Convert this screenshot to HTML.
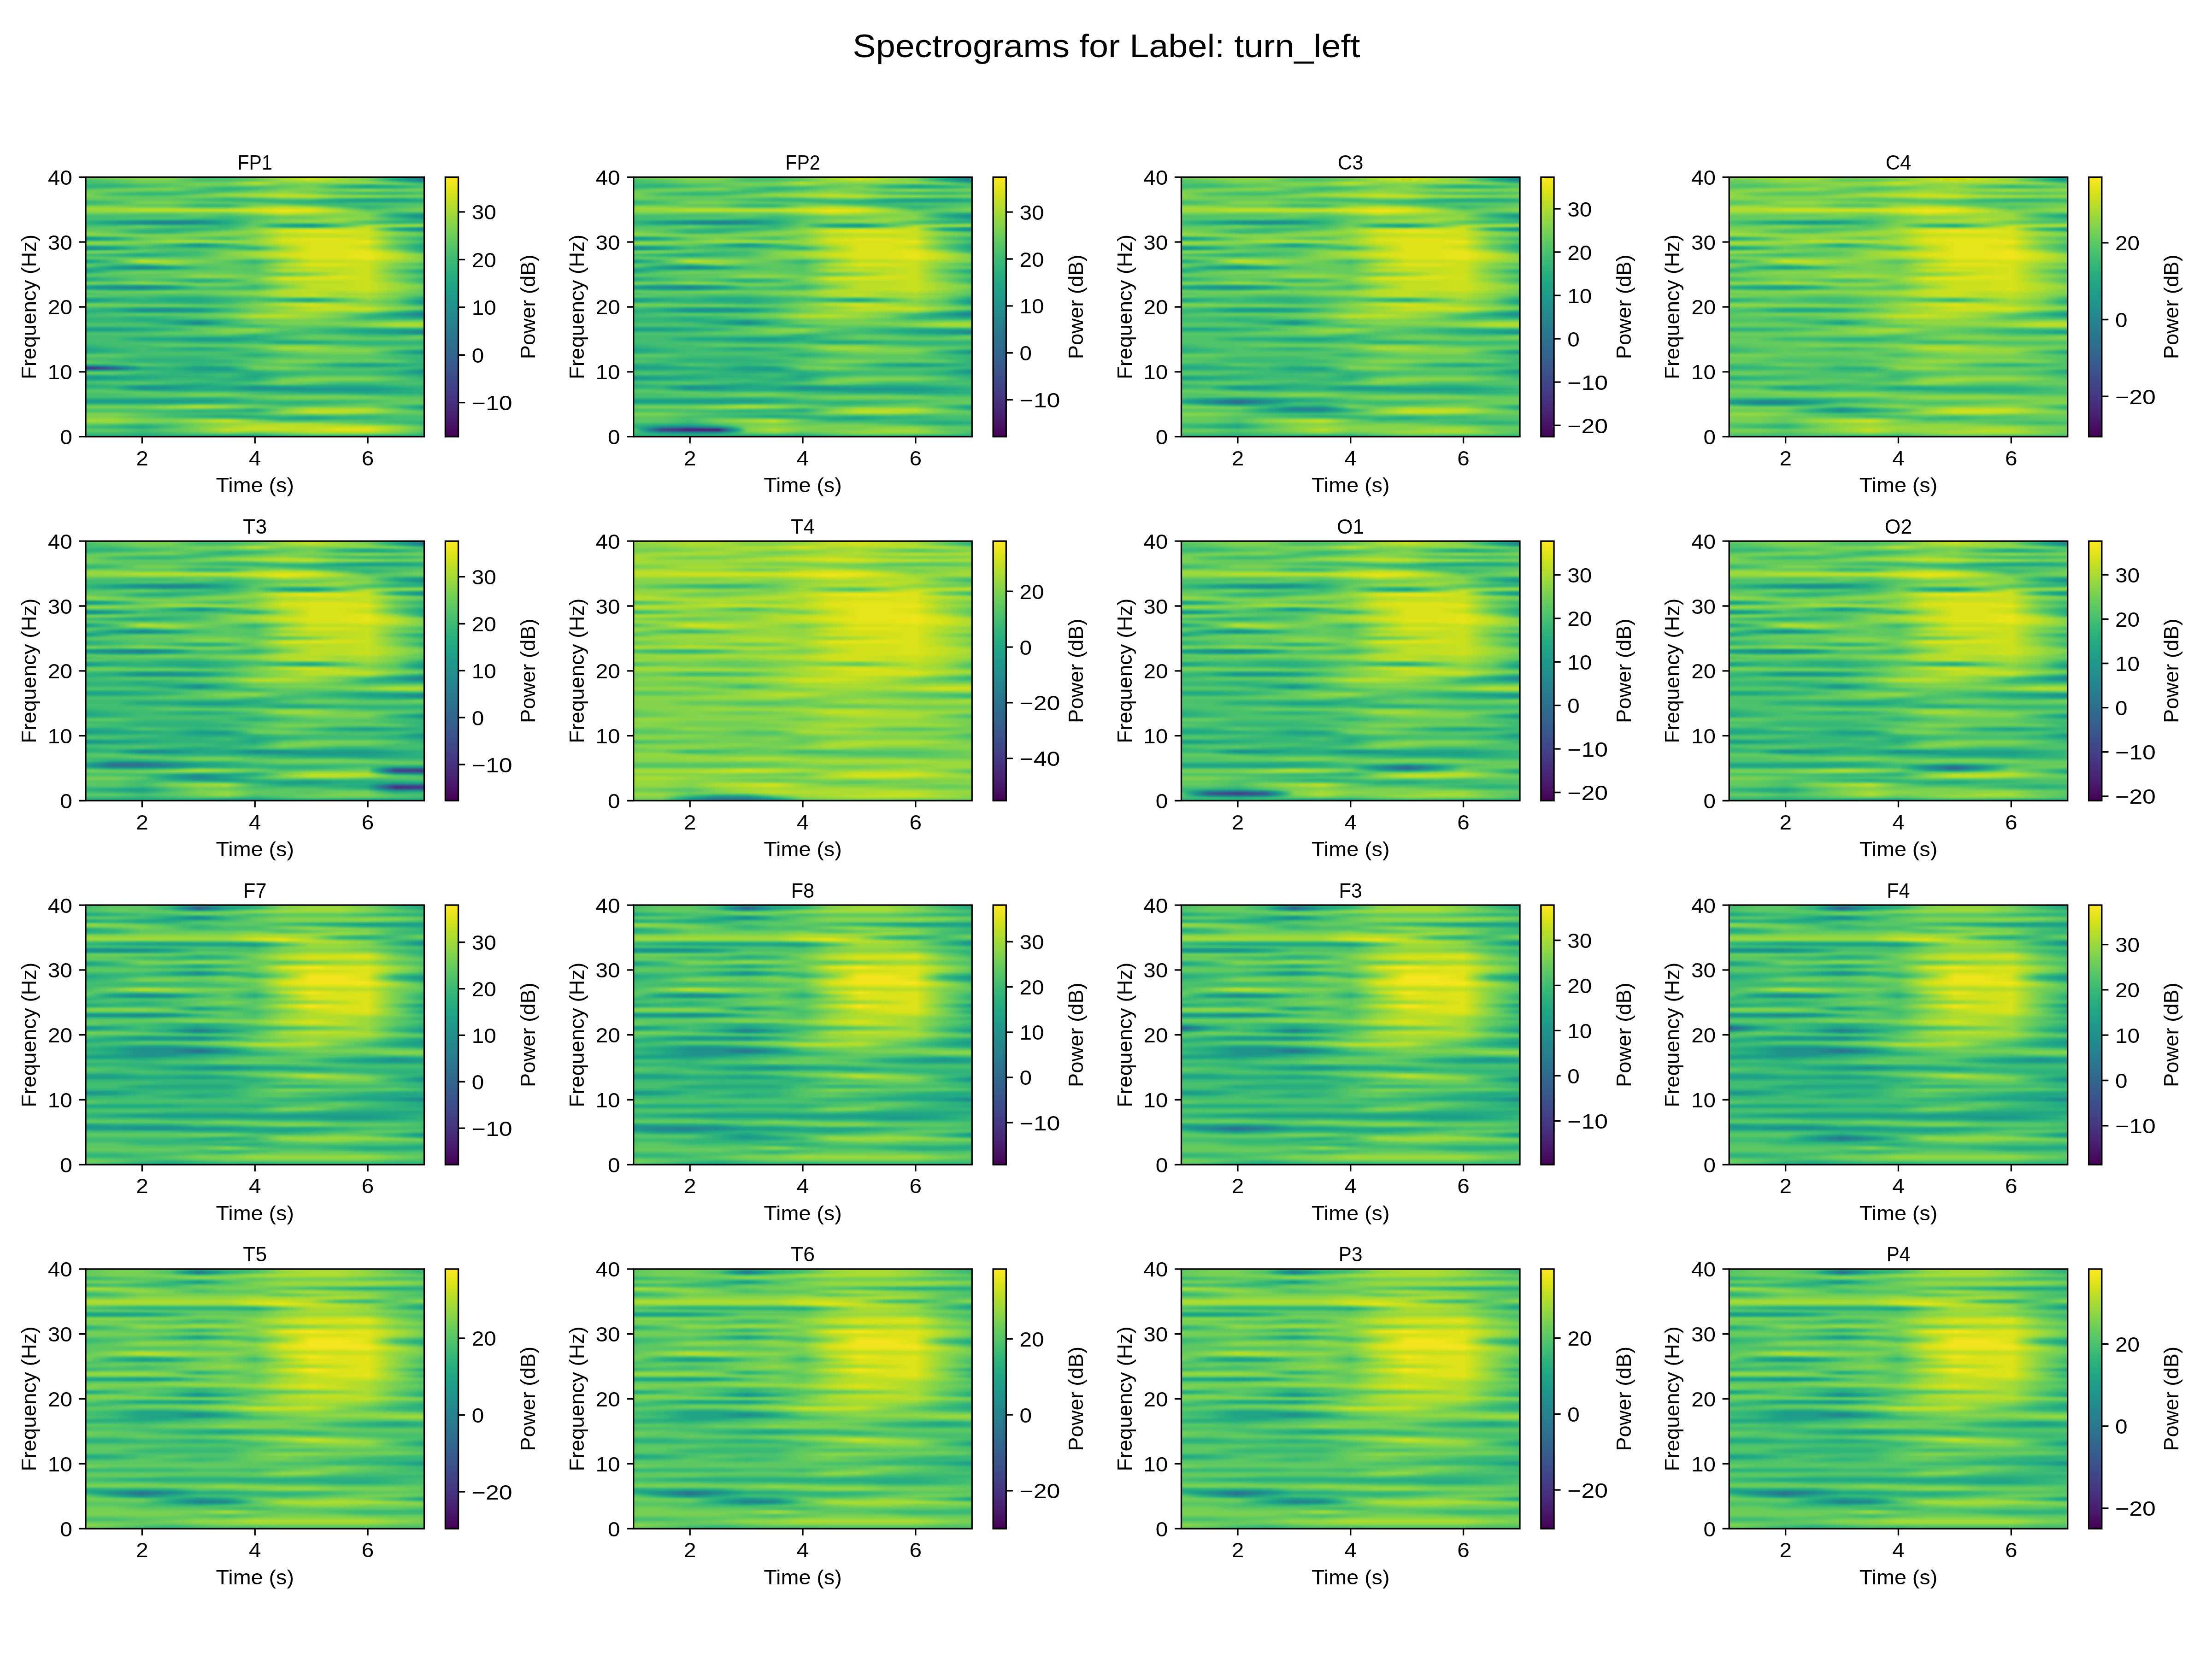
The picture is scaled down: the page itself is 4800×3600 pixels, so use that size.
<!DOCTYPE html><html><head><meta charset="utf-8"><style>
html,body{margin:0;padding:0;background:#fff;width:4800px;height:3600px;overflow:hidden;position:relative}
.p{position:absolute;overflow:hidden}
.q{position:absolute;left:-20px;right:-20px;top:-12.321px}
.q i{display:block;height:3.5204px}
svg{position:absolute;left:0;top:0;will-change:transform}
text{font-family:"Liberation Sans",sans-serif;fill:#000}
.r0{background:linear-gradient(90deg,#cccccc 20px,#cccccc,#cccccc,#cccccc,#bfbfbf,#bfbfbf,#cccccc,#d9d9d9,#e6e6e6,#d9d9d9,#cccccc,#b2b2b2,#808080 calc(100% - 20px))}
.r1{background:linear-gradient(90deg,#bcbcbc 20px,#c5c5c5,#cdcdcd,#cdcdcd,#b4b4b4,#b4b4b4,#bebebe,#dadada,#e9e9e9,#d9d9d9,#c9c9c9,#9a9a9a,#666666 calc(100% - 20px))}
.r2{background:linear-gradient(90deg,#b2b2b2 20px,#bfbfbf,#cccccc,#cccccc,#b2b2b2,#b2b2b2,#bfbfbf,#d9d9d9,#e6e6e6,#d9d9d9,#cccccc,#999999,#666666 calc(100% - 20px))}
.r3{background:linear-gradient(90deg,#b3b3b3 20px,#bababa,#c8c8c8,#c6c6c6,#c0c0c0,#c1c1c1,#d7d7d7,#d4d4d4,#d9d9d9,#d8d8d8,#d5d5d5,#b8b8b8,#8c8c8c calc(100% - 20px))}
.r4{background:linear-gradient(90deg,#b2b2b2 20px,#b2b2b2,#bfbfbf,#bfbfbf,#cccccc,#cccccc,#e6e6e6,#cccccc,#cccccc,#cccccc,#cccccc,#cccccc,#b2b2b2 calc(100% - 20px))}
.r5{background:linear-gradient(90deg,#aaaaaa 20px,#a6a6a6,#b4b4b4,#bbbbbb,#c9c9c9,#c4c4c4,#d0d0d0,#c3c3c3,#c9c9c9,#b3b3b3,#a2a2a2,#b1b1b1,#b7b7b7 calc(100% - 20px))}
.r6{background:linear-gradient(90deg,#a6a6a6 20px,#a6a6a6,#b2b2b2,#bfbfbf,#bfbfbf,#b2b2b2,#b2b2b2,#bfbfbf,#cccccc,#a6a6a6,#8c8c8c,#999999,#b2b2b2 calc(100% - 20px))}
.r7{background:linear-gradient(90deg,#b0b0b0 20px,#bbbbbb,#c3c3c3,#cbcbcb,#b8b8b8,#a5a5a5,#aeaeae,#c4c4c4,#cecece,#b9b9b9,#b3b3b3,#b1b1b1,#c1c1c1 calc(100% - 20px))}
.r8{background:linear-gradient(90deg,#bfbfbf 20px,#cccccc,#cccccc,#cccccc,#b2b2b2,#a6a6a6,#b9b9b9,#cccccc,#cccccc,#cccccc,#d9d9d9,#cccccc,#cccccc calc(100% - 20px))}
.r9{background:linear-gradient(90deg,#c8c8c8 20px,#c2c2c2,#b9b9b9,#b7b7b7,#aeaeae,#b7b7b7,#c6c6c6,#d1d1d1,#c8c8c8,#bebebe,#c1c1c1,#bababa,#bebebe calc(100% - 20px))}
.r10{background:linear-gradient(90deg,#cccccc 20px,#b2b2b2,#a6a6a6,#a6a6a6,#b2b2b2,#cccccc,#d2d2d2,#d9d9d9,#cccccc,#b2b2b2,#a6a6a6,#a6a6a6,#b2b2b2 calc(100% - 20px))}
.r11{background:linear-gradient(90deg,#cdcdcd 20px,#b5b5b5,#aeaeae,#afafaf,#c3c3c3,#d5d5d5,#dddddd,#e5e5e5,#dddddd,#c9c9c9,#c0c0c0,#bbbbbb,#c2c2c2 calc(100% - 20px))}
.r12{background:linear-gradient(90deg,#cccccc 20px,#bfbfbf,#bfbfbf,#bfbfbf,#cccccc,#cccccc,#d9d9d9,#e6e6e6,#e6e6e6,#d9d9d9,#d9d9d9,#cccccc,#cccccc calc(100% - 20px))}
.r13{background:linear-gradient(90deg,#c9c9c9 20px,#c3c3c3,#c1c1c1,#c1c1c1,#bfbfbf,#b4b4b4,#bdbdbd,#cecece,#d1d1d1,#bdbdbd,#b5b5b5,#aeaeae,#b4b4b4 calc(100% - 20px))}
.r14{background:linear-gradient(90deg,#bfbfbf 20px,#bfbfbf,#bfbfbf,#bfbfbf,#b2b2b2,#a6a6a6,#a6a6a6,#b2b2b2,#b2b2b2,#999999,#8c8c8c,#8c8c8c,#999999 calc(100% - 20px))}
.r15{background:linear-gradient(90deg,#aeaeae 20px,#b6b6b6,#c7c7c7,#c7c7c7,#bababa,#b3b3b3,#adadad,#aaaaaa,#a4a4a4,#979797,#979797,#989898,#9f9f9f calc(100% - 20px))}
.r16{background:linear-gradient(90deg,#a6a6a6 20px,#b2b2b2,#cccccc,#cccccc,#bfbfbf,#bfbfbf,#bfbfbf,#b2b2b2,#a6a6a6,#a6a6a6,#b2b2b2,#b2b2b2,#b2b2b2 calc(100% - 20px))}
.r17{background:linear-gradient(90deg,#b5b5b5 20px,#bdbdbd,#c3c3c3,#c3c3c3,#aeaeae,#afafaf,#c6c6c6,#c5c5c5,#b5b5b5,#acacac,#b2b2b2,#b7b7b7,#bcbcbc calc(100% - 20px))}
.r18{background:linear-gradient(90deg,#cccccc 20px,#cccccc,#bfbfbf,#bfbfbf,#a6a6a6,#a6a6a6,#cccccc,#d9d9d9,#cccccc,#b2b2b2,#a6a6a6,#b2b2b2,#bfbfbf calc(100% - 20px))}
.r19{background:linear-gradient(90deg,#d7d7d7 20px,#d6d6d6,#d2d2d2,#d2d2d2,#c5c5c5,#c4c4c4,#dddddd,#e8e8e8,#e4e4e4,#c6c6c6,#a7a7a7,#b8b8b8,#c6c6c6 calc(100% - 20px))}
.r20{background:linear-gradient(90deg,#d9d9d9 20px,#d9d9d9,#e6e6e6,#e6e6e6,#e6e6e6,#e6e6e6,#ececec,#f2f2f2,#f2f2f2,#d9d9d9,#b2b2b2,#bfbfbf,#cccccc calc(100% - 20px))}
.r21{background:linear-gradient(90deg,#d5d5d5 20px,#d6d6d6,#e0e0e0,#e0e0e0,#e1e1e1,#e2e2e2,#ececec,#f8f8f8,#f1f1f1,#dedede,#c1c1c1,#bebebe,#c8c8c8 calc(100% - 20px))}
.r22{background:linear-gradient(90deg,#cccccc 20px,#cccccc,#cccccc,#cccccc,#cccccc,#cccccc,#dfdfdf,#f2f2f2,#e6e6e6,#d9d9d9,#cccccc,#b2b2b2,#b2b2b2 calc(100% - 20px))}
.r23{background:linear-gradient(90deg,#bebebe 20px,#bdbdbd,#b9b9b9,#b9b9b9,#c2c2c2,#bcbcbc,#cccccc,#dfdfdf,#d7d7d7,#d0d0d0,#cecece,#a1a1a1,#8c8c8c calc(100% - 20px))}
.r24{background:linear-gradient(90deg,#b2b2b2 20px,#b2b2b2,#b2b2b2,#b2b2b2,#bfbfbf,#b2b2b2,#bdbdbd,#cbcbcb,#cccccc,#cccccc,#cdcdcd,#999999,#737373 calc(100% - 20px))}
.r25{background:linear-gradient(90deg,#b2b2b2 20px,#b5b5b5,#b9b9b9,#bbbbbb,#b9b9b9,#acacac,#b8b8b8,#c4c4c4,#c7c7c7,#d2d2d2,#d1d1d1,#a7a7a7,#818181 calc(100% - 20px))}
.r26{background:linear-gradient(90deg,#b2b2b2 20px,#b2b2b2,#b2b2b2,#b2b2b2,#a6a6a6,#a6a6a6,#bababa,#c9c9c9,#cccccc,#d9d9d9,#cfcfcf,#b2b2b2,#999999 calc(100% - 20px))}
.r27{background:linear-gradient(90deg,#acacac 20px,#9d9d9d,#8b8b8b,#858585,#838383,#9d9d9d,#bcbcbc,#d1d1d1,#d7d7d7,#d8d8d8,#bfbfbf,#a8a8a8,#9c9c9c calc(100% - 20px))}
.r28{background:linear-gradient(90deg,#a6a6a6 20px,#8c8c8c,#737373,#666666,#737373,#999999,#bebebe,#c8c8c8,#cccccc,#cccccc,#b6b6b6,#a6a6a6,#a6a6a6 calc(100% - 20px))}
.r29{background:linear-gradient(90deg,#aaaaaa 20px,#9a9a9a,#939393,#858585,#909090,#9e9e9e,#bfbfbf,#a6a6a6,#9c9c9c,#b9b9b9,#c6c6c6,#c5c5c5,#cbcbcb calc(100% - 20px))}
.r30{background:linear-gradient(90deg,#b2b2b2 20px,#b2b2b2,#bfbfbf,#b2b2b2,#b2b2b2,#a6a6a6,#c2c2c2,#949494,#808080,#b2b2b2,#dedede,#d9d9d9,#d9d9d9 calc(100% - 20px))}
.r31{background:linear-gradient(90deg,#bababa 20px,#bfbfbf,#c5c5c5,#b7b7b7,#b2b2b2,#ababab,#c7c7c7,#b3b3b3,#a9a9a9,#c8c8c8,#e9e9e9,#bababa,#a5a5a5 calc(100% - 20px))}
.r32{background:linear-gradient(90deg,#bfbfbf 20px,#bfbfbf,#b2b2b2,#a6a6a6,#a6a6a6,#b2b2b2,#cfcfcf,#e0e0e0,#e6e6e6,#e6e6e6,#ebebeb,#999999,#737373 calc(100% - 20px))}
.r33{background:linear-gradient(90deg,#c4c4c4 20px,#bcbcbc,#a4a4a4,#9e9e9e,#adadad,#bfbfbf,#d4d4d4,#f1f1f1,#fafafa,#f3f3f3,#ebebeb,#aaaaaa,#858585 calc(100% - 20px))}
.r34{background:linear-gradient(90deg,#cccccc 20px,#bfbfbf,#a6a6a6,#a6a6a6,#bfbfbf,#cccccc,#d5d5d5,#ededed,#f2f2f2,#f2f2f2,#ebebeb,#cccccc,#b2b2b2 calc(100% - 20px))}
.r35{background:linear-gradient(90deg,#d7d7d7 20px,#cccccc,#bababa,#bbbbbb,#cccccc,#d2d2d2,#cecece,#e4e4e4,#e9e9e9,#eaeaea,#ebebeb,#d5d5d5,#c5c5c5 calc(100% - 20px))}
.r36{background:linear-gradient(90deg,#cccccc 20px,#cccccc,#cccccc,#cccccc,#cccccc,#cccccc,#c8c8c8,#e0e0e0,#e6e6e6,#e6e6e6,#ebebeb,#cccccc,#bfbfbf calc(100% - 20px))}
.r37{background:linear-gradient(90deg,#9e9e9e 20px,#afafaf,#c8c8c8,#cdcdcd,#c1c1c1,#b9b9b9,#c9c9c9,#e6e6e6,#ebebeb,#ebebeb,#e9e9e9,#c2c2c2,#afafaf calc(100% - 20px))}
.r38{background:linear-gradient(90deg,#808080 20px,#999999,#bfbfbf,#cccccc,#bfbfbf,#b2b2b2,#cfcfcf,#ededed,#f2f2f2,#f2f2f2,#ebebeb,#bfbfbf,#a6a6a6 calc(100% - 20px))}
.r39{background:linear-gradient(90deg,#9d9d9d 20px,#acacac,#c4c4c4,#d7d7d7,#d5d5d5,#c9c9c9,#d3d3d3,#f0f0f0,#f4f4f4,#f4f4f4,#f2f2f2,#c6c6c6,#acacac calc(100% - 20px))}
.r40{background:linear-gradient(90deg,#cccccc 20px,#cccccc,#cccccc,#d9d9d9,#d9d9d9,#d9d9d9,#d5d5d5,#ededed,#f2f2f2,#f2f2f2,#f7f7f7,#cccccc,#b2b2b2 calc(100% - 20px))}
.r41{background:linear-gradient(90deg,#dadada 20px,#d3d3d3,#c9c9c9,#c0c0c0,#aaaaaa,#c3c3c3,#d4d4d4,#e8e8e8,#f2f2f2,#f2f2f2,#f3f3f3,#c8c8c8,#a8a8a8 calc(100% - 20px))}
.r42{background:linear-gradient(90deg,#bfbfbf 20px,#bfbfbf,#bfbfbf,#a6a6a6,#808080,#a6a6a6,#c8c8c8,#e0e0e0,#f2f2f2,#f2f2f2,#ebebeb,#bfbfbf,#999999 calc(100% - 20px))}
.r43{background:linear-gradient(90deg,#8b8b8b 20px,#9b9b9b,#b5b5b5,#a6a6a6,#8f8f8f,#a3a3a3,#afafaf,#d8d8d8,#f2f2f2,#f2f2f2,#e8e8e8,#bbbbbb,#969696 calc(100% - 20px))}
.r44{background:linear-gradient(90deg,#737373 20px,#8c8c8c,#b2b2b2,#b2b2b2,#b2b2b2,#b2b2b2,#a2a2a2,#d4d4d4,#f2f2f2,#f2f2f2,#ebebeb,#bfbfbf,#999999 calc(100% - 20px))}
.r45{background:linear-gradient(90deg,#9c9c9c 20px,#acacac,#bdbdbd,#b7b7b7,#bababa,#c2c2c2,#b7b7b7,#d8d8d8,#f2f2f2,#f2f2f2,#f2f2f2,#cbcbcb,#9c9c9c calc(100% - 20px))}
.r46{background:linear-gradient(90deg,#cccccc 20px,#cccccc,#bfbfbf,#b2b2b2,#b2b2b2,#cccccc,#d5d5d5,#e0e0e0,#f2f2f2,#f2f2f2,#f7f7f7,#d9d9d9,#a6a6a6 calc(100% - 20px))}
.r47{background:linear-gradient(90deg,#c7c7c7 20px,#bdbdbd,#ababab,#a9a9a9,#b0b0b0,#cdcdcd,#dedede,#e9e9e9,#f2f2f2,#f2f2f2,#f8f8f8,#e1e1e1,#bababa calc(100% - 20px))}
.r48{background:linear-gradient(90deg,#b2b2b2 20px,#a6a6a6,#999999,#a6a6a6,#b2b2b2,#cccccc,#dbdbdb,#ededed,#f2f2f2,#f2f2f2,#f7f7f7,#e6e6e6,#cccccc calc(100% - 20px))}
.r49{background:linear-gradient(90deg,#bababa 20px,#aeaeae,#a3a3a3,#afafaf,#b8b8b8,#cdcdcd,#d8d8d8,#ebebeb,#f4f4f4,#f4f4f4,#f8f8f8,#e7e7e7,#cfcfcf calc(100% - 20px))}
.r50{background:linear-gradient(90deg,#bfbfbf 20px,#bfbfbf,#bfbfbf,#bfbfbf,#bfbfbf,#cccccc,#cfcfcf,#e0e0e0,#f2f2f2,#f2f2f2,#f7f7f7,#e6e6e6,#cccccc calc(100% - 20px))}
.r51{background:linear-gradient(90deg,#a3a3a3 20px,#bcbcbc,#dadada,#cecece,#c8c8c8,#c6c6c6,#b9b9b9,#cfcfcf,#eaeaea,#eaeaea,#f1f1f1,#e0e0e0,#cecece calc(100% - 20px))}
.r52{background:linear-gradient(90deg,#8c8c8c 20px,#b2b2b2,#e6e6e6,#d9d9d9,#cccccc,#bfbfbf,#a8a8a8,#c7c7c7,#e6e6e6,#e6e6e6,#ebebeb,#d9d9d9,#cccccc calc(100% - 20px))}
.r53{background:linear-gradient(90deg,#a0a0a0 20px,#b5b5b5,#d7d7d7,#dcdcdc,#c8c8c8,#bebebe,#aaaaaa,#d3d3d3,#ececec,#ececec,#e9e9e9,#d1d1d1,#bdbdbd calc(100% - 20px))}
.r54{background:linear-gradient(90deg,#bfbfbf 20px,#b2b2b2,#b2b2b2,#cccccc,#bfbfbf,#bfbfbf,#b5b5b5,#e0e0e0,#f2f2f2,#f2f2f2,#ebebeb,#cccccc,#b2b2b2 calc(100% - 20px))}
.r55{background:linear-gradient(90deg,#c5c5c5 20px,#9d9d9d,#858585,#a5a5a5,#b6b6b6,#c0c0c0,#bbbbbb,#dadada,#ededed,#ededed,#ebebeb,#cdcdcd,#bbbbbb calc(100% - 20px))}
.r56{background:linear-gradient(90deg,#b2b2b2 20px,#8c8c8c,#737373,#8c8c8c,#b2b2b2,#bfbfbf,#bbbbbb,#d4d4d4,#e6e6e6,#e6e6e6,#ebebeb,#cccccc,#bfbfbf calc(100% - 20px))}
.r57{background:linear-gradient(90deg,#979797 20px,#9a9a9a,#949494,#a0a0a0,#b7b7b7,#bebebe,#bbbbbb,#dddddd,#e7e7e7,#e4e4e4,#ebebeb,#c5c5c5,#acacac calc(100% - 20px))}
.r58{background:linear-gradient(90deg,#8c8c8c 20px,#b2b2b2,#bfbfbf,#bfbfbf,#bfbfbf,#bfbfbf,#bbbbbb,#e0e0e0,#e6e6e6,#e6e6e6,#ebebeb,#bfbfbf,#999999 calc(100% - 20px))}
.r59{background:linear-gradient(90deg,#a5a5a5 20px,#bfbfbf,#c8c8c8,#c5c5c5,#c5c5c5,#c4c4c4,#bebebe,#cacaca,#d5d5d5,#e4e4e4,#ebebeb,#c4c4c4,#a1a1a1 calc(100% - 20px))}
.r60{background:linear-gradient(90deg,#bfbfbf 20px,#bfbfbf,#bfbfbf,#bfbfbf,#cccccc,#cccccc,#c2c2c2,#bababa,#cccccc,#e6e6e6,#ebebeb,#cccccc,#b2b2b2 calc(100% - 20px))}
.r61{background:linear-gradient(90deg,#bababa 20px,#bababa,#bebebe,#c0c0c0,#d4d4d4,#d2d2d2,#c5c5c5,#d0d0d0,#dedede,#ededed,#ebebeb,#cecece,#b8b8b8 calc(100% - 20px))}
.r62{background:linear-gradient(90deg,#a6a6a6 20px,#b2b2b2,#bfbfbf,#bfbfbf,#cccccc,#cccccc,#c8c8c8,#ededed,#f2f2f2,#f2f2f2,#ebebeb,#cccccc,#b2b2b2 calc(100% - 20px))}
.r63{background:linear-gradient(90deg,#9b9b9b 20px,#adadad,#bbbbbb,#b4b4b4,#acacac,#b4b4b4,#c9c9c9,#eeeeee,#f0f0f0,#ededed,#ebebeb,#cacaca,#a9a9a9 calc(100% - 20px))}
.r64{background:linear-gradient(90deg,#a6a6a6 20px,#b2b2b2,#bfbfbf,#b2b2b2,#999999,#a6a6a6,#c8c8c8,#e0e0e0,#e6e6e6,#e6e6e6,#ebebeb,#cccccc,#a6a6a6 calc(100% - 20px))}
.r65{background:linear-gradient(90deg,#c4c4c4 20px,#c3c3c3,#d2d2d2,#c7c7c7,#b0b0b0,#b8b8b8,#c4c4c4,#d9d9d9,#e3e3e3,#e4e4e4,#ebebeb,#d3d3d3,#b0b0b0 calc(100% - 20px))}
.r66{background:linear-gradient(90deg,#cccccc 20px,#bfbfbf,#cccccc,#cccccc,#cccccc,#cccccc,#bbbbbb,#d4d4d4,#e6e6e6,#e6e6e6,#ebebeb,#d9d9d9,#bfbfbf calc(100% - 20px))}
.r67{background:linear-gradient(90deg,#a2a2a2 20px,#949494,#939393,#a2a2a2,#c5c5c5,#c3c3c3,#afafaf,#cacaca,#e6e6e6,#e6e6e6,#eaeaea,#dadada,#cacaca calc(100% - 20px))}
.r68{background:linear-gradient(90deg,#808080 20px,#737373,#666666,#808080,#b2b2b2,#b2b2b2,#a8a8a8,#c7c7c7,#e6e6e6,#e6e6e6,#ebebeb,#d9d9d9,#cccccc calc(100% - 20px))}
.r69{background:linear-gradient(90deg,#999999 20px,#898989,#808080,#969696,#b4b4b4,#b3b3b3,#b1b1b1,#d3d3d3,#e6e6e6,#e7e7e7,#ececec,#dadada,#c6c6c6 calc(100% - 20px))}
.r70{background:linear-gradient(90deg,#bfbfbf 20px,#b2b2b2,#b2b2b2,#bfbfbf,#bfbfbf,#bfbfbf,#c2c2c2,#e0e0e0,#e6e6e6,#e6e6e6,#ebebeb,#d9d9d9,#bfbfbf calc(100% - 20px))}
.r71{background:linear-gradient(90deg,#bebebe 20px,#c2c2c2,#c4c4c4,#cacaca,#c4c4c4,#cacaca,#d1d1d1,#e3e3e3,#e4e4e4,#dedede,#e4e4e4,#d2d2d2,#c0c0c0 calc(100% - 20px))}
.r72{background:linear-gradient(90deg,#b2b2b2 20px,#bfbfbf,#bfbfbf,#bfbfbf,#bfbfbf,#cccccc,#d5d5d5,#e0e0e0,#e6e6e6,#d9d9d9,#dedede,#cccccc,#bfbfbf calc(100% - 20px))}
.r73{background:linear-gradient(90deg,#bdbdbd 20px,#bbbbbb,#b9b9b9,#b2b2b2,#b3b3b3,#c1c1c1,#cacaca,#e0e0e0,#e9e9e9,#dcdcdc,#dedede,#cccccc,#b5b5b5 calc(100% - 20px))}
.r74{background:linear-gradient(90deg,#bfbfbf 20px,#b2b2b2,#b2b2b2,#a6a6a6,#a6a6a6,#b2b2b2,#bbbbbb,#d4d4d4,#d9d9d9,#d9d9d9,#dedede,#cccccc,#a6a6a6 calc(100% - 20px))}
.r75{background:linear-gradient(90deg,#9b9b9b 20px,#a1a1a1,#ababab,#9c9c9c,#9d9d9d,#a9a9a9,#b4b4b4,#b2b2b2,#a8a8a8,#c2c2c2,#d8d8d8,#c6c6c6,#989898 calc(100% - 20px))}
.r76{background:linear-gradient(90deg,#808080 20px,#999999,#a6a6a6,#999999,#999999,#a6a6a6,#b5b5b5,#a1a1a1,#8c8c8c,#b2b2b2,#d1d1d1,#bfbfbf,#8c8c8c calc(100% - 20px))}
.r77{background:linear-gradient(90deg,#989898 20px,#a9a9a9,#a7a7a7,#a1a1a1,#9a9a9a,#a9a9a9,#bebebe,#bdbdbd,#b2b2b2,#c1c1c1,#cfcfcf,#bdbdbd,#858585 calc(100% - 20px))}
.r78{background:linear-gradient(90deg,#bfbfbf 20px,#bfbfbf,#b2b2b2,#b2b2b2,#a6a6a6,#b2b2b2,#c8c8c8,#e0e0e0,#e6e6e6,#d9d9d9,#d1d1d1,#bfbfbf,#8c8c8c calc(100% - 20px))}
.r79{background:linear-gradient(90deg,#cacaca 20px,#c8c8c8,#c4c4c4,#c5c5c5,#bcbcbc,#bdbdbd,#cccccc,#e2e2e2,#f0f0f0,#e3e3e3,#d5d5d5,#c5c5c5,#a6a6a6 calc(100% - 20px))}
.r80{background:linear-gradient(90deg,#bfbfbf 20px,#bfbfbf,#bfbfbf,#bfbfbf,#bfbfbf,#bfbfbf,#cbcbcb,#d5d5d5,#e6e6e6,#e6e6e6,#dddddd,#cccccc,#bfbfbf calc(100% - 20px))}
.r81{background:linear-gradient(90deg,#b1b1b1 20px,#a8a8a8,#949494,#939393,#9d9d9d,#b1b1b1,#c9c9c9,#d3d3d3,#e4e4e4,#e8e8e8,#e7e7e7,#d2d2d2,#c4c4c4 calc(100% - 20px))}
.r82{background:linear-gradient(90deg,#a6a6a6 20px,#999999,#737373,#737373,#808080,#a6a6a6,#c7c7c7,#d6d6d6,#e6e6e6,#e6e6e6,#e8e8e8,#cccccc,#b2b2b2 calc(100% - 20px))}
.r83{background:linear-gradient(90deg,#a2a2a2 20px,#a2a2a2,#8a8a8a,#8b8b8b,#919191,#aeaeae,#c4c4c4,#d6d6d6,#e0e0e0,#d8d8d8,#d8d8d8,#b3b3b3,#909090 calc(100% - 20px))}
.r84{background:linear-gradient(90deg,#a6a6a6 20px,#b2b2b2,#b2b2b2,#b2b2b2,#b2b2b2,#bfbfbf,#c9c9c9,#d7d7d7,#d9d9d9,#cccccc,#c1c1c1,#999999,#737373 calc(100% - 20px))}
.r85{background:linear-gradient(90deg,#aeaeae 20px,#b8b8b8,#bebebe,#bcbcbc,#c1c1c1,#cbcbcb,#dbdbdb,#e1e1e1,#d9d9d9,#cbcbcb,#aeaeae,#929292,#6f6f6f calc(100% - 20px))}
.r86{background:linear-gradient(90deg,#b2b2b2 20px,#b2b2b2,#b2b2b2,#b2b2b2,#bfbfbf,#cccccc,#e6e6e6,#e6e6e6,#d9d9d9,#cccccc,#a6a6a6,#999999,#808080 calc(100% - 20px))}
.r87{background:linear-gradient(90deg,#acacac 20px,#aaaaaa,#a1a1a1,#acacac,#b9b9b9,#c1c1c1,#d7d7d7,#dadada,#d3d3d3,#c5c5c5,#a8a8a8,#a4a4a4,#989898 calc(100% - 20px))}
.r88{background:linear-gradient(90deg,#a6a6a6 20px,#a6a6a6,#999999,#a6a6a6,#a6a6a6,#b2b2b2,#c6c6c6,#cccccc,#cccccc,#bfbfbf,#b2b2b2,#b2b2b2,#b2b2b2 calc(100% - 20px))}
.r89{background:linear-gradient(90deg,#a9a9a9 20px,#aaaaaa,#a3a3a3,#9c9c9c,#848484,#a9a9a9,#c5c5c5,#cacaca,#cccccc,#c5c5c5,#c0c0c0,#c6c6c6,#c9c9c9 calc(100% - 20px))}
.r90{background:linear-gradient(90deg,#b2b2b2 20px,#b2b2b2,#b2b2b2,#999999,#737373,#a6a6a6,#c6c6c6,#cccccc,#cccccc,#cccccc,#cccccc,#d9d9d9,#d9d9d9 calc(100% - 20px))}
.r91{background:linear-gradient(90deg,#b9b9b9 20px,#b9b9b9,#b9b9b9,#a7a7a7,#8d8d8d,#a9a9a9,#b6b6b6,#c6c6c6,#c7c7c7,#cacaca,#d3d3d3,#e2e2e2,#e0e0e0 calc(100% - 20px))}
.r92{background:linear-gradient(90deg,#b2b2b2 20px,#b2b2b2,#b2b2b2,#b2b2b2,#b2b2b2,#b2b2b2,#acacac,#bfbfbf,#bfbfbf,#bfbfbf,#cccccc,#d9d9d9,#d9d9d9 calc(100% - 20px))}
.r93{background:linear-gradient(90deg,#9b9b9b 20px,#9b9b9b,#a3a3a3,#acacac,#c0c0c0,#c0c0c0,#bdbdbd,#bfbfbf,#b8b8b8,#b1b1b1,#b2b2b2,#bababa,#bebebe calc(100% - 20px))}
.r94{background:linear-gradient(90deg,#8c8c8c 20px,#8c8c8c,#999999,#a6a6a6,#bfbfbf,#cccccc,#d2d2d2,#bfbfbf,#b2b2b2,#a6a6a6,#999999,#999999,#999999 calc(100% - 20px))}
.r95{background:linear-gradient(90deg,#9c9c9c 20px,#9c9c9c,#a3a3a3,#b1b1b1,#bfbfbf,#d0d0d0,#d4d4d4,#bababa,#b1b1b1,#a1a1a1,#929292,#898989,#787878 calc(100% - 20px))}
.r96{background:linear-gradient(90deg,#b2b2b2 20px,#b2b2b2,#b2b2b2,#bfbfbf,#bfbfbf,#cccccc,#c6c6c6,#b2b2b2,#b2b2b2,#a6a6a6,#999999,#8c8c8c,#737373 calc(100% - 20px))}
.r97{background:linear-gradient(90deg,#b7b7b7 20px,#b7b7b7,#b9b9b9,#bfbfbf,#bdbdbd,#c3c3c3,#b0b0b0,#b0b0b0,#b8b8b8,#b2b2b2,#a5a5a5,#9e9e9e,#969696 calc(100% - 20px))}
.r98{background:linear-gradient(90deg,#b2b2b2 20px,#b2b2b2,#b2b2b2,#b2b2b2,#b2b2b2,#b2b2b2,#9f9f9f,#b2b2b2,#bfbfbf,#bfbfbf,#b2b2b2,#b2b2b2,#bfbfbf calc(100% - 20px))}
.r99{background:linear-gradient(90deg,#b1b1b1 20px,#b1b1b1,#a2a2a2,#a2a2a2,#9c9c9c,#9b9b9b,#9c9c9c,#b7b7b7,#c6c6c6,#c5c5c5,#bebebe,#bfbfbf,#cacaca calc(100% - 20px))}
.r100{background:linear-gradient(90deg,#b2b2b2 20px,#b2b2b2,#999999,#999999,#8c8c8c,#8c8c8c,#9f9f9f,#b2b2b2,#bfbfbf,#bfbfbf,#bfbfbf,#bfbfbf,#bfbfbf calc(100% - 20px))}
.r101{background:linear-gradient(90deg,#b4b4b4 20px,#b3b3b3,#a3a3a3,#a2a2a2,#929292,#929292,#a4a4a4,#a1a1a1,#a7a7a7,#b0b0b0,#b3b3b3,#b2b2b2,#afafaf calc(100% - 20px))}
.r102{background:linear-gradient(90deg,#b2b2b2 20px,#b2b2b2,#b2b2b2,#b2b2b2,#a6a6a6,#a6a6a6,#acacac,#999999,#999999,#a6a6a6,#a6a6a6,#a6a6a6,#a6a6a6 calc(100% - 20px))}
.r103{background:linear-gradient(90deg,#adadad 20px,#b3b3b3,#b6b6b6,#bfbfbf,#bbbbbb,#b9b9b9,#bbbbbb,#aeaeae,#adadad,#afafaf,#a7a7a7,#a7a7a7,#a9a9a9 calc(100% - 20px))}
.r104{background:linear-gradient(90deg,#a6a6a6 20px,#b2b2b2,#b2b2b2,#bfbfbf,#bfbfbf,#bfbfbf,#c6c6c6,#cccccc,#cccccc,#bfbfbf,#b2b2b2,#b2b2b2,#b2b2b2 calc(100% - 20px))}
.r105{background:linear-gradient(90deg,#9f9f9f 20px,#adadad,#b2b2b2,#b2b2b2,#ababab,#b3b3b3,#c1c1c1,#dadada,#d9d9d9,#c9c9c9,#c1c1c1,#bebebe,#bababa calc(100% - 20px))}
.r106{background:linear-gradient(90deg,#999999 20px,#a6a6a6,#b2b2b2,#a6a6a6,#999999,#a6a6a6,#b9b9b9,#d9d9d9,#d9d9d9,#cccccc,#cccccc,#bfbfbf,#b2b2b2 calc(100% - 20px))}
.r107{background:linear-gradient(90deg,#949494 20px,#a2a2a2,#b2b2b2,#a9a9a9,#a1a1a1,#a9a9a9,#b6b6b6,#cdcdcd,#d3d3d3,#cecece,#cfcfcf,#b2b2b2,#959595 calc(100% - 20px))}
.r108{background:linear-gradient(90deg,#999999 20px,#a6a6a6,#b2b2b2,#b2b2b2,#b2b2b2,#b2b2b2,#b2b2b2,#bfbfbf,#cccccc,#cccccc,#cccccc,#a6a6a6,#808080 calc(100% - 20px))}
.r109{background:linear-gradient(90deg,#aeaeae 20px,#b4b4b4,#b3b3b3,#b6b6b6,#b7b7b7,#b4b4b4,#a6a6a6,#b6b6b6,#c5c5c5,#c6c6c6,#c6c6c6,#aaaaaa,#8e8e8e calc(100% - 20px))}
.r110{background:linear-gradient(90deg,#bfbfbf 20px,#bfbfbf,#b2b2b2,#b2b2b2,#b2b2b2,#b2b2b2,#9f9f9f,#b2b2b2,#bfbfbf,#bfbfbf,#bfbfbf,#b2b2b2,#a6a6a6 calc(100% - 20px))}
.r111{background:linear-gradient(90deg,#bcbcbc 20px,#bcbcbc,#adadad,#acacac,#ababab,#b4b4b4,#aaaaaa,#b7b7b7,#bcbcbc,#bdbdbd,#bcbcbc,#b2b2b2,#ababab calc(100% - 20px))}
.r112{background:linear-gradient(90deg,#b2b2b2 20px,#b2b2b2,#a6a6a6,#a6a6a6,#a6a6a6,#b2b2b2,#b9b9b9,#bfbfbf,#bfbfbf,#bfbfbf,#bfbfbf,#b2b2b2,#a6a6a6 calc(100% - 20px))}
.r113{background:linear-gradient(90deg,#b6b6b6 20px,#afafaf,#a1a1a1,#a3a3a3,#a4a4a4,#aaaaaa,#bcbcbc,#c9c9c9,#c9c9c9,#c4c4c4,#c6c6c6,#bdbdbd,#a5a5a5 calc(100% - 20px))}
.r114{background:linear-gradient(90deg,#bfbfbf 20px,#b2b2b2,#a6a6a6,#a6a6a6,#a6a6a6,#a6a6a6,#b9b9b9,#cccccc,#cccccc,#bfbfbf,#bfbfbf,#bfbfbf,#a6a6a6 calc(100% - 20px))}
.r115{background:linear-gradient(90deg,#bfbfbf 20px,#b8b8b8,#b7b7b7,#aeaeae,#a9a9a9,#afafaf,#bababa,#c5c5c5,#bfbfbf,#aaaaaa,#a2a2a2,#ababab,#a5a5a5 calc(100% - 20px))}
.r116{background:linear-gradient(90deg,#999999 20px,#a6a6a6,#bfbfbf,#b2b2b2,#a6a6a6,#b2b2b2,#bfbfbf,#bfbfbf,#b2b2b2,#999999,#8c8c8c,#999999,#a6a6a6 calc(100% - 20px))}
.r117{background:linear-gradient(90deg,#464646 20px,#6e6e6e,#acacac,#adadad,#989898,#a1a1a1,#c6c6c6,#c6c6c6,#b7b7b7,#a2a2a2,#9a9a9a,#a3a3a3,#aaaaaa calc(100% - 20px))}
.r118{background:linear-gradient(90deg,#191919 20px,#4c4c4c,#999999,#a6a6a6,#8c8c8c,#8c8c8c,#c6c6c6,#cccccc,#bfbfbf,#b2b2b2,#b2b2b2,#b2b2b2,#a6a6a6 calc(100% - 20px))}
.r119{background:linear-gradient(90deg,#595959 20px,#767676,#a2a2a2,#a4a4a4,#8f8f8f,#8b8b8b,#b7b7b7,#c3c3c3,#bcbcbc,#b7b7b7,#b8b8b8,#b1b1b1,#909090 calc(100% - 20px))}
.r120{background:linear-gradient(90deg,#b2b2b2 20px,#b2b2b2,#b2b2b2,#a6a6a6,#999999,#999999,#a6a6a6,#b2b2b2,#b2b2b2,#b2b2b2,#b2b2b2,#a6a6a6,#808080 calc(100% - 20px))}
.r121{background:linear-gradient(90deg,#cccccc 20px,#c4c4c4,#b2b2b2,#a7a7a7,#a2a2a2,#a9a9a9,#9c9c9c,#a7a7a7,#aeaeae,#afafaf,#aeaeae,#a1a1a1,#878787 calc(100% - 20px))}
.r122{background:linear-gradient(90deg,#b2b2b2 20px,#b2b2b2,#a6a6a6,#a6a6a6,#a6a6a6,#b2b2b2,#999999,#a6a6a6,#b2b2b2,#b2b2b2,#b2b2b2,#a6a6a6,#999999 calc(100% - 20px))}
.r123{background:linear-gradient(90deg,#8f8f8f 20px,#989898,#9b9b9b,#a4a4a4,#a5a5a5,#aeaeae,#979797,#b1b1b1,#bfbfbf,#c0c0c0,#c0c0c0,#b5b5b5,#a2a2a2 calc(100% - 20px))}
.r124{background:linear-gradient(90deg,#808080 20px,#8c8c8c,#999999,#a6a6a6,#a6a6a6,#a6a6a6,#999999,#bfbfbf,#cccccc,#cccccc,#cccccc,#bfbfbf,#a6a6a6 calc(100% - 20px))}
.r125{background:linear-gradient(90deg,#969696 20px,#9c9c9c,#a3a3a3,#acacac,#aeaeae,#a4a4a4,#a0a0a0,#c8c8c8,#d0d0d0,#cacaca,#cacaca,#bbbbbb,#acacac calc(100% - 20px))}
.r126{background:linear-gradient(90deg,#b2b2b2 20px,#b2b2b2,#b2b2b2,#b2b2b2,#b2b2b2,#a6a6a6,#acacac,#cccccc,#cccccc,#bfbfbf,#bfbfbf,#b2b2b2,#b2b2b2 calc(100% - 20px))}
.r127{background:linear-gradient(90deg,#b3b3b3 20px,#b9b9b9,#bdbdbd,#b2b2b2,#a7a7a7,#a8a8a8,#b8b8b8,#cdcdcd,#c2c2c2,#b3b3b3,#b3b3b3,#b3b3b3,#b5b5b5 calc(100% - 20px))}
.r128{background:linear-gradient(90deg,#a6a6a6 20px,#b2b2b2,#b2b2b2,#a6a6a6,#999999,#a6a6a6,#b2b2b2,#bfbfbf,#b2b2b2,#a6a6a6,#a6a6a6,#b2b2b2,#b2b2b2 calc(100% - 20px))}
.r129{background:linear-gradient(90deg,#a0a0a0 20px,#a8a8a8,#8c8c8c,#8e8e8e,#969696,#9f9f9f,#939393,#9c9c9c,#9e9e9e,#989898,#979797,#a6a6a6,#acacac calc(100% - 20px))}
.r130{background:linear-gradient(90deg,#a6a6a6 20px,#a6a6a6,#737373,#808080,#999999,#999999,#797979,#808080,#8c8c8c,#8c8c8c,#8c8c8c,#999999,#a6a6a6 calc(100% - 20px))}
.r131{background:linear-gradient(90deg,#b5b5b5 20px,#b3b3b3,#8b8b8b,#8d8d8d,#9c9c9c,#9a9a9a,#848484,#848484,#868686,#878787,#898989,#969696,#a5a5a5 calc(100% - 20px))}
.r132{background:linear-gradient(90deg,#bfbfbf 20px,#bfbfbf,#b2b2b2,#a6a6a6,#a6a6a6,#a6a6a6,#9f9f9f,#999999,#8c8c8c,#8c8c8c,#8c8c8c,#999999,#a6a6a6 calc(100% - 20px))}
.r133{background:linear-gradient(90deg,#bababa 20px,#bbbbbb,#c1c1c1,#b7b7b7,#bbbbbb,#bcbcbc,#b0b0b0,#a7a7a7,#9d9d9d,#9d9d9d,#959595,#9d9d9d,#a3a3a3 calc(100% - 20px))}
.r134{background:linear-gradient(90deg,#b2b2b2 20px,#b2b2b2,#bfbfbf,#bfbfbf,#cccccc,#cccccc,#b9b9b9,#b2b2b2,#b2b2b2,#b2b2b2,#a6a6a6,#a6a6a6,#a6a6a6 calc(100% - 20px))}
.r135{background:linear-gradient(90deg,#b5b5b5 20px,#b5b5b5,#bcbcbc,#bebebe,#c7c7c7,#c6c6c6,#bfbfbf,#c3c3c3,#c5c5c5,#c5c5c5,#bebebe,#b4b4b4,#b3b3b3 calc(100% - 20px))}
.r136{background:linear-gradient(90deg,#b2b2b2 20px,#b2b2b2,#b2b2b2,#b2b2b2,#b2b2b2,#b2b2b2,#bfbfbf,#cccccc,#cccccc,#cccccc,#cccccc,#bfbfbf,#bfbfbf calc(100% - 20px))}
.r137{background:linear-gradient(90deg,#9f9f9f 20px,#9f9f9f,#9d9d9d,#9d9d9d,#9a9a9a,#a1a1a1,#b6b6b6,#c3c3c3,#c3c3c3,#c1c1c1,#c1c1c1,#c1c1c1,#c0c0c0 calc(100% - 20px))}
.r138{background:linear-gradient(90deg,#8c8c8c 20px,#8c8c8c,#8c8c8c,#8c8c8c,#8c8c8c,#999999,#acacac,#b2b2b2,#b2b2b2,#b2b2b2,#b2b2b2,#bfbfbf,#bfbfbf calc(100% - 20px))}
.r139{background:linear-gradient(90deg,#909090 20px,#909090,#919191,#8f8f8f,#959595,#9f9f9f,#aaaaaa,#a7a7a7,#a6a6a6,#aeaeae,#b5b5b5,#c1c1c1,#c5c5c5 calc(100% - 20px))}
.r140{background:linear-gradient(90deg,#a6a6a6 20px,#a6a6a6,#a6a6a6,#a6a6a6,#b2b2b2,#b2b2b2,#b2b2b2,#a6a6a6,#a6a6a6,#b2b2b2,#bfbfbf,#bfbfbf,#bfbfbf calc(100% - 20px))}
.r141{background:linear-gradient(90deg,#c0c0c0 20px,#c0c0c0,#bfbfbf,#c7c7c7,#d8d8d8,#cecece,#c3c3c3,#b1b1b1,#b6b6b6,#bebebe,#c5c5c5,#b6b6b6,#a3a3a3 calc(100% - 20px))}
.r142{background:linear-gradient(90deg,#cccccc 20px,#cccccc,#cccccc,#d9d9d9,#e6e6e6,#d9d9d9,#c6c6c6,#bfbfbf,#cccccc,#cccccc,#cccccc,#b2b2b2,#8c8c8c calc(100% - 20px))}
.r143{background:linear-gradient(90deg,#bfbfbf 20px,#bfbfbf,#c1c1c1,#cacaca,#c7c7c7,#c0c0c0,#adadad,#c7c7c7,#dcdcdc,#dbdbdb,#dbdbdb,#bfbfbf,#999999 calc(100% - 20px))}
.r144{background:linear-gradient(90deg,#b2b2b2 20px,#b2b2b2,#b2b2b2,#b2b2b2,#a6a6a6,#a6a6a6,#999999,#cccccc,#e6e6e6,#e6e6e6,#e6e6e6,#cccccc,#b2b2b2 calc(100% - 20px))}
.r145{background:linear-gradient(90deg,#bcbcbc 20px,#bcbcbc,#b6b6b6,#aeaeae,#a7a7a7,#ababab,#a7a7a7,#d0d0d0,#e7e7e7,#e6e6e6,#dfdfdf,#cacaca,#c0c0c0 calc(100% - 20px))}
.r146{background:linear-gradient(90deg,#cccccc 20px,#cccccc,#bfbfbf,#b2b2b2,#b2b2b2,#b2b2b2,#b9b9b9,#cccccc,#d9d9d9,#d9d9d9,#cccccc,#bfbfbf,#bfbfbf calc(100% - 20px))}
.r147{background:linear-gradient(90deg,#cecece 20px,#cecece,#c0c0c0,#b1b1b1,#aaaaaa,#a1a1a1,#adadad,#bababa,#b7b7b7,#bdbdbd,#b4b4b4,#b7b7b7,#b8b8b8 calc(100% - 20px))}
.r148{background:linear-gradient(90deg,#cccccc 20px,#cccccc,#bfbfbf,#b2b2b2,#a6a6a6,#999999,#9f9f9f,#a6a6a6,#999999,#a6a6a6,#a6a6a6,#b2b2b2,#b2b2b2 calc(100% - 20px))}
.r149{background:linear-gradient(90deg,#d2d2d2 20px,#d2d2d2,#c5c5c5,#c0c0c0,#bebebe,#bdbdbd,#adadad,#9d9d9d,#959595,#a5a5a5,#a9a9a9,#b3b3b3,#b3b3b3 calc(100% - 20px))}
.r150{background:linear-gradient(90deg,#d9d9d9 20px,#d9d9d9,#cccccc,#cccccc,#d9d9d9,#e6e6e6,#c6c6c6,#a6a6a6,#a6a6a6,#b2b2b2,#b2b2b2,#b2b2b2,#b2b2b2 calc(100% - 20px))}
.r151{background:linear-gradient(90deg,#d7d7d7 20px,#d8d8d8,#cccccc,#cacaca,#d8d8d8,#e8e8e8,#d3d3d3,#bfbfbf,#c1c1c1,#c0c0c0,#b8b8b8,#afafaf,#aaaaaa calc(100% - 20px))}
.r152{background:linear-gradient(90deg,#cccccc 20px,#cccccc,#bfbfbf,#bfbfbf,#cccccc,#d9d9d9,#d9d9d9,#d9d9d9,#d9d9d9,#cccccc,#bfbfbf,#b2b2b2,#a6a6a6 calc(100% - 20px))}
.r153{background:linear-gradient(90deg,#bcbcbc 20px,#b4b4b4,#a8a8a8,#b5b5b5,#c9c9c9,#d4d4d4,#dfdfdf,#e4e4e4,#e3e3e3,#d9d9d9,#d2d2d2,#c6c6c6,#b1b1b1 calc(100% - 20px))}
.r154{background:linear-gradient(90deg,#b2b2b2 20px,#a6a6a6,#999999,#b2b2b2,#cccccc,#d9d9d9,#e6e6e6,#e6e6e6,#e6e6e6,#e6e6e6,#e6e6e6,#d9d9d9,#bfbfbf calc(100% - 20px))}
.r155{background:linear-gradient(90deg,#b8b8b8 20px,#b0b0b0,#a3a3a3,#b9b9b9,#cdcdcd,#e1e1e1,#e9e9e9,#e7e7e7,#e6e6e6,#efefef,#f1f1f1,#dddddd,#c3c3c3 calc(100% - 20px))}
.r156{background:linear-gradient(90deg,#bfbfbf 20px,#bfbfbf,#b2b2b2,#bfbfbf,#cccccc,#e6e6e6,#e6e6e6,#e6e6e6,#e6e6e6,#f2f2f2,#f2f2f2,#d9d9d9,#bfbfbf calc(100% - 20px))}
.r157{background:linear-gradient(90deg,#bdbdbd 20px,#bebebe,#b1b1b1,#bcbcbc,#c9c9c9,#e0e0e0,#d7d7d7,#dddddd,#e4e4e4,#ebebeb,#ececec,#d6d6d6,#bababa calc(100% - 20px))}
.r158{background:linear-gradient(90deg,#b2b2b2 20px,#b2b2b2,#a6a6a6,#b2b2b2,#bfbfbf,#cccccc,#bfbfbf,#cccccc,#d9d9d9,#d9d9d9,#d9d9d9,#cccccc,#b2b2b2 calc(100% - 20px))}
.r159{background:linear-gradient(90deg,#a6a6a6 20px,#a6a6a6,#9e9e9e,#a6a6a6,#a9a9a9,#aaaaaa,#a4a4a4,#b4b4b4,#bebebe,#bcbcbc,#b7b7b7,#b1b1b1,#a7a7a7 calc(100% - 20px))}
.r160{background:linear-gradient(90deg,#999999 20px,#999999,#999999,#999999,#8c8c8c,#808080,#868686,#999999,#999999,#999999,#8c8c8c,#8c8c8c,#999999 calc(100% - 20px))}
.r161{background:linear-gradient(90deg,#bbbbbb 20px,#bbbbbb,#adadad,#acacac,#ababab,#b4b4b4,#aaaaaa,#b7b7b7,#bcbcbc,#bdbdbd,#bcbcbc,#b2b2b2,#ababab calc(100% - 20px))}
.r162{background:linear-gradient(90deg,#b7b7b7 20px,#b0b0b0,#a1a1a1,#a3a3a3,#a4a4a4,#aaaaaa,#bcbcbc,#c9c9c9,#c9c9c9,#c4c4c4,#c6c6c6,#bdbdbd,#a5a5a5 calc(100% - 20px))}
.r163{background:linear-gradient(90deg,#bbbbbb 20px,#b0b0b0,#a6a6a6,#a6a6a6,#a6a6a6,#a6a6a6,#b9b9b9,#cccccc,#cccccc,#bfbfbf,#bfbfbf,#bfbfbf,#a6a6a6 calc(100% - 20px))}
.r164{background:linear-gradient(90deg,#afafaf 20px,#aaaaaa,#b5b5b5,#aeaeae,#a9a9a9,#afafaf,#bababa,#c5c5c5,#bfbfbf,#aaaaaa,#a2a2a2,#ababab,#a5a5a5 calc(100% - 20px))}
.r165{background:linear-gradient(90deg,#9d9d9d 20px,#a0a0a0,#bbbbbb,#b2b2b2,#a6a6a6,#b2b2b2,#bfbfbf,#bfbfbf,#b2b2b2,#999999,#8c8c8c,#999999,#a6a6a6 calc(100% - 20px))}
.r166{background:linear-gradient(90deg,#909090 20px,#969696,#aaaaaa,#adadad,#989898,#a1a1a1,#c6c6c6,#c6c6c6,#b7b7b7,#a2a2a2,#9a9a9a,#a3a3a3,#aaaaaa calc(100% - 20px))}
.r167{background:linear-gradient(90deg,#8f8f8f 20px,#959595,#9a9a9a,#a6a6a6,#8c8c8c,#8c8c8c,#c6c6c6,#cccccc,#bfbfbf,#b2b2b2,#b2b2b2,#b2b2b2,#a6a6a6 calc(100% - 20px))}
.r168{background:linear-gradient(90deg,#9c9c9c 20px,#9f9f9f,#a3a3a3,#a4a4a4,#8f8f8f,#8b8b8b,#b7b7b7,#c3c3c3,#bcbcbc,#b7b7b7,#b8b8b8,#b1b1b1,#909090 calc(100% - 20px))}
.r169{background:linear-gradient(90deg,#aeaeae 20px,#aeaeae,#b2b2b2,#a6a6a6,#999999,#999999,#a6a6a6,#b2b2b2,#b2b2b2,#b2b2b2,#b2b2b2,#a6a6a6,#808080 calc(100% - 20px))}
.r170{background:linear-gradient(90deg,#bababa 20px,#b8b8b8,#b1b1b1,#a7a7a7,#a2a2a2,#a9a9a9,#9c9c9c,#a7a7a7,#aeaeae,#afafaf,#aeaeae,#a1a1a1,#878787 calc(100% - 20px))}
.r171{background:linear-gradient(90deg,#939393 20px,#9b9b9b,#9b9b9b,#a4a4a4,#a5a5a5,#aeaeae,#979797,#b1b1b1,#bfbfbf,#c0c0c0,#c0c0c0,#b5b5b5,#a2a2a2 calc(100% - 20px))}
.r172{background:linear-gradient(90deg,#959595 20px,#9b9b9b,#a3a3a3,#acacac,#aeaeae,#a4a4a4,#a0a0a0,#c8c8c8,#d0d0d0,#cacaca,#cacaca,#bbbbbb,#acacac calc(100% - 20px))}
.r173{background:linear-gradient(90deg,#bdbdbd 20px,#bdbdbd,#b7b7b7,#aeaeae,#a7a7a7,#ababab,#a7a7a7,#d0d0d0,#e7e7e7,#e6e6e6,#dfdfdf,#cacaca,#c0c0c0 calc(100% - 20px))}
.r174{background:linear-gradient(90deg,#c9c9c9 20px,#c9c9c9,#bbbbbb,#b1b1b1,#aaaaaa,#a1a1a1,#adadad,#bababa,#b7b7b7,#bdbdbd,#b4b4b4,#b7b7b7,#b8b8b8 calc(100% - 20px))}
.r175{background:linear-gradient(90deg,#c0c0c0 20px,#bfbfbf,#b3b3b3,#b2b2b2,#a6a6a6,#999999,#9f9f9f,#a6a6a6,#999999,#a6a6a6,#a6a6a6,#b2b2b2,#b2b2b2 calc(100% - 20px))}
.r176{background:linear-gradient(90deg,#bebebe 20px,#bebebe,#b2b2b2,#c0c0c0,#bebebe,#bdbdbd,#acacac,#9c9c9c,#949494,#a5a5a5,#a8a8a8,#b2b2b2,#b3b3b3 calc(100% - 20px))}
.r177{background:linear-gradient(90deg,#c0c0c0 20px,#bfbfbf,#b3b3b3,#cccccc,#d9d9d9,#e4e4e4,#c0c0c0,#a0a0a0,#a0a0a0,#adadad,#adadad,#adadad,#b1b1b1 calc(100% - 20px))}
.r178{background:linear-gradient(90deg,#bcbcbc 20px,#bcbcbc,#afafaf,#c9c9c9,#d8d8d8,#e5e5e5,#c3c3c3,#afafaf,#b1b1b1,#afafaf,#a7a7a7,#9f9f9f,#a6a6a6 calc(100% - 20px))}
.r179{background:linear-gradient(90deg,#b3b3b3 20px,#b2b2b2,#a6a6a6,#bfbfbf,#cccccc,#d3d3d3,#bfbfbf,#bfbfbf,#bfbfbf,#b3b3b3,#a6a6a6,#999999,#a0a0a0 calc(100% - 20px))}
.r180{background:linear-gradient(90deg,#a8a8a8 20px,#a0a0a0,#959595,#b2b2b2,#c9c9c9,#cecece,#c4c4c4,#c9c9c9,#c9c9c9,#bebebe,#b7b7b7,#ababab,#ababab calc(100% - 20px))}
.r181{background:linear-gradient(90deg,#a6a6a6 20px,#7c7c7c,#6e6e6e,#8a8a8a,#cccccc,#d3d3d3,#cccccc,#cccccc,#cccccc,#cccccc,#cccccc,#bfbfbf,#bababa calc(100% - 20px))}
.r182{background:linear-gradient(90deg,#b2b2b2 20px,#464646,#303030,#3e3e3e,#cdcdcd,#dbdbdb,#cecece,#cccccc,#cbcbcb,#d4d4d4,#d6d6d6,#c2c2c2,#bdbdbd calc(100% - 20px))}
.r183{background:linear-gradient(90deg,#bfbfbf 20px,#2d2d2d,#111111,#111111,#cccccc,#e0e0e0,#cccccc,#cccccc,#cccccc,#d9d9d9,#d9d9d9,#bfbfbf,#bababa calc(100% - 20px))}
.r184{background:linear-gradient(90deg,#bebebe 20px,#565656,#3f3f3f,#414141,#c9c9c9,#dcdcdc,#c6c6c6,#cdcdcd,#d4d4d4,#dbdbdb,#dbdbdb,#c6c6c6,#b7b7b7 calc(100% - 20px))}
.r185{background:linear-gradient(90deg,#b2b2b2 20px,#919191,#818181,#8a8a8a,#bfbfbf,#cbcbcb,#bababa,#c6c6c6,#d3d3d3,#d3d3d3,#d3d3d3,#c6c6c6,#b1b1b1 calc(100% - 20px))}
.r186{background:linear-gradient(90deg,#a6a6a6 20px,#a3a3a3,#9b9b9b,#a3a3a3,#a9a9a9,#aaaaaa,#a3a3a3,#b4b4b4,#bdbdbd,#bbbbbb,#b6b6b6,#b1b1b1,#a7a7a7 calc(100% - 20px))}
.r187{background:linear-gradient(90deg,#999999 20px,#999999,#989898,#989898,#8c8c8c,#808080,#868686,#999999,#999999,#999999,#8c8c8c,#8c8c8c,#999999 calc(100% - 20px))}
.r188{background:linear-gradient(90deg,#a6a6a6 20px,#a6a6a6,#737373,#7f7f7f,#999999,#999999,#797979,#808080,#8c8c8c,#8c8c8c,#8c8c8c,#999999,#a6a6a6 calc(100% - 20px))}
.r189{background:linear-gradient(90deg,#b5b5b5 20px,#b3b3b3,#b9b9b9,#bdbdbd,#c8c8c8,#c6c6c6,#bfbfbf,#c3c3c3,#c5c5c5,#c5c5c5,#bebebe,#b4b4b4,#b3b3b3 calc(100% - 20px))}
.r190{background:linear-gradient(90deg,#b2b2b2 20px,#ababab,#a3a3a3,#ababab,#b2b2b2,#b2b2b2,#bfbfbf,#cccccc,#cccccc,#cccccc,#cccccc,#bfbfbf,#bfbfbf calc(100% - 20px))}
.r191{background:linear-gradient(90deg,#9f9f9f 20px,#8c8c8c,#777777,#898989,#989898,#9f9f9f,#b6b6b6,#c3c3c3,#c3c3c3,#c1c1c1,#c1c1c1,#c1c1c1,#c0c0c0 calc(100% - 20px))}
.r192{background:linear-gradient(90deg,#8c8c8c 20px,#6d6d6d,#4e4e4e,#6d6d6d,#8c8c8c,#999999,#acacac,#b2b2b2,#b2b2b2,#b2b2b2,#b2b2b2,#bfbfbf,#bfbfbf calc(100% - 20px))}
.r193{background:linear-gradient(90deg,#909090 20px,#6b6b6b,#464646,#6d6d6d,#9c9c9c,#a4a4a4,#aaaaaa,#a7a7a7,#a6a6a6,#aeaeae,#b5b5b5,#c1c1c1,#c5c5c5 calc(100% - 20px))}
.r194{background:linear-gradient(90deg,#a6a6a6 20px,#848484,#616161,#828282,#acacac,#acacac,#b2b2b2,#a6a6a6,#a6a6a6,#b2b2b2,#bfbfbf,#bfbfbf,#bfbfbf calc(100% - 20px))}
.r195{background:linear-gradient(90deg,#c0c0c0 20px,#acacac,#989898,#9c9c9c,#a0a0a0,#9c9c9c,#c3c3c3,#b1b1b1,#b6b6b6,#bebebe,#c5c5c5,#b6b6b6,#a3a3a3 calc(100% - 20px))}
.r196{background:linear-gradient(90deg,#cccccc 20px,#c7c7c7,#c2c2c2,#a8a8a8,#838383,#7f7f7f,#c6c6c6,#bfbfbf,#cccccc,#cccccc,#cccccc,#b2b2b2,#8c8c8c calc(100% - 20px))}
.r197{background:linear-gradient(90deg,#bfbfbf 20px,#c0c0c0,#c1c1c1,#999999,#666666,#646464,#adadad,#c7c7c7,#dcdcdc,#dbdbdb,#dbdbdb,#bfbfbf,#999999 calc(100% - 20px))}
.r198{background:linear-gradient(90deg,#b2b2b2 20px,#b2b2b2,#b2b2b2,#8b8b8b,#636363,#636363,#999999,#cccccc,#e6e6e6,#e6e6e6,#e6e6e6,#cccccc,#b2b2b2 calc(100% - 20px))}
.r199{background:linear-gradient(90deg,#bdbdbd 20px,#bdbdbd,#b6b6b6,#989898,#848484,#868686,#a7a7a7,#d0d0d0,#e7e7e7,#e6e6e6,#dfdfdf,#cacaca,#c0c0c0 calc(100% - 20px))}
.r200{background:linear-gradient(90deg,#cccccc 20px,#cccccc,#bfbfbf,#acacac,#a6a6a6,#a6a6a6,#b9b9b9,#cccccc,#d9d9d9,#d9d9d9,#cccccc,#bfbfbf,#bfbfbf calc(100% - 20px))}
.r201{background:linear-gradient(90deg,#c9c9c9 20px,#c9c9c9,#bbbbbb,#b1b1b1,#a8a8a8,#9f9f9f,#adadad,#bababa,#b7b7b7,#bdbdbd,#b4b4b4,#b7b7b7,#b8b8b8 calc(100% - 20px))}
.r202{background:linear-gradient(90deg,#bebebe 20px,#bdbdbd,#b1b1b1,#bfbfbf,#bebebe,#bdbdbd,#acacac,#9c9c9c,#949494,#a5a5a5,#a8a8a8,#b2b2b2,#b3b3b3 calc(100% - 20px))}
.r203{background:linear-gradient(90deg,#bcbcbc 20px,#bdbdbd,#b1b1b1,#cacaca,#d8d8d8,#e5e5e5,#c3c3c3,#afafaf,#b1b1b1,#afafaf,#a7a7a7,#9f9f9f,#a6a6a6 calc(100% - 20px))}
.r204{background:linear-gradient(90deg,#b3b3b3 20px,#b3b3b3,#a6a6a6,#bfbfbf,#cccccc,#d3d3d3,#bfbfbf,#bfbfbf,#bfbfbf,#b3b3b3,#a6a6a6,#999999,#a0a0a0 calc(100% - 20px))}
.r205{background:linear-gradient(90deg,#a8a8a8 20px,#a0a0a0,#949494,#b5b5b5,#c9c9c9,#cecece,#c4c4c4,#c9c9c9,#c9c9c9,#bebebe,#b7b7b7,#ababab,#ababab calc(100% - 20px))}
.r206{background:linear-gradient(90deg,#a6a6a6 20px,#999999,#8d8d8d,#b2b2b2,#cccccc,#d3d3d3,#cccccc,#cccccc,#cccccc,#cccccc,#cccccc,#bfbfbf,#bababa calc(100% - 20px))}
.r207{background:linear-gradient(90deg,#b2b2b2 20px,#ababab,#9e9e9e,#b9b9b9,#cdcdcd,#dbdbdb,#cecece,#cccccc,#cbcbcb,#d4d4d4,#d6d6d6,#c2c2c2,#bdbdbd calc(100% - 20px))}
.r208{background:linear-gradient(90deg,#bfbfbf 20px,#bfbfbf,#b2b2b2,#bfbfbf,#cccccc,#e0e0e0,#cccccc,#cccccc,#cccccc,#d9d9d9,#d9d9d9,#bfbfbf,#bababa calc(100% - 20px))}
.r209{background:linear-gradient(90deg,#bebebe 20px,#bfbfbf,#b2b2b2,#bcbcbc,#c9c9c9,#dcdcdc,#c6c6c6,#cdcdcd,#d4d4d4,#dbdbdb,#dbdbdb,#c6c6c6,#b7b7b7 calc(100% - 20px))}
.r210{background:linear-gradient(90deg,#b2b2b2 20px,#b2b2b2,#a6a6a6,#b2b2b2,#bfbfbf,#cbcbcb,#bababa,#c6c6c6,#d3d3d3,#d3d3d3,#d3d3d3,#c6c6c6,#b1b1b1 calc(100% - 20px))}
.r211{background:linear-gradient(90deg,#a6a6a6 20px,#a5a5a5,#9e9e9e,#a6a6a6,#a9a9a9,#aaaaaa,#a3a3a3,#b4b4b4,#bdbdbd,#bbbbbb,#b6b6b6,#b1b1b1,#a7a7a7 calc(100% - 20px))}
.r212{background:linear-gradient(90deg,#b4b4b4 20px,#b3b3b3,#bbbbbb,#bebebe,#c8c8c8,#c6c6c6,#bfbfbf,#c3c3c3,#c5c5c5,#c5c5c5,#bebebe,#b4b4b4,#b3b3b3 calc(100% - 20px))}
.r213{background:linear-gradient(90deg,#afafaf 20px,#ababab,#ababab,#afafaf,#b2b2b2,#b2b2b2,#bfbfbf,#cccccc,#cccccc,#cccccc,#cccccc,#bfbfbf,#bfbfbf calc(100% - 20px))}
.r214{background:linear-gradient(90deg,#949494 20px,#8a8a8a,#888888,#929292,#989898,#a1a1a1,#b6b6b6,#c3c3c3,#c3c3c3,#c1c1c1,#c1c1c1,#c1c1c1,#c0c0c0 calc(100% - 20px))}
.r215{background:linear-gradient(90deg,#777777 20px,#626262,#626262,#777777,#8c8c8c,#999999,#acacac,#b2b2b2,#b2b2b2,#b2b2b2,#b2b2b2,#bfbfbf,#bfbfbf calc(100% - 20px))}
.r216{background:linear-gradient(90deg,#6f6f6f 20px,#4e4e4e,#4f4f4f,#717171,#9b9b9b,#a1a1a1,#aaaaaa,#a7a7a7,#a6a6a6,#aeaeae,#b5b5b5,#c1c1c1,#c5c5c5 calc(100% - 20px))}
.r217{background:linear-gradient(90deg,#818181 20px,#5d5d5d,#5d5d5d,#808080,#afafaf,#b1b1b1,#b2b2b2,#a6a6a6,#a6a6a6,#b2b2b2,#bfbfbf,#bfbfbf,#bfbfbf calc(100% - 20px))}
.r218{background:linear-gradient(90deg,#a7a7a7 20px,#8f8f8f,#8f8f8f,#9f9f9f,#b0b0b0,#bdbdbd,#c3c3c3,#b1b1b1,#b6b6b6,#bebebe,#c5c5c5,#b6b6b6,#a3a3a3 calc(100% - 20px))}
.r219{background:linear-gradient(90deg,#c4c4c4 20px,#bbbbbb,#bbbbbb,#aeaeae,#989898,#b5b5b5,#c6c6c6,#bfbfbf,#cccccc,#cccccc,#cccccc,#b2b2b2,#8c8c8c calc(100% - 20px))}
.r220{background:linear-gradient(90deg,#bebebe 20px,#bdbdbd,#bebebe,#999999,#6b6b6b,#939393,#adadad,#c7c7c7,#dcdcdc,#dbdbdb,#dbdbdb,#bfbfbf,#999999 calc(100% - 20px))}
.r221{background:linear-gradient(90deg,#b2b2b2 20px,#b2b2b2,#b2b2b2,#838383,#535353,#7d7d7d,#999999,#cccccc,#e6e6e6,#e6e6e6,#e6e6e6,#cccccc,#b2b2b2 calc(100% - 20px))}
.r222{background:linear-gradient(90deg,#bdbdbd 20px,#bdbdbd,#b7b7b7,#8f8f8f,#727272,#909090,#a7a7a7,#d0d0d0,#e7e7e7,#e6e6e6,#dfdfdf,#cacaca,#c0c0c0 calc(100% - 20px))}
.r223{background:linear-gradient(90deg,#cccccc 20px,#cccccc,#bfbfbf,#a7a7a7,#9c9c9c,#a7a7a7,#b9b9b9,#cccccc,#d9d9d9,#d9d9d9,#cccccc,#bfbfbf,#bfbfbf calc(100% - 20px))}
.r224{background:linear-gradient(90deg,#c9c9c9 20px,#c9c9c9,#bbbbbb,#afafaf,#a4a4a4,#9e9e9e,#adadad,#bababa,#b7b7b7,#bdbdbd,#b4b4b4,#b7b7b7,#b8b8b8 calc(100% - 20px))}
.r225{background:linear-gradient(90deg,#c0c0c0 20px,#bfbfbf,#b3b3b3,#b2b2b2,#a5a5a5,#999999,#9f9f9f,#a6a6a6,#999999,#a6a6a6,#a6a6a6,#b2b2b2,#b2b2b2 calc(100% - 20px))}
.r226{background:linear-gradient(90deg,#bebebe 20px,#bdbdbd,#b1b1b1,#c0c0c0,#bfbfbf,#bdbdbd,#acacac,#9c9c9c,#949494,#a5a5a5,#a8a8a8,#b2b2b2,#b3b3b3 calc(100% - 20px))}
.r227{background:linear-gradient(90deg,#b5b5b5 20px,#b3b3b3,#8b8b8b,#8c8c8c,#9c9c9c,#9a9a9a,#848484,#848484,#868686,#878787,#898989,#969696,#a5a5a5 calc(100% - 20px))}
.r228{background:linear-gradient(90deg,#bababa 20px,#bcbcbc,#c3c3c3,#b8b8b8,#bbbbbb,#bcbcbc,#b0b0b0,#a7a7a7,#9d9d9d,#9d9d9d,#959595,#9e9e9e,#a4a4a4 calc(100% - 20px))}
.r229{background:linear-gradient(90deg,#b2b2b2 20px,#b1b1b1,#bebebe,#bebebe,#cccccc,#cccccc,#b9b9b9,#b2b2b2,#b2b2b2,#b2b2b2,#a6a6a6,#a6a6a6,#a6a6a6 calc(100% - 20px))}
.r230{background:linear-gradient(90deg,#b5b5b5 20px,#a6a6a6,#adadad,#b7b7b7,#c7c7c7,#c6c6c6,#bfbfbf,#c3c3c3,#c5c5c5,#c5c5c5,#bebebe,#b3b3b3,#b2b2b2 calc(100% - 20px))}
.r231{background:linear-gradient(90deg,#b2b2b2 20px,#929292,#929292,#a2a2a2,#b2b2b2,#b2b2b2,#bfbfbf,#cccccc,#cccccc,#cccccc,#cccccc,#bfbfbf,#bfbfbf calc(100% - 20px))}
.r232{background:linear-gradient(90deg,#9f9f9f 20px,#6f6f6f,#6e6e6e,#858585,#9a9a9a,#a1a1a1,#b6b6b6,#c3c3c3,#c3c3c3,#c1c1c1,#c1c1c1,#c3c3c3,#c4c4c4 calc(100% - 20px))}
.r233{background:linear-gradient(90deg,#8c8c8c 20px,#585858,#585858,#727272,#8c8c8c,#999999,#acacac,#b2b2b2,#b2b2b2,#b2b2b2,#b2b2b2,#bababa,#bababa calc(100% - 20px))}
.r234{background:linear-gradient(90deg,#909090 20px,#646464,#656565,#797979,#969696,#9f9f9f,#aaaaaa,#a7a7a7,#a6a6a6,#aeaeae,#b5b5b5,#9d9d9d,#9c9c9c calc(100% - 20px))}
.r235{background:linear-gradient(90deg,#a6a6a6 20px,#8a8a8a,#8a8a8a,#989898,#b2b2b2,#b2b2b2,#b2b2b2,#a6a6a6,#a6a6a6,#b2b2b2,#bfbfbf,#6f6f6f,#6f6f6f calc(100% - 20px))}
.r236{background:linear-gradient(90deg,#c0c0c0 20px,#b3b3b3,#b3b3b3,#c0c0c0,#d6d6d6,#cecece,#c3c3c3,#b1b1b1,#b6b6b6,#bebebe,#c5c5c5,#393939,#3b3b3b calc(100% - 20px))}
.r237{background:linear-gradient(90deg,#cccccc 20px,#cacaca,#cacaca,#d6d6d6,#e1e1e1,#d7d7d7,#c6c6c6,#bfbfbf,#cccccc,#cccccc,#cccccc,#2a2a2a,#282828 calc(100% - 20px))}
.r238{background:linear-gradient(90deg,#bfbfbf 20px,#c0c0c0,#c1c1c1,#c2c2c2,#bcbcbc,#bababa,#adadad,#c7c7c7,#dcdcdc,#dbdbdb,#dbdbdb,#606060,#535353 calc(100% - 20px))}
.r239{background:linear-gradient(90deg,#b2b2b2 20px,#b2b2b2,#b2b2b2,#a2a2a2,#8b8b8b,#989898,#999999,#cccccc,#e6e6e6,#e6e6e6,#e6e6e6,#a5a5a5,#929292 calc(100% - 20px))}
.r240{background:linear-gradient(90deg,#bdbdbd 20px,#bdbdbd,#b6b6b6,#939393,#747474,#919191,#a8a8a8,#d1d1d1,#e7e7e7,#e7e7e7,#e0e0e0,#c1c1c1,#b5b5b5 calc(100% - 20px))}
.r241{background:linear-gradient(90deg,#cccccc 20px,#cccccc,#bfbfbf,#949494,#757575,#949494,#b9b9b9,#cccccc,#d9d9d9,#d9d9d9,#cccccc,#bebebe,#bebebe calc(100% - 20px))}
.r242{background:linear-gradient(90deg,#c9c9c9 20px,#c9c9c9,#bbbbbb,#9c9c9c,#818181,#8c8c8c,#ababab,#b7b7b7,#b5b5b5,#bababa,#b2b2b2,#b6b6b6,#bababa calc(100% - 20px))}
.r243{background:linear-gradient(90deg,#c0c0c0 20px,#bfbfbf,#b3b3b3,#ababab,#9a9a9a,#919191,#999999,#9f9f9f,#939393,#9f9f9f,#9f9f9f,#aaaaaa,#afafaf calc(100% - 20px))}
.r244{background:linear-gradient(90deg,#bebebe 20px,#bdbdbd,#b1b1b1,#bebebe,#bebebe,#b8b8b8,#a2a2a2,#929292,#8a8a8a,#9b9b9b,#9e9e9e,#969696,#9f9f9f calc(100% - 20px))}
.r245{background:linear-gradient(90deg,#c0c0c0 20px,#bfbfbf,#b3b3b3,#cccccc,#d8d8d8,#dedede,#b3b3b3,#939393,#939393,#a0a0a0,#a0a0a0,#6f6f6f,#7c7c7c calc(100% - 20px))}
.r246{background:linear-gradient(90deg,#bcbcbc 20px,#bdbdbd,#b1b1b1,#cacaca,#d7d7d7,#dddddd,#b6b6b6,#a2a2a2,#a3a3a3,#a2a2a2,#9a9a9a,#353535,#424242 calc(100% - 20px))}
.r247{background:linear-gradient(90deg,#b3b3b3 20px,#b3b3b3,#a6a6a6,#bfbfbf,#cccccc,#cdcdcd,#b2b2b2,#b2b2b2,#b2b2b2,#a6a6a6,#999999,#181818,#222222 calc(100% - 20px))}
.r248{background:linear-gradient(90deg,#a8a8a8 20px,#a0a0a0,#949494,#b5b5b5,#c9c9c9,#c8c8c8,#b8b8b8,#bcbcbc,#bcbcbc,#b1b1b1,#aaaaaa,#3d3d3d,#444444 calc(100% - 20px))}
.r249{background:linear-gradient(90deg,#a6a6a6 20px,#999999,#8d8d8d,#b2b2b2,#cccccc,#cdcdcd,#bfbfbf,#bfbfbf,#bfbfbf,#bfbfbf,#bfbfbf,#7b7b7b,#818181 calc(100% - 20px))}
.r250{background:linear-gradient(90deg,#b2b2b2 20px,#ababab,#9e9e9e,#b9b9b9,#cdcdcd,#d5d5d5,#c2c2c2,#bfbfbf,#bebebe,#c8c8c8,#c9c9c9,#9f9f9f,#a7a7a7 calc(100% - 20px))}
.r251{background:linear-gradient(90deg,#bfbfbf 20px,#bfbfbf,#b2b2b2,#bfbfbf,#cccccc,#dadada,#bfbfbf,#bfbfbf,#bfbfbf,#cccccc,#cccccc,#b0b0b0,#b4b4b4 calc(100% - 20px))}
.r252{background:linear-gradient(90deg,#bebebe 20px,#bfbfbf,#b2b2b2,#bcbcbc,#c9c9c9,#d6d6d6,#b9b9b9,#bfbfbf,#c6c6c6,#cecece,#cecece,#bbbbbb,#b5b5b5 calc(100% - 20px))}
.r253{background:linear-gradient(90deg,#b2b2b2 20px,#b2b2b2,#a6a6a6,#b2b2b2,#bfbfbf,#c4c4c4,#adadad,#bababa,#c6c6c6,#c6c6c6,#c6c6c6,#bababa,#afafaf calc(100% - 20px))}
.r254{background:linear-gradient(90deg,#a6a6a6 20px,#a5a5a5,#9e9e9e,#a6a6a6,#a9a9a9,#a5a5a5,#999999,#a9a9a9,#b3b3b3,#b1b1b1,#acacac,#a6a6a6,#a4a4a4 calc(100% - 20px))}
.r255{background:linear-gradient(90deg,#999999 20px,#999999,#999999,#999999,#8c8c8c,#7c7c7c,#808080,#939393,#939393,#939393,#868686,#868686,#989898 calc(100% - 20px))}
.r256{background:linear-gradient(90deg,#bebebe 20px,#bdbdbd,#b1b1b1,#c0c0c0,#bebebe,#bdbdbd,#acacac,#9c9c9c,#949494,#a5a5a5,#a8a8a8,#b2b2b2,#b3b3b3 calc(100% - 20px))}
.r257{background:linear-gradient(90deg,#a8a8a8 20px,#a0a0a0,#949494,#b5b5b5,#c8c8c8,#cdcdcd,#c4c4c4,#c9c9c9,#c9c9c9,#bebebe,#b7b7b7,#ababab,#ababab calc(100% - 20px))}
.r258{background:linear-gradient(90deg,#a6a6a6 20px,#999999,#8b8b8b,#b0b0b0,#c9c9c9,#d2d2d2,#cccccc,#cccccc,#cccccc,#cccccc,#cccccc,#bfbfbf,#bababa calc(100% - 20px))}
.r259{background:linear-gradient(90deg,#b2b2b2 20px,#ababab,#9a9a9a,#b0b0b0,#c4c4c4,#d6d6d6,#cecece,#cccccc,#cbcbcb,#d4d4d4,#d6d6d6,#c2c2c2,#bdbdbd calc(100% - 20px))}
.r260{background:linear-gradient(90deg,#bfbfbf 20px,#bfbfbf,#a2a2a2,#9c9c9c,#a7a7a7,#cccccc,#cccccc,#cccccc,#cccccc,#d9d9d9,#d9d9d9,#bfbfbf,#bababa calc(100% - 20px))}
.r261{background:linear-gradient(90deg,#bebebe 20px,#bfbfbf,#878787,#636363,#696969,#a9a9a9,#c6c6c6,#cdcdcd,#d4d4d4,#dbdbdb,#dbdbdb,#c6c6c6,#b7b7b7 calc(100% - 20px))}
.r262{background:linear-gradient(90deg,#b2b2b2 20px,#b2b2b2,#5f5f5f,#1c1c1c,#212121,#787878,#bababa,#c6c6c6,#d3d3d3,#d3d3d3,#d3d3d3,#c6c6c6,#b1b1b1 calc(100% - 20px))}
.r263{background:linear-gradient(90deg,#a6a6a6 20px,#a5a5a5,#404040,#000000,#000000,#4a4a4a,#a3a3a3,#b4b4b4,#bdbdbd,#bbbbbb,#b6b6b6,#b1b1b1,#a7a7a7 calc(100% - 20px))}
.r264{background:linear-gradient(90deg,#999999 20px,#999999,#2a2a2a,#000000,#000000,#1d1d1d,#868686,#999999,#999999,#999999,#8c8c8c,#8c8c8c,#999999 calc(100% - 20px))}
.r265{background:linear-gradient(90deg,#a6a6a6 20px,#a6a6a6,#737373,#808080,#999999,#999999,#797979,#7f7f7f,#8c8c8c,#8c8c8c,#8c8c8c,#999999,#a6a6a6 calc(100% - 20px))}
.r266{background:linear-gradient(90deg,#b5b5b5 20px,#b3b3b3,#8b8b8b,#8d8d8d,#9c9c9c,#9a9a9a,#848484,#858585,#868686,#878787,#898989,#969696,#a5a5a5 calc(100% - 20px))}
.r267{background:linear-gradient(90deg,#b5b5b5 20px,#b5b5b5,#bcbcbc,#bebebe,#c7c7c7,#c6c6c6,#bfbfbf,#c3c3c3,#c6c6c6,#c6c6c6,#bebebe,#b4b4b4,#b3b3b3 calc(100% - 20px))}
.r268{background:linear-gradient(90deg,#b2b2b2 20px,#b2b2b2,#b2b2b2,#b2b2b2,#b2b2b2,#b2b2b2,#bfbfbf,#cbcbcb,#cacaca,#cbcbcb,#cccccc,#bfbfbf,#bfbfbf calc(100% - 20px))}
.r269{background:linear-gradient(90deg,#9f9f9f 20px,#9f9f9f,#9d9d9d,#9d9d9d,#9a9a9a,#a1a1a1,#b6b6b6,#bcbcbc,#b4b4b4,#bbbbbb,#c1c1c1,#c1c1c1,#c0c0c0 calc(100% - 20px))}
.r270{background:linear-gradient(90deg,#8c8c8c 20px,#8c8c8c,#8c8c8c,#8c8c8c,#8c8c8c,#999999,#acacac,#9d9d9d,#888888,#9d9d9d,#b2b2b2,#bfbfbf,#bfbfbf calc(100% - 20px))}
.r271{background:linear-gradient(90deg,#909090 20px,#909090,#919191,#8f8f8f,#959595,#9f9f9f,#aaaaaa,#7e7e7e,#555555,#818181,#b5b5b5,#c1c1c1,#c5c5c5 calc(100% - 20px))}
.r272{background:linear-gradient(90deg,#a6a6a6 20px,#a6a6a6,#a6a6a6,#a6a6a6,#b2b2b2,#b2b2b2,#b2b2b2,#727272,#3e3e3e,#787878,#bfbfbf,#bfbfbf,#bfbfbf calc(100% - 20px))}
.r273{background:linear-gradient(90deg,#c0c0c0 20px,#c0c0c0,#bfbfbf,#c7c7c7,#d8d8d8,#cecece,#c3c3c3,#878787,#5e5e5e,#8e8e8e,#c5c5c5,#b6b6b6,#a3a3a3 calc(100% - 20px))}
.r274{background:linear-gradient(90deg,#cccccc 20px,#cccccc,#cccccc,#d9d9d9,#e6e6e6,#d9d9d9,#c6c6c6,#a8a8a8,#999999,#b2b2b2,#cccccc,#b2b2b2,#8c8c8c calc(100% - 20px))}
.r275{background:linear-gradient(90deg,#bfbfbf 20px,#bfbfbf,#c1c1c1,#cacaca,#c7c7c7,#c0c0c0,#adadad,#bfbfbf,#c8c8c8,#d1d1d1,#dbdbdb,#bfbfbf,#999999 calc(100% - 20px))}
.r276{background:linear-gradient(90deg,#b2b2b2 20px,#b2b2b2,#b2b2b2,#b2b2b2,#a6a6a6,#a6a6a6,#999999,#cbcbcb,#e3e3e3,#e4e4e4,#e6e6e6,#cccccc,#b2b2b2 calc(100% - 20px))}
.r277{background:linear-gradient(90deg,#bdbdbd 20px,#bdbdbd,#b7b7b7,#aeaeae,#a7a7a7,#ababab,#a7a7a7,#d1d1d1,#e9e9e9,#e7e7e7,#dfdfdf,#cacaca,#c0c0c0 calc(100% - 20px))}
.r278{background:linear-gradient(90deg,#c9c9c9 20px,#c9c9c9,#bbbbbb,#b1b1b1,#aaaaaa,#a1a1a1,#adadad,#bababa,#b7b7b7,#bcbcbc,#b4b4b4,#b7b7b7,#b8b8b8 calc(100% - 20px))}
.r279{background:linear-gradient(90deg,#bcbcbc 20px,#bbbbbb,#afafaf,#c9c9c9,#d8d8d8,#e5e5e5,#c3c3c3,#afafaf,#b1b1b1,#afafaf,#a7a7a7,#9f9f9f,#a6a6a6 calc(100% - 20px))}
.r280{background:linear-gradient(90deg,#a8a8a8 20px,#a4a4a4,#989898,#b6b6b6,#c9c9c9,#cecece,#c4c4c4,#c9c9c9,#c9c9c9,#bebebe,#b7b7b7,#ababab,#ababab calc(100% - 20px))}
.r281{background:linear-gradient(90deg,#a6a6a6 20px,#828282,#747474,#979797,#cccccc,#d3d3d3,#cccccc,#cccccc,#cccccc,#cccccc,#cccccc,#bfbfbf,#bababa calc(100% - 20px))}
.r282{background:linear-gradient(90deg,#b2b2b2 20px,#4a4a4a,#343434,#555555,#cdcdcd,#dbdbdb,#cecece,#cccccc,#cbcbcb,#d4d4d4,#d6d6d6,#c2c2c2,#bdbdbd calc(100% - 20px))}
.r283{background:linear-gradient(90deg,#bfbfbf 20px,#2e2e2e,#141414,#2e2e2e,#cccccc,#e0e0e0,#cccccc,#cccccc,#cccccc,#d9d9d9,#d9d9d9,#bfbfbf,#bababa calc(100% - 20px))}
.r284{background:linear-gradient(90deg,#bebebe 20px,#5b5b5b,#434343,#585858,#c9c9c9,#dcdcdc,#c6c6c6,#cdcdcd,#d4d4d4,#dbdbdb,#dbdbdb,#c6c6c6,#b7b7b7 calc(100% - 20px))}
.r285{background:linear-gradient(90deg,#b2b2b2 20px,#979797,#888888,#979797,#bfbfbf,#cbcbcb,#bababa,#c6c6c6,#d3d3d3,#d3d3d3,#d3d3d3,#c6c6c6,#b1b1b1 calc(100% - 20px))}
.r286{background:linear-gradient(90deg,#a6a6a6 20px,#a8a8a8,#a0a0a0,#a9a9a9,#a9a9a9,#aaaaaa,#a3a3a3,#b4b4b4,#bdbdbd,#bbbbbb,#b6b6b6,#b1b1b1,#a7a7a7 calc(100% - 20px))}
.r287{background:linear-gradient(90deg,#8c8c8c 20px,#8c8c8c,#8c8c8c,#8c8c8c,#8c8c8c,#999999,#acacac,#9e9e9e,#898989,#9e9e9e,#b2b2b2,#bfbfbf,#bfbfbf calc(100% - 20px))}
.r288{background:linear-gradient(90deg,#909090 20px,#909090,#919191,#8f8f8f,#959595,#9f9f9f,#aaaaaa,#7f7f7f,#575757,#828282,#b5b5b5,#c1c1c1,#c5c5c5 calc(100% - 20px))}
.r289{background:linear-gradient(90deg,#a6a6a6 20px,#a6a6a6,#a6a6a6,#a6a6a6,#b2b2b2,#b2b2b2,#b2b2b2,#737373,#404040,#797979,#bfbfbf,#bfbfbf,#bfbfbf calc(100% - 20px))}
.r290{background:linear-gradient(90deg,#c0c0c0 20px,#c0c0c0,#bfbfbf,#c7c7c7,#d8d8d8,#cecece,#c3c3c3,#888888,#606060,#8f8f8f,#c5c5c5,#b6b6b6,#a3a3a3 calc(100% - 20px))}
.r291{background:linear-gradient(90deg,#cccccc 20px,#cccccc,#cccccc,#d9d9d9,#e6e6e6,#d9d9d9,#c6c6c6,#a8a8a8,#9a9a9a,#b3b3b3,#cccccc,#b2b2b2,#8c8c8c calc(100% - 20px))}
.r292{background:linear-gradient(90deg,#bfbfbf 20px,#bfbfbf,#c1c1c1,#cacaca,#c7c7c7,#c0c0c0,#adadad,#bfbfbf,#c8c8c8,#d2d2d2,#dbdbdb,#bfbfbf,#999999 calc(100% - 20px))}
.r293{background:linear-gradient(90deg,#b4b4b4 20px,#c1c1c1,#c1c1c1,#c1c1c1,#b4b4b4,#b4b4b4,#b4b4b4,#dbdbdb,#dbdbdb,#dbdbdb,#cecece,#b4b4b4,#9a9a9a calc(100% - 20px))}
.r294{background:linear-gradient(90deg,#b2b2b2 20px,#c0c0c0,#c0c0c0,#aeaeae,#5f5f5f,#969696,#a5a5a5,#d1d1d1,#dadada,#dadada,#cdcdcd,#b1b1b1,#969696 calc(100% - 20px))}
.r295{background:linear-gradient(90deg,#b4b4b4 20px,#c1c1c1,#c1c1c1,#a7a7a7,#3e3e3e,#8d8d8d,#a7a7a7,#cecece,#dbdbdb,#dbdbdb,#cecece,#b4b4b4,#9a9a9a calc(100% - 20px))}
.r296{background:linear-gradient(90deg,#b8b8b8 20px,#c5c5c5,#c2c2c2,#b3b3b3,#6d6d6d,#a3a3a3,#c1c1c1,#d7d7d7,#dedede,#dedede,#d1d1d1,#bebebe,#a9a9a9 calc(100% - 20px))}
.r297{background:linear-gradient(90deg,#b4b4b4 20px,#c1c1c1,#c1c1c1,#c1c1c1,#b4b4b4,#c1c1c1,#d4d4d4,#dbdbdb,#dbdbdb,#dbdbdb,#cecece,#c1c1c1,#b4b4b4 calc(100% - 20px))}
.r298{background:linear-gradient(90deg,#a1a1a1 20px,#b0b0b0,#b9b9b9,#c0c0c0,#d2d2d2,#cacaca,#c8c8c8,#cecece,#cdcdcd,#cdcdcd,#bfbfbf,#b1b1b1,#adadad calc(100% - 20px))}
.r299{background:linear-gradient(90deg,#9a9a9a 20px,#a7a7a7,#b4b4b4,#b4b4b4,#c1c1c1,#c1c1c1,#b4b4b4,#c1c1c1,#c1c1c1,#c1c1c1,#b4b4b4,#a7a7a7,#a7a7a7 calc(100% - 20px))}
.r300{background:linear-gradient(90deg,#b1b1b1 20px,#b5b5b5,#b6b6b6,#a5a5a5,#919191,#b1b1b1,#b6b6b6,#c3c3c3,#c3c3c3,#c3c3c3,#bcbcbc,#b7b7b7,#b2b2b2 calc(100% - 20px))}
.r301{background:linear-gradient(90deg,#c1c1c1 20px,#c1c1c1,#b4b4b4,#9a9a9a,#727272,#a7a7a7,#c1c1c1,#cecece,#cecece,#cecece,#cecece,#cecece,#c1c1c1 calc(100% - 20px))}
.r302{background:linear-gradient(90deg,#ababab 20px,#b3b3b3,#a4a4a4,#959595,#8b8b8b,#a9a9a9,#c3c3c3,#d4d4d4,#d6d6d6,#d7d7d7,#d9d9d9,#d2d2d2,#c2c2c2 calc(100% - 20px))}
.r303{background:linear-gradient(90deg,#9a9a9a 20px,#a7a7a7,#9a9a9a,#9a9a9a,#b4b4b4,#b4b4b4,#c1c1c1,#cecece,#cecece,#cecece,#cecece,#c1c1c1,#b4b4b4 calc(100% - 20px))}
.r304{background:linear-gradient(90deg,#b8b8b8 20px,#b7b7b7,#a9a9a9,#a6a6a6,#bebebe,#bebebe,#c2c2c2,#bdbdbd,#b4b4b4,#aeaeae,#a7a7a7,#a0a0a0,#9b9b9b calc(100% - 20px))}
.r305{background:linear-gradient(90deg,#dbdbdb 20px,#cecece,#c1c1c1,#b4b4b4,#b4b4b4,#c1c1c1,#c1c1c1,#b4b4b4,#a7a7a7,#9a9a9a,#8d8d8d,#8d8d8d,#8d8d8d calc(100% - 20px))}
.r306{background:linear-gradient(90deg,#d3d3d3 20px,#cfcfcf,#cecece,#bdbdbd,#a9a9a9,#bababa,#b9b9b9,#c2c2c2,#c0c0c0,#b0b0b0,#a0a0a0,#9c9c9c,#969696 calc(100% - 20px))}
.r307{background:linear-gradient(90deg,#b4b4b4 20px,#c1c1c1,#cecece,#c1c1c1,#a7a7a7,#b4b4b4,#b4b4b4,#cecece,#dbdbdb,#cecece,#c1c1c1,#b4b4b4,#a7a7a7 calc(100% - 20px))}
.r308{background:linear-gradient(90deg,#9d9d9d 20px,#afafaf,#c6c6c6,#c1c1c1,#b2b2b2,#b8b8b8,#bababa,#c0c0c0,#d1d1d1,#d1d1d1,#cdcdcd,#b9b9b9,#aaaaaa calc(100% - 20px))}
.r309{background:linear-gradient(90deg,#9a9a9a 20px,#a7a7a7,#c1c1c1,#c1c1c1,#c1c1c1,#c1c1c1,#c7c7c7,#b4b4b4,#c1c1c1,#cecece,#cecece,#b4b4b4,#a7a7a7 calc(100% - 20px))}
.r310{background:linear-gradient(90deg,#aaaaaa 20px,#afafaf,#c5c5c5,#c6c6c6,#c9c9c9,#c8c8c8,#d3d3d3,#c3c3c3,#cacaca,#d9d9d9,#d4d4d4,#b3b3b3,#a9a9a9 calc(100% - 20px))}
.r311{background:linear-gradient(90deg,#c1c1c1 20px,#c1c1c1,#cecece,#cecece,#cecece,#cecece,#dbdbdb,#dbdbdb,#dbdbdb,#dbdbdb,#cecece,#b4b4b4,#b4b4b4 calc(100% - 20px))}
.r312{background:linear-gradient(90deg,#d2d2d2 20px,#d1d1d1,#d5d5d5,#d5d5d5,#d4d4d4,#d5d5d5,#e1e1e1,#e3e3e3,#dddddd,#bdbdbd,#afafaf,#b4b4b4,#c7c7c7 calc(100% - 20px))}
.r313{background:linear-gradient(90deg,#dbdbdb 20px,#dbdbdb,#dbdbdb,#dbdbdb,#dbdbdb,#dbdbdb,#e8e8e8,#e8e8e8,#dbdbdb,#a7a7a7,#9a9a9a,#b4b4b4,#cecece calc(100% - 20px))}
.r314{background:linear-gradient(90deg,#dbdbdb 20px,#dddddd,#dedede,#dddddd,#dddddd,#dddddd,#f0f0f0,#f6f6f6,#e2e2e2,#bbbbbb,#aeaeae,#b6b6b6,#bababa calc(100% - 20px))}
.r315{background:linear-gradient(90deg,#cecece 20px,#cecece,#cecece,#cecece,#cecece,#cecece,#e2e2e2,#f5f5f5,#e8e8e8,#dbdbdb,#cecece,#b4b4b4,#9a9a9a calc(100% - 20px))}
.r316{background:linear-gradient(90deg,#b5b5b5 20px,#adadad,#a5a5a5,#a6a6a6,#a8a8a8,#a8a8a8,#b1b1b1,#d2d2d2,#e3e3e3,#e2e2e2,#d5d5d5,#aaaaaa,#818181 calc(100% - 20px))}
.r317{background:linear-gradient(90deg,#a7a7a7 20px,#9a9a9a,#8d8d8d,#8d8d8d,#8d8d8d,#8d8d8d,#898989,#b2b2b2,#dbdbdb,#dbdbdb,#d0d0d0,#a7a7a7,#7f7f7f calc(100% - 20px))}
.r318{background:linear-gradient(90deg,#b2b2b2 20px,#ababab,#a3a3a3,#9f9f9f,#9b9b9b,#9b9b9b,#919191,#b7b7b7,#dadada,#dadada,#d1d1d1,#b4b4b4,#9a9a9a calc(100% - 20px))}
.r319{background:linear-gradient(90deg,#b4b4b4 20px,#b4b4b4,#b4b4b4,#b4b4b4,#b4b4b4,#b4b4b4,#acacac,#cacaca,#dbdbdb,#dbdbdb,#d2d2d2,#c1c1c1,#b4b4b4 calc(100% - 20px))}
.r320{background:linear-gradient(90deg,#8d8d8d 20px,#8f8f8f,#909090,#a0a0a0,#b7b7b7,#b7b7b7,#b5b5b5,#cecece,#d6d6d6,#d6d6d6,#cbcbcb,#bcbcbc,#b3b3b3 calc(100% - 20px))}
.r321{background:linear-gradient(90deg,#727272 20px,#727272,#727272,#8d8d8d,#b4b4b4,#b4b4b4,#b5b5b5,#cbcbcb,#d3d3d3,#d3d3d3,#c9c9c9,#b4b4b4,#a7a7a7 calc(100% - 20px))}
.r322{background:linear-gradient(90deg,#939393 20px,#929292,#939393,#a2a2a2,#bebebe,#bcbcbc,#bcbcbc,#cfcfcf,#dadada,#dadada,#d6d6d6,#b7b7b7,#a3a3a3 calc(100% - 20px))}
.r323{background:linear-gradient(90deg,#c1c1c1 20px,#c1c1c1,#c1c1c1,#c1c1c1,#c1c1c1,#c1c1c1,#c5c5c5,#d8d8d8,#e5e5e5,#e5e5e5,#e8e8e8,#c1c1c1,#a7a7a7 calc(100% - 20px))}
.r324{background:linear-gradient(90deg,#c9c9c9 20px,#cacaca,#c4c4c4,#c2c2c2,#acacac,#b4b4b4,#cbcbcb,#e1e1e1,#eeeeee,#efefef,#f2f2f2,#c9c9c9,#acacac calc(100% - 20px))}
.r325{background:linear-gradient(90deg,#c1c1c1 20px,#c1c1c1,#b4b4b4,#b4b4b4,#9a9a9a,#a7a7a7,#cccccc,#e6e6e6,#f2f2f2,#f2f2f2,#f5f5f5,#cecece,#b4b4b4 calc(100% - 20px))}
.r326{background:linear-gradient(90deg,#c4c4c4 20px,#c1c1c1,#b4b4b4,#adadad,#a5a5a5,#aeaeae,#c9c9c9,#e4e4e4,#f1f1f1,#efefef,#f1f1f1,#d1d1d1,#bdbdbd calc(100% - 20px))}
.r327{background:linear-gradient(90deg,#c1c1c1 20px,#c1c1c1,#c1c1c1,#b4b4b4,#c1c1c1,#c1c1c1,#c5c5c5,#d8d8d8,#e5e5e5,#e5e5e5,#e8e8e8,#cecece,#c1c1c1 calc(100% - 20px))}
.r328{background:linear-gradient(90deg,#a4a4a4 20px,#b4b4b4,#cdcdcd,#c7c7c7,#d5d5d5,#d0d0d0,#c5c5c5,#c4c4c4,#d1d1d1,#dbdbdb,#dddddd,#c5c5c5,#bababa calc(100% - 20px))}
.r329{background:linear-gradient(90deg,#8d8d8d 20px,#a7a7a7,#cecece,#cecece,#cecece,#cecece,#c5c5c5,#bebebe,#cbcbcb,#d8d8d8,#dbdbdb,#c1c1c1,#b4b4b4 calc(100% - 20px))}
.r330{background:linear-gradient(90deg,#999999 20px,#a9a9a9,#c0c0c0,#b9b9b9,#a5a5a5,#b5b5b5,#c5c5c5,#d7d7d7,#e4e4e4,#e4e4e4,#e7e7e7,#cdcdcd,#b9b9b9 calc(100% - 20px))}
.r331{background:linear-gradient(90deg,#b4b4b4 20px,#b4b4b4,#b4b4b4,#a7a7a7,#8d8d8d,#a7a7a7,#c5c5c5,#f3f3f3,#ffffff,#f2f2f2,#f5f5f5,#dbdbdb,#c1c1c1 calc(100% - 20px))}
.r332{background:linear-gradient(90deg,#c0c0c0 20px,#bdbdbd,#b9b9b9,#b4b4b4,#aaaaaa,#bcbcbc,#c6c6c6,#f3f3f3,#ffffff,#f6f6f6,#f8f8f8,#dedede,#c3c3c3 calc(100% - 20px))}
.r333{background:linear-gradient(90deg,#c1c1c1 20px,#c1c1c1,#c1c1c1,#c1c1c1,#c1c1c1,#cecece,#c5c5c5,#e6e6e6,#f2f2f2,#f2f2f2,#f5f5f5,#dbdbdb,#c1c1c1 calc(100% - 20px))}
.r334{background:linear-gradient(90deg,#bdbdbd 20px,#bdbdbd,#bdbdbd,#afafaf,#9b9b9b,#b5b5b5,#c2c2c2,#dedede,#eeeeee,#f0f0f0,#f4f4f4,#d8d8d8,#bebebe calc(100% - 20px))}
.r335{background:linear-gradient(90deg,#b4b4b4 20px,#b4b4b4,#b4b4b4,#9a9a9a,#727272,#9a9a9a,#b8b8b8,#d8d8d8,#f2f2f2,#f2f2f2,#f5f5f5,#cecece,#b4b4b4 calc(100% - 20px))}
.r336{background:linear-gradient(90deg,#a4a4a4 20px,#aaaaaa,#afafaf,#9e9e9e,#888888,#a5a5a5,#a9a9a9,#cfcfcf,#fafafa,#f9f9f9,#f5f5f5,#b9b9b9,#a0a0a0 calc(100% - 20px))}
.r337{background:linear-gradient(90deg,#9a9a9a 20px,#a7a7a7,#b4b4b4,#b4b4b4,#b4b4b4,#c1c1c1,#a4a4a4,#cbcbcb,#ffffff,#ffffff,#f5f5f5,#a7a7a7,#8d8d8d calc(100% - 20px))}
.r338{background:linear-gradient(90deg,#9d9d9d 20px,#acacac,#c4c4c4,#c7c7c7,#c5c5c5,#cecece,#b7b7b7,#d6d6d6,#ffffff,#ffffff,#f3f3f3,#a6a6a6,#858585 calc(100% - 20px))}
.r339{background:linear-gradient(90deg,#a7a7a7 20px,#b4b4b4,#cecece,#cecece,#c1c1c1,#cecece,#cccccc,#e6e6e6,#ffffff,#ffffff,#f5f5f5,#b4b4b4,#8d8d8d calc(100% - 20px))}
.r340{background:linear-gradient(90deg,#afafaf 20px,#b6b6b6,#c5c5c5,#c4c4c4,#bababa,#c9c9c9,#cdcdcd,#f0f0f0,#ffffff,#ffffff,#fcfcfc,#c9c9c9,#a0a0a0 calc(100% - 20px))}
.r341{background:linear-gradient(90deg,#b4b4b4 20px,#b4b4b4,#b4b4b4,#b4b4b4,#b4b4b4,#c1c1c1,#c5c5c5,#f3f3f3,#ffffff,#ffffff,#ffffff,#dbdbdb,#b4b4b4 calc(100% - 20px))}
.r342{background:linear-gradient(90deg,#b5b5b5 20px,#b0b0b0,#aaaaaa,#adadad,#b0b0b0,#b6b6b6,#c4c4c4,#efefef,#fbfbfb,#fbfbfb,#fefefe,#e0e0e0,#bebebe calc(100% - 20px))}
.r343{background:linear-gradient(90deg,#b4b4b4 20px,#b4b4b4,#b4b4b4,#b4b4b4,#b4b4b4,#b4b4b4,#c5c5c5,#e6e6e6,#f2f2f2,#f2f2f2,#f5f5f5,#dbdbdb,#c1c1c1 calc(100% - 20px))}
.r344{background:linear-gradient(90deg,#b3b3b3 20px,#c2c2c2,#d2d2d2,#c9c9c9,#c2c2c2,#c1c1c1,#c3c3c3,#dbdbdb,#e7e7e7,#e9e9e9,#ebebeb,#d4d4d4,#c2c2c2 calc(100% - 20px))}
.r345{background:linear-gradient(90deg,#b4b4b4 20px,#cecece,#e8e8e8,#dbdbdb,#cecece,#cecece,#bfbfbf,#d8d8d8,#e5e5e5,#e5e5e5,#e8e8e8,#cecece,#c1c1c1 calc(100% - 20px))}
.r346{background:linear-gradient(90deg,#bababa 20px,#c8c8c8,#dbdbdb,#dadada,#cdcdcd,#cacaca,#bababa,#e1e1e1,#f3f3f3,#ebebeb,#ededed,#cdcdcd,#bbbbbb calc(100% - 20px))}
.r347{background:linear-gradient(90deg,#c1c1c1 20px,#b4b4b4,#b4b4b4,#c1c1c1,#c1c1c1,#c1c1c1,#b2b2b2,#e6e6e6,#ffffff,#f2f2f2,#f5f5f5,#cecece,#b4b4b4 calc(100% - 20px))}
.r348{background:linear-gradient(90deg,#c5c5c5 20px,#999999,#868686,#979797,#afafaf,#bfbfbf,#a4a4a4,#d8d8d8,#fbfbfb,#f3f3f3,#f6f6f6,#cecece,#adadad calc(100% - 20px))}
.r349{background:linear-gradient(90deg,#c1c1c1 20px,#8d8d8d,#727272,#7f7f7f,#a7a7a7,#c1c1c1,#9e9e9e,#cbcbcb,#f2f2f2,#f2f2f2,#f5f5f5,#cecece,#a7a7a7 calc(100% - 20px))}
.r350{background:linear-gradient(90deg,#b1b1b1 20px,#9d9d9d,#8f8f8f,#949494,#b2b2b2,#c0c0c0,#a9a9a9,#d1d1d1,#f4f4f4,#f4f4f4,#f4f4f4,#cdcdcd,#a3a3a3 calc(100% - 20px))}
.r351{background:linear-gradient(90deg,#a7a7a7 20px,#b4b4b4,#b4b4b4,#b4b4b4,#c1c1c1,#c1c1c1,#b8b8b8,#d8d8d8,#f2f2f2,#f2f2f2,#f5f5f5,#cecece,#a7a7a7 calc(100% - 20px))}
.r352{background:linear-gradient(90deg,#afafaf 20px,#bbbbbb,#b6b6b6,#bbbbbb,#c2c2c2,#c8c8c8,#bfbfbf,#d1d1d1,#e2e2e2,#ebebeb,#f5f5f5,#d0d0d0,#b2b2b2 calc(100% - 20px))}
.r353{background:linear-gradient(90deg,#b4b4b4 20px,#b4b4b4,#a7a7a7,#b4b4b4,#c1c1c1,#cecece,#bfbfbf,#cbcbcb,#d8d8d8,#e5e5e5,#f5f5f5,#cecece,#b4b4b4 calc(100% - 20px))}
.r354{background:linear-gradient(90deg,#a4a4a4 20px,#a8a8a8,#a0a0a0,#b1b1b1,#c7c7c7,#cccccc,#bebebe,#d7d7d7,#eaeaea,#ebebeb,#f5f5f5,#c6c6c6,#9e9e9e calc(100% - 20px))}
.r355{background:linear-gradient(90deg,#9a9a9a 20px,#a7a7a7,#a7a7a7,#b4b4b4,#c1c1c1,#c1c1c1,#bfbfbf,#e6e6e6,#ffffff,#f2f2f2,#f5f5f5,#c1c1c1,#8d8d8d calc(100% - 20px))}
.r356{background:linear-gradient(90deg,#b0b0b0 20px,#b9b9b9,#bababa,#b9b9b9,#a1a1a1,#b0b0b0,#c0c0c0,#e4e4e4,#ffffff,#f4f4f4,#f5f5f5,#c6c6c6,#989898 calc(100% - 20px))}
.r357{background:linear-gradient(90deg,#cecece 20px,#cecece,#cecece,#c1c1c1,#8d8d8d,#a7a7a7,#bfbfbf,#d8d8d8,#f2f2f2,#f2f2f2,#f5f5f5,#cecece,#a7a7a7 calc(100% - 20px))}
.r358{background:linear-gradient(90deg,#d5d5d5 20px,#d4d4d4,#d5d5d5,#cacaca,#a5a5a5,#b1b1b1,#b7b7b7,#cecece,#e9e9e9,#f3f3f3,#f6f6f6,#cfcfcf,#a1a1a1 calc(100% - 20px))}
.r359{background:linear-gradient(90deg,#c1c1c1 20px,#c1c1c1,#c1c1c1,#c1c1c1,#c1c1c1,#c1c1c1,#b2b2b2,#cbcbcb,#e5e5e5,#f2f2f2,#f5f5f5,#cecece,#9a9a9a calc(100% - 20px))}
.r360{background:linear-gradient(90deg,#989898 20px,#999999,#919191,#999999,#b9b9b9,#c5c5c5,#b4b4b4,#d2d2d2,#e5e5e5,#ececec,#f0f0f0,#cfcfcf,#a6a6a6 calc(100% - 20px))}
.r361{background:linear-gradient(90deg,#7f7f7f 20px,#7f7f7f,#727272,#7f7f7f,#a7a7a7,#c1c1c1,#b8b8b8,#d8d8d8,#e5e5e5,#e5e5e5,#e8e8e8,#cecece,#b4b4b4 calc(100% - 20px))}
.r362{background:linear-gradient(90deg,#939393 20px,#929292,#8a8a8a,#999999,#adadad,#bebebe,#bababa,#d9d9d9,#e4e4e4,#e4e4e4,#e0e0e0,#c8c8c8,#afafaf calc(100% - 20px))}
.r363{background:linear-gradient(90deg,#b4b4b4 20px,#b4b4b4,#b4b4b4,#c1c1c1,#c1c1c1,#c1c1c1,#bfbfbf,#d8d8d8,#e5e5e5,#e5e5e5,#dbdbdb,#c1c1c1,#a7a7a7 calc(100% - 20px))}
.r364{background:linear-gradient(90deg,#bfbfbf 20px,#c2c2c2,#c4c4c4,#cccccc,#d1d1d1,#cccccc,#cacaca,#dfdfdf,#ececec,#e5e5e5,#dadada,#bfbfbf,#acacac calc(100% - 20px))}
.r365{background:linear-gradient(90deg,#c1c1c1 20px,#c1c1c1,#c1c1c1,#c1c1c1,#cecece,#cecece,#d2d2d2,#e6e6e6,#f2f2f2,#e5e5e5,#dbdbdb,#c1c1c1,#b4b4b4 calc(100% - 20px))}
.r366{background:linear-gradient(90deg,#c9c9c9 20px,#bdbdbd,#b9b9b9,#b1b1b1,#b4b4b4,#bababa,#cdcdcd,#e5e5e5,#f2f2f2,#e9e9e9,#dbdbdb,#c2c2c2,#b0b0b0 calc(100% - 20px))}
.r367{background:linear-gradient(90deg,#c1c1c1 20px,#b4b4b4,#b4b4b4,#a7a7a7,#9a9a9a,#a7a7a7,#bfbfbf,#d8d8d8,#e5e5e5,#e5e5e5,#dbdbdb,#c1c1c1,#a7a7a7 calc(100% - 20px))}
.r368{background:linear-gradient(90deg,#9a9a9a 20px,#a2a2a2,#b4b4b4,#a8a8a8,#959595,#a7a7a7,#b1b1b1,#bfbfbf,#cccccc,#d5d5d5,#dbdbdb,#bbbbbb,#a1a1a1 calc(100% - 20px))}
.r369{background:linear-gradient(90deg,#7f7f7f 20px,#9a9a9a,#b4b4b4,#a7a7a7,#8d8d8d,#a7a7a7,#ababab,#b1b1b1,#bebebe,#cbcbcb,#dbdbdb,#b4b4b4,#9a9a9a calc(100% - 20px))}
.r370{background:linear-gradient(90deg,#999999 20px,#aaaaaa,#b1b1b1,#9b9b9b,#6d6d6d,#949494,#b0b0b0,#c2c2c2,#cfcfcf,#d6d6d6,#d9d9d9,#afafaf,#8c8c8c calc(100% - 20px))}
.r371{background:linear-gradient(90deg,#c1c1c1 20px,#c1c1c1,#b4b4b4,#9a9a9a,#656565,#8d8d8d,#b8b8b8,#d8d8d8,#e5e5e5,#e5e5e5,#dbdbdb,#b4b4b4,#8d8d8d calc(100% - 20px))}
.r372{background:linear-gradient(90deg,#cacaca 20px,#cacaca,#c2c2c2,#b4b4b4,#999999,#a9a9a9,#bababa,#dddddd,#e8e8e8,#e6e6e6,#e0e0e0,#c4c4c4,#a8a8a8 calc(100% - 20px))}
.r373{background:linear-gradient(90deg,#c1c1c1 20px,#c1c1c1,#c1c1c1,#c1c1c1,#c1c1c1,#c1c1c1,#bcbcbc,#d8d8d8,#e0e0e0,#e0e0e0,#e3e3e3,#cecece,#c1c1c1 calc(100% - 20px))}
.r374{background:linear-gradient(90deg,#bcbcbc 20px,#ababab,#9d9d9d,#a0a0a0,#9e9e9e,#b0b0b0,#c3c3c3,#d8d8d8,#dcdcdc,#dedede,#dcdcdc,#c4c4c4,#bcbcbc calc(100% - 20px))}
.r375{background:linear-gradient(90deg,#b4b4b4 20px,#9a9a9a,#7f7f7f,#7f7f7f,#727272,#9a9a9a,#c6c6c6,#d7d7d7,#dbdbdb,#dbdbdb,#d2d2d2,#b4b4b4,#a7a7a7 calc(100% - 20px))}
.r376{background:linear-gradient(90deg,#a3a3a3 20px,#9b9b9b,#919191,#909090,#868686,#a6a6a6,#bdbdbd,#cecece,#d9d9d9,#d4d4d4,#cacaca,#acacac,#969696 calc(100% - 20px))}
.r377{background:linear-gradient(90deg,#9a9a9a 20px,#a7a7a7,#b4b4b4,#b4b4b4,#b4b4b4,#c1c1c1,#bdbdbd,#cccccc,#dbdbdb,#cecece,#c3c3c3,#a7a7a7,#8d8d8d calc(100% - 20px))}
.r378{background:linear-gradient(90deg,#a6a6a6 20px,#b2b2b2,#c0c0c0,#c0c0c0,#c7c7c7,#d0d0d0,#d5d5d5,#dbdbdb,#e4e4e4,#cecece,#b9b9b9,#9e9e9e,#898989 calc(100% - 20px))}
.r379{background:linear-gradient(90deg,#b4b4b4 20px,#b4b4b4,#b4b4b4,#b4b4b4,#c1c1c1,#cecece,#e8e8e8,#e8e8e8,#e8e8e8,#cecece,#b4b4b4,#9a9a9a,#8d8d8d calc(100% - 20px))}
.r380{background:linear-gradient(90deg,#b1b1b1 20px,#a8a8a8,#989898,#989898,#acacac,#bfbfbf,#dadada,#dfdfdf,#dcdcdc,#c6c6c6,#b8b8b8,#a3a3a3,#969696 calc(100% - 20px))}
.r381{background:linear-gradient(90deg,#a7a7a7 20px,#9a9a9a,#7f7f7f,#7f7f7f,#8d8d8d,#a7a7a7,#c1c1c1,#cecece,#cecece,#c1c1c1,#c1c1c1,#b4b4b4,#a7a7a7 calc(100% - 20px))}
.r382{background:linear-gradient(90deg,#a4a4a4 20px,#969696,#7b7b7b,#7b7b7b,#696969,#8d8d8d,#b8b8b8,#c6c6c6,#cccccc,#c7c7c7,#cacaca,#c3c3c3,#bcbcbc calc(100% - 20px))}
.r383{background:linear-gradient(90deg,#a7a7a7 20px,#9a9a9a,#7f7f7f,#7f7f7f,#585858,#7f7f7f,#b4b4b4,#c1c1c1,#cecece,#cecece,#cecece,#cecece,#cecece calc(100% - 20px))}
.r384{background:linear-gradient(90deg,#ababab 20px,#9d9d9d,#808080,#7f7f7f,#6c6c6c,#878787,#a7a7a7,#b9b9b9,#c8c8c8,#cacaca,#cacaca,#d4d4d4,#d4d4d4 calc(100% - 20px))}
.r385{background:linear-gradient(90deg,#a7a7a7 20px,#9a9a9a,#7f7f7f,#7f7f7f,#8d8d8d,#9a9a9a,#a0a0a0,#b4b4b4,#c1c1c1,#c1c1c1,#c1c1c1,#cecece,#cecece calc(100% - 20px))}
.r386{background:linear-gradient(90deg,#959595 20px,#8f8f8f,#838383,#8a8a8a,#9f9f9f,#a9a9a9,#afafaf,#b9b9b9,#c1c1c1,#bcbcbc,#b5b5b5,#b7b7b7,#bdbdbd calc(100% - 20px))}
.r387{background:linear-gradient(90deg,#8d8d8d 20px,#8d8d8d,#8d8d8d,#9a9a9a,#a7a7a7,#b4b4b4,#c1c1c1,#c1c1c1,#c1c1c1,#b4b4b4,#a7a7a7,#9a9a9a,#a7a7a7 calc(100% - 20px))}
.r388{background:linear-gradient(90deg,#9f9f9f 20px,#a1a1a1,#9b9b9b,#a9a9a9,#adadad,#bababa,#c3c3c3,#c1c1c1,#b9b9b9,#a3a3a3,#959595,#848484,#949494 calc(100% - 20px))}
.r389{background:linear-gradient(90deg,#b4b4b4 20px,#b4b4b4,#a7a7a7,#b4b4b4,#b4b4b4,#c1c1c1,#c1c1c1,#c1c1c1,#b4b4b4,#9a9a9a,#8d8d8d,#7f7f7f,#8d8d8d calc(100% - 20px))}
.r390{background:linear-gradient(90deg,#b1b1b1 20px,#b0b0b0,#a9a9a9,#b9b9b9,#b9b9b9,#c9c9c9,#c5c5c5,#c4c4c4,#bbbbbb,#a4a4a4,#969696,#909090,#969696 calc(100% - 20px))}
.r391{background:linear-gradient(90deg,#a7a7a7 20px,#a7a7a7,#a7a7a7,#b4b4b4,#b4b4b4,#c1c1c1,#c1c1c1,#c1c1c1,#c1c1c1,#b4b4b4,#a7a7a7,#a7a7a7,#a7a7a7 calc(100% - 20px))}
.r392{background:linear-gradient(90deg,#a9a9a9 20px,#ababab,#a5a5a5,#a5a5a5,#a0a0a0,#9f9f9f,#a9a9a9,#adadad,#b8b8b8,#b9b9b9,#b2b2b2,#b3b3b3,#b2b2b2 calc(100% - 20px))}
.r393{background:linear-gradient(90deg,#b4b4b4 20px,#b4b4b4,#a7a7a7,#9a9a9a,#8d8d8d,#7f7f7f,#939393,#9a9a9a,#a7a7a7,#b4b4b4,#b4b4b4,#b4b4b4,#b4b4b4 calc(100% - 20px))}
.r394{background:linear-gradient(90deg,#bebebe 20px,#b6b6b6,#adadad,#9c9c9c,#8b8b8b,#818181,#959595,#989898,#999999,#ababab,#adadad,#aeaeae,#aeaeae calc(100% - 20px))}
.r395{background:linear-gradient(90deg,#c1c1c1 20px,#b4b4b4,#b4b4b4,#a7a7a7,#9a9a9a,#9a9a9a,#a7a7a7,#a7a7a7,#9a9a9a,#a7a7a7,#a7a7a7,#a7a7a7,#a7a7a7 calc(100% - 20px))}
.r396{background:linear-gradient(90deg,#b8b8b8 20px,#b0b0b0,#b8b8b8,#b2b2b2,#aeaeae,#b6b6b6,#bbbbbb,#bcbcbc,#b0b0b0,#b0b0b0,#a9a9a9,#a4a4a4,#a6a6a6 calc(100% - 20px))}
.r397{background:linear-gradient(90deg,#a7a7a7 20px,#a7a7a7,#b4b4b4,#b4b4b4,#b4b4b4,#c1c1c1,#c7c7c7,#cecece,#cecece,#c1c1c1,#b4b4b4,#a7a7a7,#a7a7a7 calc(100% - 20px))}
.r398{background:linear-gradient(90deg,#959595 20px,#969696,#a6a6a6,#a6a6a6,#a0a0a0,#afafaf,#c6c6c6,#d5d5d5,#e5e5e5,#d2d2d2,#c2c2c2,#afafaf,#a4a4a4 calc(100% - 20px))}
.r399{background:linear-gradient(90deg,#8d8d8d 20px,#8d8d8d,#9a9a9a,#9a9a9a,#8d8d8d,#9a9a9a,#bababa,#cecece,#e8e8e8,#dbdbdb,#cecece,#b4b4b4,#9a9a9a calc(100% - 20px))}
.r400{background:linear-gradient(90deg,#969696 20px,#969696,#9c9c9c,#9d9d9d,#959595,#9b9b9b,#aaaaaa,#bebebe,#d5d5d5,#d7d7d7,#d1d1d1,#adadad,#878787 calc(100% - 20px))}
.r401{background:linear-gradient(90deg,#a7a7a7 20px,#a7a7a7,#a7a7a7,#a7a7a7,#a7a7a7,#a7a7a7,#a0a0a0,#b4b4b4,#c1c1c1,#cecece,#cecece,#a7a7a7,#7f7f7f calc(100% - 20px))}
.r402{background:linear-gradient(90deg,#b0b0b0 20px,#b0b0b0,#b2b2b2,#aaaaaa,#acacac,#ababab,#a4a4a4,#bcbcbc,#c0c0c0,#c7c7c7,#c9c9c9,#acacac,#919191 calc(100% - 20px))}
.r403{background:linear-gradient(90deg,#b4b4b4 20px,#b4b4b4,#b4b4b4,#a7a7a7,#a7a7a7,#a7a7a7,#adadad,#c1c1c1,#c1c1c1,#c1c1c1,#c1c1c1,#b4b4b4,#a7a7a7 calc(100% - 20px))}
.r404{background:linear-gradient(90deg,#b4b4b4 20px,#b5b5b5,#a6a6a6,#9f9f9f,#9e9e9e,#9e9e9e,#b2b2b2,#b1b1b1,#b0b0b0,#b8b8b8,#b7b7b7,#b3b3b3,#a9a9a9 calc(100% - 20px))}
.r405{background:linear-gradient(90deg,#b4b4b4 20px,#b4b4b4,#9a9a9a,#9a9a9a,#9a9a9a,#9a9a9a,#b4b4b4,#a7a7a7,#a7a7a7,#b4b4b4,#b4b4b4,#b4b4b4,#a7a7a7 calc(100% - 20px))}
.r406{background:linear-gradient(90deg,#b2b2b2 20px,#b0b0b0,#9e9e9e,#9d9d9d,#9f9f9f,#9f9f9f,#b7b7b7,#b9b9b9,#bababa,#bababa,#bcbcbc,#bebebe,#afafaf calc(100% - 20px))}
.r407{background:linear-gradient(90deg,#a7a7a7 20px,#a7a7a7,#a7a7a7,#a7a7a7,#a7a7a7,#a7a7a7,#bababa,#cecece,#cecece,#c1c1c1,#c1c1c1,#c1c1c1,#b4b4b4 calc(100% - 20px))}
.r408{background:linear-gradient(90deg,#8e8e8e 20px,#969696,#a7a7a7,#b0b0b0,#aaaaaa,#a9a9a9,#bbbbbb,#cbcbcb,#c5c5c5,#bdbdbd,#b7b7b7,#aeaeae,#a7a7a7 calc(100% - 20px))}
.r409{background:linear-gradient(90deg,#7f7f7f 20px,#8d8d8d,#a7a7a7,#b4b4b4,#a7a7a7,#a7a7a7,#bababa,#c1c1c1,#b4b4b4,#b4b4b4,#a7a7a7,#9a9a9a,#9a9a9a calc(100% - 20px))}
.r410{background:linear-gradient(90deg,#8f8f8f 20px,#969696,#adadad,#adadad,#9d9d9d,#a5a5a5,#bbbbbb,#c1c1c1,#b2b2b2,#aeaeae,#9e9e9e,#979797,#9c9c9c calc(100% - 20px))}
.r411{background:linear-gradient(90deg,#a7a7a7 20px,#a7a7a7,#b4b4b4,#a7a7a7,#9a9a9a,#a7a7a7,#bababa,#c1c1c1,#b4b4b4,#a7a7a7,#9a9a9a,#9a9a9a,#9a9a9a calc(100% - 20px))}
.r412{background:linear-gradient(90deg,#b0b0b0 20px,#b0b0b0,#b4b4b4,#ababab,#a5a5a5,#adadad,#b6b6b6,#b3b3b3,#adadad,#9b9b9b,#979797,#929292,#838383 calc(100% - 20px))}
.r413{background:linear-gradient(90deg,#b4b4b4 20px,#b4b4b4,#b4b4b4,#b4b4b4,#b4b4b4,#b4b4b4,#b4b4b4,#a7a7a7,#a7a7a7,#9a9a9a,#9a9a9a,#8d8d8d,#727272 calc(100% - 20px))}
.r414{background:linear-gradient(90deg,#bfbfbf 20px,#b8b8b8,#b7b7b7,#b9b9b9,#b8b8b8,#b7b7b7,#b6b6b6,#ababab,#ababab,#acacac,#a7a7a7,#989898,#828282 calc(100% - 20px))}
.r415{background:linear-gradient(90deg,#c1c1c1 20px,#b4b4b4,#b4b4b4,#b4b4b4,#b4b4b4,#b4b4b4,#b4b4b4,#b4b4b4,#b4b4b4,#c1c1c1,#b4b4b4,#a7a7a7,#9a9a9a calc(100% - 20px))}
.r416{background:linear-gradient(90deg,#acacac 20px,#a4a4a4,#a5a5a5,#a3a3a3,#ababab,#ababab,#a8a8a8,#b3b3b3,#bababa,#c6c6c6,#b7b7b7,#a9a9a9,#9d9d9d calc(100% - 20px))}
.r417{background:linear-gradient(90deg,#9a9a9a 20px,#9a9a9a,#9a9a9a,#9a9a9a,#a7a7a7,#a7a7a7,#a0a0a0,#b4b4b4,#c1c1c1,#c1c1c1,#b4b4b4,#a7a7a7,#9a9a9a calc(100% - 20px))}
.r418{background:linear-gradient(90deg,#a2a2a2 20px,#a3a3a3,#a3a3a3,#a5a5a5,#adadad,#adadad,#a8a8a8,#c2c2c2,#cbcbcb,#bcbcbc,#aeaeae,#a7a7a7,#a1a1a1 calc(100% - 20px))}
.r419{background:linear-gradient(90deg,#b4b4b4 20px,#b4b4b4,#b4b4b4,#b4b4b4,#b4b4b4,#b4b4b4,#b4b4b4,#cecece,#cecece,#b4b4b4,#a7a7a7,#a7a7a7,#a7a7a7 calc(100% - 20px))}
.r420{background:linear-gradient(90deg,#b9b9b9 20px,#bababa,#bcbcbc,#b4b4b4,#b2b2b2,#b2b2b2,#b7b7b7,#c8c8c8,#bebebe,#a7a7a7,#a0a0a0,#a0a0a0,#a0a0a0 calc(100% - 20px))}
.r421{background:linear-gradient(90deg,#b4b4b4 20px,#b4b4b4,#b4b4b4,#a7a7a7,#a7a7a7,#a7a7a7,#adadad,#b4b4b4,#a7a7a7,#9a9a9a,#9a9a9a,#9a9a9a,#9a9a9a calc(100% - 20px))}
.r422{background:linear-gradient(90deg,#acacac 20px,#a4a4a4,#9c9c9c,#969696,#969696,#969696,#9b9b9b,#9c9c9c,#959595,#929292,#939393,#999999,#9f9f9f calc(100% - 20px))}
.r423{background:linear-gradient(90deg,#a7a7a7 20px,#9a9a9a,#8d8d8d,#8d8d8d,#8d8d8d,#8d8d8d,#8d8d8d,#8d8d8d,#8d8d8d,#8d8d8d,#8d8d8d,#9a9a9a,#a7a7a7 calc(100% - 20px))}
.r424{background:linear-gradient(90deg,#aaaaaa 20px,#a2a2a2,#9a9a9a,#949494,#959595,#939393,#909090,#8d8d8d,#8e8e8e,#888888,#888888,#989898,#a7a7a7 calc(100% - 20px))}
.r425{background:linear-gradient(90deg,#b4b4b4 20px,#b4b4b4,#b4b4b4,#a7a7a7,#a7a7a7,#a7a7a7,#a0a0a0,#9a9a9a,#9a9a9a,#8d8d8d,#8d8d8d,#9a9a9a,#a7a7a7 calc(100% - 20px))}
.r426{background:linear-gradient(90deg,#c1c1c1 20px,#c1c1c1,#c2c2c2,#bababa,#b7b7b7,#bfbfbf,#b6b6b6,#adadad,#acacac,#9e9e9e,#9f9f9f,#a5a5a5,#adadad calc(100% - 20px))}
.r427{background:linear-gradient(90deg,#c1c1c1 20px,#c1c1c1,#c1c1c1,#c1c1c1,#c1c1c1,#cecece,#c7c7c7,#c1c1c1,#c1c1c1,#b4b4b4,#b4b4b4,#b4b4b4,#b4b4b4 calc(100% - 20px))}
.r428{background:linear-gradient(90deg,#a9a9a9 20px,#b0b0b0,#b1b1b1,#b3b3b3,#c0c0c0,#c8c8c8,#cbcbcb,#d0d0d0,#d0d0d0,#c1c1c1,#c0c0c0,#bfbfbf,#b6b6b6 calc(100% - 20px))}
.r429{background:linear-gradient(90deg,#8d8d8d 20px,#9a9a9a,#9a9a9a,#9a9a9a,#b4b4b4,#b4b4b4,#c1c1c1,#cecece,#cecece,#c1c1c1,#c1c1c1,#c1c1c1,#b4b4b4 calc(100% - 20px))}
.r430{background:linear-gradient(90deg,#848484 20px,#8c8c8c,#848484,#838383,#9d9d9d,#9c9c9c,#acacac,#b5b5b5,#b3b3b3,#b3b3b3,#b9b9b9,#b9b9b9,#b2b2b2 calc(100% - 20px))}
.r431{background:linear-gradient(90deg,#8d8d8d 20px,#8d8d8d,#7f7f7f,#7f7f7f,#8d8d8d,#8d8d8d,#9a9a9a,#9a9a9a,#9a9a9a,#a7a7a7,#b4b4b4,#b4b4b4,#b4b4b4 calc(100% - 20px))}
.r432{background:linear-gradient(90deg,#a0a0a0 20px,#9e9e9e,#979797,#979797,#919191,#919191,#969696,#919191,#999999,#a8a8a8,#bababa,#bdbdbd,#bbbbbb calc(100% - 20px))}
.r433{background:linear-gradient(90deg,#b4b4b4 20px,#b4b4b4,#b4b4b4,#b4b4b4,#a7a7a7,#a7a7a7,#a0a0a0,#9a9a9a,#a7a7a7,#b4b4b4,#c1c1c1,#c1c1c1,#b4b4b4 calc(100% - 20px))}
.r434{background:linear-gradient(90deg,#bfbfbf 20px,#c0c0c0,#c1c1c1,#c1c1c1,#c2c2c2,#c4c4c4,#b1b1b1,#ababab,#b4b4b4,#c1c1c1,#bfbfbf,#b1b1b1,#939393 calc(100% - 20px))}
.r435{background:linear-gradient(90deg,#c1c1c1 20px,#c1c1c1,#c1c1c1,#c1c1c1,#cecece,#cecece,#bababa,#c1c1c1,#c1c1c1,#cecece,#c1c1c1,#a7a7a7,#7f7f7f calc(100% - 20px))}
.r436{background:linear-gradient(90deg,#bbbbbb 20px,#bbbbbb,#bcbcbc,#bcbcbc,#bebebe,#b3b3b3,#b5b5b5,#d4d4d4,#d0d0d0,#d7d7d7,#d0d0d0,#b8b8b8,#9a9a9a calc(100% - 20px))}
.r437{background:linear-gradient(90deg,#b4b4b4 20px,#b4b4b4,#b4b4b4,#b4b4b4,#a7a7a7,#9a9a9a,#adadad,#dbdbdb,#dbdbdb,#dbdbdb,#dbdbdb,#cecece,#c1c1c1 calc(100% - 20px))}
.r438{background:linear-gradient(90deg,#b1b1b1 20px,#b1b1b1,#ababab,#ababab,#a1a1a1,#a4a4a4,#b2b2b2,#d1d1d1,#d9d9d9,#d7d7d7,#d1d1d1,#cdcdcd,#cbcbcb calc(100% - 20px))}
.r439{background:linear-gradient(90deg,#b4b4b4 20px,#b4b4b4,#a7a7a7,#a7a7a7,#a7a7a7,#b4b4b4,#b4b4b4,#c1c1c1,#cecece,#cecece,#c1c1c1,#c1c1c1,#c1c1c1 calc(100% - 20px))}
.r440{background:linear-gradient(90deg,#bbbbbb 20px,#bbbbbb,#ababab,#ababab,#adadad,#ababab,#a7a7a7,#b8b8b8,#bfbfbf,#c1c1c1,#bababa,#bbbbbb,#b4b4b4 calc(100% - 20px))}
.r441{background:linear-gradient(90deg,#c1c1c1 20px,#c1c1c1,#b4b4b4,#b4b4b4,#b4b4b4,#a7a7a7,#a0a0a0,#b4b4b4,#b4b4b4,#b4b4b4,#b4b4b4,#b4b4b4,#a7a7a7 calc(100% - 20px))}
.r442{background:linear-gradient(90deg,#c1c1c1 20px,#c1c1c1,#bcbcbc,#bbbbbb,#bdbdbd,#c4c4c4,#b0b0b0,#b2b2b2,#b1b1b1,#a9a9a9,#a4a4a4,#a4a4a4,#9c9c9c calc(100% - 20px))}
.r443{background:linear-gradient(90deg,#c1c1c1 20px,#c1c1c1,#c1c1c1,#c1c1c1,#c1c1c1,#dbdbdb,#c1c1c1,#b4b4b4,#b4b4b4,#a7a7a7,#9a9a9a,#9a9a9a,#9a9a9a calc(100% - 20px))}
.r444{background:linear-gradient(90deg,#c3c3c3 20px,#c3c3c3,#c3c3c3,#c4c4c4,#bbbbbb,#c5c5c5,#bcbcbc,#bababa,#bababa,#b2b2b2,#a2a2a2,#a3a3a3,#a5a5a5 calc(100% - 20px))}
.r445{background:linear-gradient(90deg,#c1c1c1 20px,#c1c1c1,#c1c1c1,#c1c1c1,#b4b4b4,#a7a7a7,#b4b4b4,#c1c1c1,#c1c1c1,#c1c1c1,#b4b4b4,#b4b4b4,#b4b4b4 calc(100% - 20px))}
.r446{background:linear-gradient(90deg,#b3b3b3 20px,#b3b3b3,#bababa,#b8b8b8,#b7b7b7,#acacac,#bdbdbd,#c7c7c7,#c7c7c7,#c8c8c8,#c2c2c2,#bcbcbc,#bdbdbd calc(100% - 20px))}
.r447{background:linear-gradient(90deg,#a7a7a7 20px,#a7a7a7,#b4b4b4,#b4b4b4,#c1c1c1,#c1c1c1,#cecece,#cecece,#cecece,#cecece,#cecece,#c1c1c1,#c1c1c1 calc(100% - 20px))}
.r448{background:linear-gradient(90deg,#a8a8a8 20px,#a9a9a9,#b2b2b2,#bbbbbb,#cbcbcb,#cccccc,#d9d9d9,#d8d8d8,#d8d8d8,#d7d7d7,#d8d8d8,#cacaca,#c2c2c2 calc(100% - 20px))}
.r449{background:linear-gradient(90deg,#b4b4b4 20px,#b4b4b4,#b4b4b4,#c1c1c1,#cecece,#cecece,#dbdbdb,#dbdbdb,#dbdbdb,#dbdbdb,#dbdbdb,#cecece,#c1c1c1 calc(100% - 20px))}
.r450{background:linear-gradient(90deg,#c5c5c5 20px,#bebebe,#b7b7b7,#b8b8b8,#c4c4c4,#cbcbcb,#d2d2d2,#d1d1d1,#d1d1d1,#d1d1d1,#d1d1d1,#c3c3c3,#bbbbbb calc(100% - 20px))}
.r451{background:linear-gradient(90deg,#cecece 20px,#c1c1c1,#b4b4b4,#a7a7a7,#b4b4b4,#c1c1c1,#c1c1c1,#c1c1c1,#c1c1c1,#c1c1c1,#c1c1c1,#b4b4b4,#b4b4b4 calc(100% - 20px))}
.r452{background:linear-gradient(90deg,#c6c6c6 20px,#b7b7b7,#a4a4a4,#989898,#a6a6a6,#afafaf,#ababab,#b3b3b3,#b3b3b3,#b3b3b3,#b3b3b3,#ababab,#adadad calc(100% - 20px))}
.r453{background:linear-gradient(90deg,#b4b4b4 20px,#a7a7a7,#8d8d8d,#8d8d8d,#9a9a9a,#9a9a9a,#939393,#a7a7a7,#a7a7a7,#a7a7a7,#a7a7a7,#a7a7a7,#a7a7a7 calc(100% - 20px))}
.r454{background:linear-gradient(90deg,#c1c1c1 20px,#c1c1c1,#c3c3c3,#bababa,#b7b7b7,#bfbfbf,#b6b6b6,#adadad,#acacac,#9e9e9e,#9f9f9f,#a5a5a5,#adadad calc(100% - 20px))}
.r455{background:linear-gradient(90deg,#a8a8a8 20px,#aeaeae,#aeaeae,#b1b1b1,#c1c1c1,#c8c8c8,#cbcbcb,#d0d0d0,#d0d0d0,#c1c1c1,#c0c0c0,#bfbfbf,#b6b6b6 calc(100% - 20px))}
.r456{background:linear-gradient(90deg,#8b8b8b 20px,#949494,#949494,#979797,#b4b4b4,#b4b4b4,#c1c1c1,#cecece,#cecece,#c1c1c1,#c1c1c1,#c1c1c1,#b4b4b4 calc(100% - 20px))}
.r457{background:linear-gradient(90deg,#7e7e7e 20px,#7f7f7f,#7e7e7e,#808080,#9c9c9c,#9b9b9b,#acacac,#b5b5b5,#b3b3b3,#b3b3b3,#b9b9b9,#b9b9b9,#b2b2b2 calc(100% - 20px))}
.r458{background:linear-gradient(90deg,#808080 20px,#737373,#717171,#787878,#8d8d8d,#8d8d8d,#9a9a9a,#9a9a9a,#9a9a9a,#a7a7a7,#b4b4b4,#b4b4b4,#b4b4b4 calc(100% - 20px))}
.r459{background:linear-gradient(90deg,#8b8b8b 20px,#747474,#737373,#868686,#969696,#939393,#969696,#919191,#999999,#a8a8a8,#bababa,#bdbdbd,#bbbbbb calc(100% - 20px))}
.r460{background:linear-gradient(90deg,#9c9c9c 20px,#848484,#848484,#9a9a9a,#a1a1a1,#a4a4a4,#a0a0a0,#9a9a9a,#a7a7a7,#b4b4b4,#c1c1c1,#c1c1c1,#b4b4b4 calc(100% - 20px))}
.r461{background:linear-gradient(90deg,#b1b1b1 20px,#a2a2a2,#a2a2a2,#a2a2a2,#989898,#afafaf,#b1b1b1,#ababab,#b4b4b4,#c1c1c1,#bfbfbf,#b1b1b1,#939393 calc(100% - 20px))}
.r462{background:linear-gradient(90deg,#bebebe 20px,#bbbbbb,#bbbbbb,#a2a2a2,#898989,#ababab,#bababa,#c1c1c1,#c1c1c1,#cecece,#c1c1c1,#a7a7a7,#7f7f7f calc(100% - 20px))}
.r463{background:linear-gradient(90deg,#bcbcbc 20px,#bdbdbd,#bebebe,#a1a1a1,#838383,#999999,#b5b5b5,#d4d4d4,#d0d0d0,#d7d7d7,#d0d0d0,#b8b8b8,#9a9a9a calc(100% - 20px))}
.r464{background:linear-gradient(90deg,#b4b4b4 20px,#b4b4b4,#b4b4b4,#a1a1a1,#898989,#8f8f8f,#adadad,#dbdbdb,#dbdbdb,#dbdbdb,#dbdbdb,#cecece,#c1c1c1 calc(100% - 20px))}
.r465{background:linear-gradient(90deg,#b1b1b1 20px,#b0b0b0,#aaaaaa,#a2a2a2,#969696,#a1a1a1,#b2b2b2,#d1d1d1,#d9d9d9,#d7d7d7,#d1d1d1,#cdcdcd,#cbcbcb calc(100% - 20px))}
.r466{background:linear-gradient(90deg,#b4b4b4 20px,#b4b4b4,#a7a7a7,#a5a5a5,#a4a4a4,#b2b2b2,#b4b4b4,#c1c1c1,#cecece,#cecece,#c1c1c1,#c1c1c1,#c1c1c1 calc(100% - 20px))}
.r467{background:linear-gradient(90deg,#bbbbbb 20px,#bbbbbb,#ababab,#acacac,#acacac,#aaaaaa,#a7a7a7,#b8b8b8,#bfbfbf,#c1c1c1,#bababa,#bbbbbb,#b4b4b4 calc(100% - 20px))}
.r468{background:linear-gradient(90deg,#c3c3c3 20px,#c3c3c3,#c3c3c3,#c4c4c4,#bbbbbb,#c4c4c4,#bcbcbc,#bababa,#bababa,#b2b2b2,#a2a2a2,#a3a3a3,#a5a5a5 calc(100% - 20px))}
.r469{background:linear-gradient(90deg,#d5d5d5 20px,#d3d3d3,#d5d5d5,#cacaca,#a5a5a5,#b1b1b1,#b7b7b7,#cecece,#e9e9e9,#f3f3f3,#f6f6f6,#cfcfcf,#a1a1a1 calc(100% - 20px))}
.r470{background:linear-gradient(90deg,#929292 20px,#929292,#8a8a8a,#999999,#adadad,#bebebe,#bababa,#d9d9d9,#e4e4e4,#e4e4e4,#e0e0e0,#c8c8c8,#afafaf calc(100% - 20px))}
.r471{background:linear-gradient(90deg,#c2c2c2 20px,#c2c2c2,#c4c4c4,#cccccc,#d1d1d1,#cccccc,#cacaca,#dfdfdf,#ececec,#e5e5e5,#dadada,#bfbfbf,#acacac calc(100% - 20px))}
.r472{background:linear-gradient(90deg,#bfbfbf 20px,#c1c1c1,#c1c1c1,#c1c1c1,#cecece,#cecece,#d2d2d2,#e6e6e6,#f2f2f2,#e5e5e5,#dbdbdb,#c1c1c1,#b4b4b4 calc(100% - 20px))}
.r473{background:linear-gradient(90deg,#b3b3b3 20px,#bbbbbb,#b9b9b9,#b1b1b1,#b4b4b4,#bababa,#cdcdcd,#e5e5e5,#f2f2f2,#e9e9e9,#dbdbdb,#c2c2c2,#b0b0b0 calc(100% - 20px))}
.r474{background:linear-gradient(90deg,#949494 20px,#aeaeae,#b4b4b4,#a7a7a7,#9a9a9a,#a7a7a7,#bfbfbf,#d8d8d8,#e5e5e5,#e5e5e5,#dbdbdb,#c1c1c1,#a7a7a7 calc(100% - 20px))}
.r475{background:linear-gradient(90deg,#626262 20px,#979797,#b4b4b4,#a8a8a8,#959595,#a7a7a7,#b1b1b1,#bfbfbf,#cccccc,#d5d5d5,#dbdbdb,#bbbbbb,#a1a1a1 calc(100% - 20px))}
.r476{background:linear-gradient(90deg,#454545 20px,#8c8c8c,#b4b4b4,#a7a7a7,#8d8d8d,#a7a7a7,#ababab,#b1b1b1,#bebebe,#cbcbcb,#dbdbdb,#b4b4b4,#9a9a9a calc(100% - 20px))}
.r477{background:linear-gradient(90deg,#616161 20px,#9f9f9f,#b1b1b1,#9b9b9b,#6d6d6d,#949494,#b0b0b0,#c2c2c2,#cfcfcf,#d6d6d6,#d9d9d9,#afafaf,#8c8c8c calc(100% - 20px))}
.r478{background:linear-gradient(90deg,#949494 20px,#bababa,#b4b4b4,#9a9a9a,#656565,#8d8d8d,#b8b8b8,#d8d8d8,#e5e5e5,#e5e5e5,#dbdbdb,#b4b4b4,#8d8d8d calc(100% - 20px))}
.r479{background:linear-gradient(90deg,#b3b3b3 20px,#c7c7c7,#c2c2c2,#b4b4b4,#999999,#a9a9a9,#bababa,#dddddd,#e8e8e8,#e6e6e6,#e0e0e0,#c4c4c4,#a8a8a8 calc(100% - 20px))}
.r480{background:linear-gradient(90deg,#bfbfbf 20px,#c1c1c1,#c1c1c1,#c1c1c1,#c1c1c1,#c1c1c1,#bcbcbc,#d8d8d8,#e0e0e0,#e0e0e0,#e3e3e3,#cecece,#c1c1c1 calc(100% - 20px))}
.r481{background:linear-gradient(90deg,#bebebe 20px,#acacac,#9d9d9d,#a0a0a0,#9e9e9e,#b0b0b0,#c3c3c3,#d8d8d8,#dcdcdc,#dedede,#dcdcdc,#c4c4c4,#bcbcbc calc(100% - 20px))}
.r482{background:linear-gradient(90deg,#a2a2a2 20px,#9a9a9a,#919191,#909090,#868686,#a6a6a6,#bdbdbd,#cecece,#d9d9d9,#d4d4d4,#cacaca,#acacac,#969696 calc(100% - 20px))}
.r483{background:linear-gradient(90deg,#c1c1c1 20px,#c0c0c0,#c0c0c0,#c0c0c0,#c1c1c1,#cecece,#c7c7c7,#c1c1c1,#c1c1c1,#b4b4b4,#b4b4b4,#b4b4b4,#b4b4b4 calc(100% - 20px))}
.r484{background:linear-gradient(90deg,#a9a9a9 20px,#adadad,#ababab,#b0b0b0,#c0c0c0,#c8c8c8,#cbcbcb,#d0d0d0,#d0d0d0,#c1c1c1,#c0c0c0,#bfbfbf,#b6b6b6 calc(100% - 20px))}
.r485{background:linear-gradient(90deg,#8d8d8d 20px,#919191,#898989,#919191,#b4b4b4,#b4b4b4,#c1c1c1,#cecece,#cecece,#c1c1c1,#c1c1c1,#c1c1c1,#b4b4b4 calc(100% - 20px))}
.r486{background:linear-gradient(90deg,#848484 20px,#797979,#666666,#757575,#9d9d9d,#9c9c9c,#acacac,#b5b5b5,#b3b3b3,#b3b3b3,#b9b9b9,#b9b9b9,#b2b2b2 calc(100% - 20px))}
.r487{background:linear-gradient(90deg,#8d8d8d 20px,#717171,#545454,#6a6a6a,#8d8d8d,#8d8d8d,#9a9a9a,#9a9a9a,#9a9a9a,#a7a7a7,#b4b4b4,#b4b4b4,#b4b4b4 calc(100% - 20px))}
.r488{background:linear-gradient(90deg,#a0a0a0 20px,#808080,#616161,#7c7c7c,#919191,#919191,#969696,#919191,#999999,#a8a8a8,#bababa,#bdbdbd,#bbbbbb calc(100% - 20px))}
.r489{background:linear-gradient(90deg,#b4b4b4 20px,#9a9a9a,#818181,#9a9a9a,#a7a7a7,#a7a7a7,#a0a0a0,#9a9a9a,#a7a7a7,#b4b4b4,#c1c1c1,#c1c1c1,#b4b4b4 calc(100% - 20px))}
.r490{background:linear-gradient(90deg,#bfbfbf 20px,#b2b2b2,#a5a5a5,#b3b3b3,#c2c2c2,#c4c4c4,#b1b1b1,#ababab,#b4b4b4,#c1c1c1,#bfbfbf,#b1b1b1,#939393 calc(100% - 20px))}
.r491{background:linear-gradient(90deg,#c1c1c1 20px,#bfbfbf,#bdbdbd,#bfbfbf,#cecece,#cecece,#bababa,#c1c1c1,#c1c1c1,#cecece,#c1c1c1,#a7a7a7,#7f7f7f calc(100% - 20px))}
.r492{background:linear-gradient(90deg,#bbbbbb 20px,#bcbcbc,#bebebe,#bdbdbd,#bebebe,#b3b3b3,#b5b5b5,#d4d4d4,#d0d0d0,#d7d7d7,#d0d0d0,#b8b8b8,#9a9a9a calc(100% - 20px))}
.r493{background:linear-gradient(90deg,#b1b1b1 20px,#b1b1b1,#aaaaaa,#ababab,#a1a1a1,#a4a4a4,#b2b2b2,#d1d1d1,#d9d9d9,#d7d7d7,#d1d1d1,#cdcdcd,#cbcbcb calc(100% - 20px))}
.r494{background:linear-gradient(90deg,#969696 20px,#aeaeae,#b4b4b4,#a7a7a7,#9a9a9a,#a7a7a7,#bfbfbf,#d8d8d8,#e5e5e5,#e5e5e5,#dbdbdb,#c1c1c1,#a7a7a7 calc(100% - 20px))}
.r495{background:linear-gradient(90deg,#656565 20px,#989898,#b4b4b4,#a8a8a8,#959595,#a7a7a7,#b1b1b1,#bfbfbf,#cccccc,#d5d5d5,#dbdbdb,#bbbbbb,#a1a1a1 calc(100% - 20px))}
.r496{background:linear-gradient(90deg,#4a4a4a 20px,#8d8d8d,#b4b4b4,#a7a7a7,#8d8d8d,#a7a7a7,#ababab,#b1b1b1,#bebebe,#cbcbcb,#dbdbdb,#b4b4b4,#9a9a9a calc(100% - 20px))}
.r497{background:linear-gradient(90deg,#656565 20px,#9f9f9f,#b1b1b1,#9b9b9b,#6d6d6d,#949494,#b0b0b0,#c2c2c2,#cfcfcf,#d6d6d6,#d9d9d9,#afafaf,#8c8c8c calc(100% - 20px))}
.r498{background:linear-gradient(90deg,#969696 20px,#bababa,#b4b4b4,#9a9a9a,#656565,#8d8d8d,#b8b8b8,#d8d8d8,#e5e5e5,#e5e5e5,#dbdbdb,#b4b4b4,#8d8d8d calc(100% - 20px))}
.r499{background:linear-gradient(90deg,#b4b4b4 20px,#c7c7c7,#c2c2c2,#b4b4b4,#999999,#a9a9a9,#bababa,#dddddd,#e8e8e8,#e6e6e6,#e0e0e0,#c4c4c4,#a8a8a8 calc(100% - 20px))}
.r500{background:linear-gradient(90deg,#a9a9a9 20px,#b0b0b0,#b1b1b1,#b3b3b3,#c1c1c1,#c8c8c8,#cbcbcb,#d0d0d0,#d0d0d0,#c1c1c1,#c0c0c0,#bfbfbf,#b6b6b6 calc(100% - 20px))}
.r501{background:linear-gradient(90deg,#848484 20px,#8c8c8c,#848484,#838383,#9c9c9c,#9b9b9b,#acacac,#b5b5b5,#b3b3b3,#b3b3b3,#b9b9b9,#b9b9b9,#b2b2b2 calc(100% - 20px))}
.r502{background:linear-gradient(90deg,#a0a0a0 20px,#9e9e9e,#979797,#989898,#959595,#939393,#969696,#919191,#999999,#a8a8a8,#bababa,#bdbdbd,#bbbbbb calc(100% - 20px))}
.r503{background:linear-gradient(90deg,#b4b4b4 20px,#b4b4b4,#b4b4b4,#b2b2b2,#a4a4a4,#a5a5a5,#a0a0a0,#9a9a9a,#a7a7a7,#b4b4b4,#c1c1c1,#c1c1c1,#b4b4b4 calc(100% - 20px))}
.r504{background:linear-gradient(90deg,#bfbfbf 20px,#c0c0c0,#c1c1c1,#b5b5b5,#a4a4a4,#b4b4b4,#b1b1b1,#ababab,#b4b4b4,#c1c1c1,#bfbfbf,#b1b1b1,#939393 calc(100% - 20px))}
.r505{background:linear-gradient(90deg,#c1c1c1 20px,#c1c1c1,#c1c1c1,#a5a5a5,#909090,#afafaf,#bababa,#c1c1c1,#c1c1c1,#cecece,#c1c1c1,#a7a7a7,#7f7f7f calc(100% - 20px))}
.r506{background:linear-gradient(90deg,#bbbbbb 20px,#bbbbbb,#bcbcbc,#929292,#6d6d6d,#8f8f8f,#b5b5b5,#d4d4d4,#d0d0d0,#d7d7d7,#d0d0d0,#b8b8b8,#9a9a9a calc(100% - 20px))}
.r507{background:linear-gradient(90deg,#b4b4b4 20px,#b4b4b4,#b4b4b4,#878787,#5a5a5a,#7a7a7a,#adadad,#dbdbdb,#dbdbdb,#dbdbdb,#dbdbdb,#cecece,#c1c1c1 calc(100% - 20px))}
.r508{background:linear-gradient(90deg,#b1b1b1 20px,#b1b1b1,#ababab,#8e8e8e,#707070,#8e8e8e,#b2b2b2,#d1d1d1,#d9d9d9,#d7d7d7,#d1d1d1,#cdcdcd,#cbcbcb calc(100% - 20px))}
.r509{background:linear-gradient(90deg,#b4b4b4 20px,#b4b4b4,#a7a7a7,#9e9e9e,#949494,#a9a9a9,#b4b4b4,#c1c1c1,#cecece,#cecece,#c1c1c1,#c1c1c1,#c1c1c1 calc(100% - 20px))}
.r510{background:linear-gradient(90deg,#bbbbbb 20px,#bbbbbb,#ababab,#aaaaaa,#a9a9a9,#a7a7a7,#a7a7a7,#b8b8b8,#bfbfbf,#c1c1c1,#bababa,#bbbbbb,#b4b4b4 calc(100% - 20px))}
.r511{background:linear-gradient(90deg,#c1c1c1 20px,#c1c1c1,#b4b4b4,#b3b3b3,#b3b3b3,#a6a6a6,#a0a0a0,#b4b4b4,#b4b4b4,#b4b4b4,#b4b4b4,#b4b4b4,#a7a7a7 calc(100% - 20px))}
.r512{background:linear-gradient(90deg,#c1c1c1 20px,#c1c1c1,#bcbcbc,#bbbbbb,#bdbdbd,#c5c5c5,#b0b0b0,#b2b2b2,#b1b1b1,#a9a9a9,#a4a4a4,#a4a4a4,#9c9c9c calc(100% - 20px))}
.r513{background:linear-gradient(90deg,#c1c1c1 20px,#c1c1c1,#c0c0c0,#c1c1c1,#c1c1c1,#cecece,#c7c7c7,#c1c1c1,#c1c1c1,#b4b4b4,#b4b4b4,#b4b4b4,#b4b4b4 calc(100% - 20px))}
.r514{background:linear-gradient(90deg,#a9a9a9 20px,#afafaf,#aeaeae,#b2b2b2,#c1c1c1,#c9c9c9,#cbcbcb,#d0d0d0,#d0d0d0,#c1c1c1,#c0c0c0,#bfbfbf,#b6b6b6 calc(100% - 20px))}
.r515{background:linear-gradient(90deg,#8d8d8d 20px,#939393,#8c8c8c,#939393,#b4b4b4,#b4b4b4,#c1c1c1,#cecece,#cecece,#c1c1c1,#c1c1c1,#c1c1c1,#b4b4b4 calc(100% - 20px))}
.r516{background:linear-gradient(90deg,#848484 20px,#767676,#606060,#717171,#9b9b9b,#9a9a9a,#acacac,#b5b5b5,#b3b3b3,#b3b3b3,#b9b9b9,#b9b9b9,#b2b2b2 calc(100% - 20px))}
.r517{background:linear-gradient(90deg,#8d8d8d 20px,#676767,#404040,#606060,#8c8c8c,#8c8c8c,#9a9a9a,#9a9a9a,#9a9a9a,#a7a7a7,#b4b4b4,#b4b4b4,#b4b4b4 calc(100% - 20px))}
.r518{background:linear-gradient(90deg,#a0a0a0 20px,#6f6f6f,#3e3e3e,#6d6d6d,#969696,#969696,#969696,#919191,#999999,#a8a8a8,#bababa,#bdbdbd,#bbbbbb calc(100% - 20px))}
.r519{background:linear-gradient(90deg,#b4b4b4 20px,#888888,#5c5c5c,#858585,#9f9f9f,#a1a1a1,#a0a0a0,#9a9a9a,#a7a7a7,#b4b4b4,#c1c1c1,#c1c1c1,#b4b4b4 calc(100% - 20px))}
.r520{background:linear-gradient(90deg,#bfbfbf 20px,#a7a7a7,#8d8d8d,#939393,#8e8e8e,#979797,#b1b1b1,#ababab,#b4b4b4,#c1c1c1,#bfbfbf,#b1b1b1,#939393 calc(100% - 20px))}
.r521{background:linear-gradient(90deg,#c1c1c1 20px,#bcbcbc,#b7b7b7,#929292,#6f6f6f,#7e7e7e,#bababa,#c1c1c1,#c1c1c1,#cecece,#c1c1c1,#a7a7a7,#7f7f7f calc(100% - 20px))}
.r522{background:linear-gradient(90deg,#bbbbbb 20px,#bcbcbc,#bfbfbf,#898989,#555555,#616161,#b5b5b5,#d4d4d4,#d0d0d0,#d7d7d7,#d0d0d0,#b8b8b8,#9a9a9a calc(100% - 20px))}
.r523{background:linear-gradient(90deg,#b4b4b4 20px,#b4b4b4,#b4b4b4,#848484,#535353,#5c5c5c,#adadad,#dbdbdb,#dbdbdb,#dbdbdb,#dbdbdb,#cecece,#c1c1c1 calc(100% - 20px))}
.r524{background:linear-gradient(90deg,#b1b1b1 20px,#b0b0b0,#aaaaaa,#8f8f8f,#737373,#828282,#b2b2b2,#d1d1d1,#d9d9d9,#d7d7d7,#d1d1d1,#cdcdcd,#cbcbcb calc(100% - 20px))}
.r525{background:linear-gradient(90deg,#b4b4b4 20px,#b4b4b4,#a7a7a7,#a0a0a0,#999999,#a7a7a7,#b4b4b4,#c1c1c1,#cecece,#cecece,#c1c1c1,#c1c1c1,#c1c1c1 calc(100% - 20px))}
.r526{background:linear-gradient(90deg,#bbbbbb 20px,#bbbbbb,#ababab,#acacac,#acacac,#a8a8a8,#a7a7a7,#b8b8b8,#bfbfbf,#c1c1c1,#bababa,#bbbbbb,#b4b4b4 calc(100% - 20px))}
.r527{background:linear-gradient(90deg,#c1c1c1 20px,#c1c1c1,#b4b4b4,#b4b4b4,#b3b3b3,#a6a6a6,#a0a0a0,#b4b4b4,#b4b4b4,#b4b4b4,#b4b4b4,#b4b4b4,#a7a7a7 calc(100% - 20px))}
.r528{background:linear-gradient(90deg,#c1c1c1 20px,#c1c1c1,#bbbbbb,#bbbbbb,#bcbcbc,#c4c4c4,#b0b0b0,#b2b2b2,#b1b1b1,#a9a9a9,#a4a4a4,#a4a4a4,#9c9c9c calc(100% - 20px))}
.r529{background:linear-gradient(90deg,#8d8d8d 20px,#676767,#3f3f3f,#5f5f5f,#8c8c8c,#8c8c8c,#9a9a9a,#9a9a9a,#9a9a9a,#a7a7a7,#b4b4b4,#b4b4b4,#b4b4b4 calc(100% - 20px))}
.r530{background:linear-gradient(90deg,#b4b4b4 20px,#888888,#5b5b5b,#858585,#9f9f9f,#a1a1a1,#a0a0a0,#9a9a9a,#a7a7a7,#b4b4b4,#c1c1c1,#c1c1c1,#b4b4b4 calc(100% - 20px))}
.r531{background:linear-gradient(90deg,#bfbfbf 20px,#a6a6a6,#8d8d8d,#929292,#8e8e8e,#979797,#b1b1b1,#ababab,#b4b4b4,#c1c1c1,#bfbfbf,#b1b1b1,#939393 calc(100% - 20px))}
.r532{background:linear-gradient(90deg,#c1c1c1 20px,#bcbcbc,#b7b7b7,#929292,#6e6e6e,#7d7d7d,#bababa,#c1c1c1,#c1c1c1,#cecece,#c1c1c1,#a7a7a7,#7f7f7f calc(100% - 20px))}
.r533{background:linear-gradient(90deg,#bbbbbb 20px,#bcbcbc,#bfbfbf,#898989,#545454,#606060,#b5b5b5,#d4d4d4,#d0d0d0,#d7d7d7,#d0d0d0,#b8b8b8,#9a9a9a calc(100% - 20px))}
.r534{background:linear-gradient(90deg,#b1b1b1 20px,#b0b0b0,#aaaaaa,#8f8f8f,#737373,#818181,#b2b2b2,#d1d1d1,#d9d9d9,#d7d7d7,#d1d1d1,#cdcdcd,#cbcbcb calc(100% - 20px))}
.r535{background:linear-gradient(90deg,#848484 20px,#767676,#5f5f5f,#707070,#9b9b9b,#9a9a9a,#acacac,#b5b5b5,#b3b3b3,#b3b3b3,#b9b9b9,#b9b9b9,#b2b2b2 calc(100% - 20px))}
.r536{background:linear-gradient(90deg,#a0a0a0 20px,#6e6e6e,#3d3d3d,#6c6c6c,#969696,#969696,#969696,#919191,#999999,#a8a8a8,#bababa,#bdbdbd,#bbbbbb calc(100% - 20px))}
.r537{background:linear-gradient(90deg,#b4b4b4 20px,#878787,#5b5b5b,#858585,#9f9f9f,#a1a1a1,#a0a0a0,#9a9a9a,#a7a7a7,#b4b4b4,#c1c1c1,#c1c1c1,#b4b4b4 calc(100% - 20px))}
.r538{background:linear-gradient(90deg,#c1c1c1 20px,#bcbcbc,#b6b6b6,#929292,#6e6e6e,#7d7d7d,#bababa,#c1c1c1,#c1c1c1,#cecece,#c1c1c1,#a7a7a7,#7f7f7f calc(100% - 20px))}
.r539{background:linear-gradient(90deg,#b4b4b4 20px,#b4b4b4,#b4b4b4,#848484,#525252,#5c5c5c,#adadad,#dbdbdb,#dbdbdb,#dbdbdb,#dbdbdb,#cecece,#c1c1c1 calc(100% - 20px))}
.r540{background:linear-gradient(90deg,#b1b1b1 20px,#b0b0b0,#aaaaaa,#8f8f8f,#727272,#818181,#b2b2b2,#d1d1d1,#d9d9d9,#d7d7d7,#d1d1d1,#cdcdcd,#cbcbcb calc(100% - 20px))}
.r541{background:linear-gradient(90deg,#a9a9a9 20px,#afafaf,#aeaeae,#b1b1b1,#c1c1c1,#c9c9c9,#cbcbcb,#d0d0d0,#d0d0d0,#c1c1c1,#c0c0c0,#bfbfbf,#b6b6b6 calc(100% - 20px))}
.r542{background:linear-gradient(90deg,#8d8d8d 20px,#949494,#8e8e8e,#949494,#b4b4b4,#b4b4b4,#c1c1c1,#cecece,#cecece,#c1c1c1,#c1c1c1,#c1c1c1,#b4b4b4 calc(100% - 20px))}
.r543{background:linear-gradient(90deg,#848484 20px,#7a7a7a,#686868,#757575,#9c9c9c,#9a9a9a,#acacac,#b5b5b5,#b3b3b3,#b3b3b3,#b9b9b9,#b9b9b9,#b2b2b2 calc(100% - 20px))}
.r544{background:linear-gradient(90deg,#8d8d8d 20px,#6d6d6d,#4c4c4c,#666666,#8c8c8c,#8d8d8d,#9a9a9a,#9a9a9a,#9a9a9a,#a7a7a7,#b4b4b4,#b4b4b4,#b4b4b4 calc(100% - 20px))}
.r545{background:linear-gradient(90deg,#a0a0a0 20px,#757575,#4b4b4b,#737373,#969696,#959595,#969696,#919191,#999999,#a8a8a8,#bababa,#bdbdbd,#bbbbbb calc(100% - 20px))}
.r546{background:linear-gradient(90deg,#b4b4b4 20px,#8d8d8d,#666666,#8b8b8b,#a0a0a0,#a1a1a1,#a0a0a0,#9a9a9a,#a7a7a7,#b4b4b4,#c1c1c1,#c1c1c1,#b4b4b4 calc(100% - 20px))}
.r547{background:linear-gradient(90deg,#bfbfbf 20px,#a9a9a9,#939393,#979797,#939393,#9b9b9b,#b1b1b1,#ababab,#b4b4b4,#c1c1c1,#bfbfbf,#b1b1b1,#939393 calc(100% - 20px))}
.r548{background:linear-gradient(90deg,#c1c1c1 20px,#bcbcbc,#b8b8b8,#979797,#787878,#858585,#bababa,#c1c1c1,#c1c1c1,#cecece,#c1c1c1,#a7a7a7,#7f7f7f calc(100% - 20px))}
.r549{background:linear-gradient(90deg,#bbbbbb 20px,#bcbcbc,#bebebe,#8f8f8f,#616161,#6b6b6b,#b5b5b5,#d4d4d4,#d0d0d0,#d7d7d7,#d0d0d0,#b8b8b8,#9a9a9a calc(100% - 20px))}
.r550{background:linear-gradient(90deg,#b4b4b4 20px,#b4b4b4,#b4b4b4,#8a8a8a,#5f5f5f,#666666,#adadad,#dbdbdb,#dbdbdb,#dbdbdb,#dbdbdb,#cecece,#c1c1c1 calc(100% - 20px))}
.r551{background:linear-gradient(90deg,#b1b1b1 20px,#b1b1b1,#aaaaaa,#939393,#7a7a7a,#878787,#b2b2b2,#d1d1d1,#d9d9d9,#d7d7d7,#d1d1d1,#cdcdcd,#cbcbcb calc(100% - 20px))}
.r552{background:linear-gradient(90deg,#b4b4b4 20px,#b4b4b4,#a7a7a7,#a1a1a1,#9b9b9b,#a9a9a9,#b4b4b4,#c1c1c1,#cecece,#cecece,#c1c1c1,#c1c1c1,#c1c1c1 calc(100% - 20px))}
</style></head><body>
<svg width="0" height="0" style="position:absolute"><defs><filter id="f0" color-interpolation-filters="sRGB" x="-5%" y="-5%" width="110%" height="110%"><feGaussianBlur stdDeviation="1.00 1.40"/><feComponentTransfer><feFuncR type="linear" slope="1.00000" intercept="0.00000"/><feFuncG type="linear" slope="1.00000" intercept="0.00000"/><feFuncB type="linear" slope="1.00000" intercept="0.00000"/></feComponentTransfer><feComponentTransfer><feFuncR type="table" tableValues="0.2670 0.2770 0.2823 0.2829 0.2788 0.2706 0.2590 0.2450 0.2297 0.2143 0.1994 0.1856 0.1727 0.1607 0.1490 0.1378 0.1276 0.1206 0.1206 0.1323 0.1579 0.1966 0.2461 0.3041 0.3692 0.4401 0.5160 0.5958 0.6785 0.7624 0.8456 0.9261 0.9932"/><feFuncG type="table" tableValues="0.0049 0.0503 0.0950 0.1359 0.1755 0.2141 0.2515 0.2877 0.3224 0.3556 0.3876 0.4186 0.4488 0.4785 0.5081 0.5375 0.5669 0.5964 0.6258 0.6550 0.6838 0.7118 0.7389 0.7647 0.7889 0.8111 0.8312 0.8487 0.8637 0.8764 0.8873 0.8973 0.9062"/><feFuncB type="table" tableValues="0.3294 0.3757 0.4173 0.4534 0.4834 0.5071 0.5247 0.5373 0.5457 0.5512 0.5546 0.5568 0.5579 0.5581 0.5573 0.5549 0.5506 0.5436 0.5335 0.5197 0.5017 0.4792 0.4520 0.4199 0.3829 0.3410 0.2943 0.2433 0.1895 0.1371 0.0997 0.1041 0.1439"/></feComponentTransfer></filter><filter id="f1" color-interpolation-filters="sRGB" x="-5%" y="-5%" width="110%" height="110%"><feGaussianBlur stdDeviation="1.00 1.40"/><feComponentTransfer><feFuncR type="linear" slope="0.98481" intercept="0.01266"/><feFuncG type="linear" slope="0.98481" intercept="0.01266"/><feFuncB type="linear" slope="0.98481" intercept="0.01266"/></feComponentTransfer><feComponentTransfer><feFuncR type="table" tableValues="0.2670 0.2770 0.2823 0.2829 0.2788 0.2706 0.2590 0.2450 0.2297 0.2143 0.1994 0.1856 0.1727 0.1607 0.1490 0.1378 0.1276 0.1206 0.1206 0.1323 0.1579 0.1966 0.2461 0.3041 0.3692 0.4401 0.5160 0.5958 0.6785 0.7624 0.8456 0.9261 0.9932"/><feFuncG type="table" tableValues="0.0049 0.0503 0.0950 0.1359 0.1755 0.2141 0.2515 0.2877 0.3224 0.3556 0.3876 0.4186 0.4488 0.4785 0.5081 0.5375 0.5669 0.5964 0.6258 0.6550 0.6838 0.7118 0.7389 0.7647 0.7889 0.8111 0.8312 0.8487 0.8637 0.8764 0.8873 0.8973 0.9062"/><feFuncB type="table" tableValues="0.3294 0.3757 0.4173 0.4534 0.4834 0.5071 0.5247 0.5373 0.5457 0.5512 0.5546 0.5568 0.5579 0.5581 0.5573 0.5549 0.5506 0.5436 0.5335 0.5197 0.5017 0.4792 0.4520 0.4199 0.3829 0.3410 0.2943 0.2433 0.1895 0.1371 0.0997 0.1041 0.1439"/></feComponentTransfer></filter><filter id="f2" color-interpolation-filters="sRGB" x="-5%" y="-5%" width="110%" height="110%"><feGaussianBlur stdDeviation="1.00 1.40"/><feComponentTransfer><feFuncR type="linear" slope="0.90902" intercept="0.09098"/><feFuncG type="linear" slope="0.90902" intercept="0.09098"/><feFuncB type="linear" slope="0.90902" intercept="0.09098"/></feComponentTransfer><feComponentTransfer><feFuncR type="table" tableValues="0.2670 0.2770 0.2823 0.2829 0.2788 0.2706 0.2590 0.2450 0.2297 0.2143 0.1994 0.1856 0.1727 0.1607 0.1490 0.1378 0.1276 0.1206 0.1206 0.1323 0.1579 0.1966 0.2461 0.3041 0.3692 0.4401 0.5160 0.5958 0.6785 0.7624 0.8456 0.9261 0.9932"/><feFuncG type="table" tableValues="0.0049 0.0503 0.0950 0.1359 0.1755 0.2141 0.2515 0.2877 0.3224 0.3556 0.3876 0.4186 0.4488 0.4785 0.5081 0.5375 0.5669 0.5964 0.6258 0.6550 0.6838 0.7118 0.7389 0.7647 0.7889 0.8111 0.8312 0.8487 0.8637 0.8764 0.8873 0.8973 0.9062"/><feFuncB type="table" tableValues="0.3294 0.3757 0.4173 0.4534 0.4834 0.5071 0.5247 0.5373 0.5457 0.5512 0.5546 0.5568 0.5579 0.5581 0.5573 0.5549 0.5506 0.5436 0.5335 0.5197 0.5017 0.4792 0.4520 0.4199 0.3829 0.3410 0.2943 0.2433 0.1895 0.1371 0.0997 0.1041 0.1439"/></feComponentTransfer></filter><filter id="f3" color-interpolation-filters="sRGB" x="-5%" y="-5%" width="110%" height="110%"><feGaussianBlur stdDeviation="1.00 1.40"/><feComponentTransfer><feFuncR type="linear" slope="0.80547" intercept="0.19749"/><feFuncG type="linear" slope="0.80547" intercept="0.19749"/><feFuncB type="linear" slope="0.80547" intercept="0.19749"/></feComponentTransfer><feComponentTransfer><feFuncR type="table" tableValues="0.2670 0.2770 0.2823 0.2829 0.2788 0.2706 0.2590 0.2450 0.2297 0.2143 0.1994 0.1856 0.1727 0.1607 0.1490 0.1378 0.1276 0.1206 0.1206 0.1323 0.1579 0.1966 0.2461 0.3041 0.3692 0.4401 0.5160 0.5958 0.6785 0.7624 0.8456 0.9261 0.9932"/><feFuncG type="table" tableValues="0.0049 0.0503 0.0950 0.1359 0.1755 0.2141 0.2515 0.2877 0.3224 0.3556 0.3876 0.4186 0.4488 0.4785 0.5081 0.5375 0.5669 0.5964 0.6258 0.6550 0.6838 0.7118 0.7389 0.7647 0.7889 0.8111 0.8312 0.8487 0.8637 0.8764 0.8873 0.8973 0.9062"/><feFuncB type="table" tableValues="0.3294 0.3757 0.4173 0.4534 0.4834 0.5071 0.5247 0.5373 0.5457 0.5512 0.5546 0.5568 0.5579 0.5581 0.5573 0.5549 0.5506 0.5436 0.5335 0.5197 0.5017 0.4792 0.4520 0.4199 0.3829 0.3410 0.2943 0.2433 0.1895 0.1371 0.0997 0.1041 0.1439"/></feComponentTransfer></filter><filter id="f4" color-interpolation-filters="sRGB" x="-5%" y="-5%" width="110%" height="110%"><feGaussianBlur stdDeviation="1.00 1.40"/><feComponentTransfer><feFuncR type="linear" slope="0.98463" intercept="0.00995"/><feFuncG type="linear" slope="0.98463" intercept="0.00995"/><feFuncB type="linear" slope="0.98463" intercept="0.00995"/></feComponentTransfer><feComponentTransfer><feFuncR type="table" tableValues="0.2670 0.2770 0.2823 0.2829 0.2788 0.2706 0.2590 0.2450 0.2297 0.2143 0.1994 0.1856 0.1727 0.1607 0.1490 0.1378 0.1276 0.1206 0.1206 0.1323 0.1579 0.1966 0.2461 0.3041 0.3692 0.4401 0.5160 0.5958 0.6785 0.7624 0.8456 0.9261 0.9932"/><feFuncG type="table" tableValues="0.0049 0.0503 0.0950 0.1359 0.1755 0.2141 0.2515 0.2877 0.3224 0.3556 0.3876 0.4186 0.4488 0.4785 0.5081 0.5375 0.5669 0.5964 0.6258 0.6550 0.6838 0.7118 0.7389 0.7647 0.7889 0.8111 0.8312 0.8487 0.8637 0.8764 0.8873 0.8973 0.9062"/><feFuncB type="table" tableValues="0.3294 0.3757 0.4173 0.4534 0.4834 0.5071 0.5247 0.5373 0.5457 0.5512 0.5546 0.5568 0.5579 0.5581 0.5573 0.5549 0.5506 0.5436 0.5335 0.5197 0.5017 0.4792 0.4520 0.4199 0.3829 0.3410 0.2943 0.2433 0.1895 0.1371 0.0997 0.1041 0.1439"/></feComponentTransfer></filter><filter id="f5" color-interpolation-filters="sRGB" x="-5%" y="-5%" width="110%" height="110%"><feGaussianBlur stdDeviation="1.00 1.40"/><feComponentTransfer><feFuncR type="linear" slope="0.58385" intercept="0.40800"/><feFuncG type="linear" slope="0.58385" intercept="0.40800"/><feFuncB type="linear" slope="0.58385" intercept="0.40800"/></feComponentTransfer><feComponentTransfer><feFuncR type="table" tableValues="0.2670 0.2770 0.2823 0.2829 0.2788 0.2706 0.2590 0.2450 0.2297 0.2143 0.1994 0.1856 0.1727 0.1607 0.1490 0.1378 0.1276 0.1206 0.1206 0.1323 0.1579 0.1966 0.2461 0.3041 0.3692 0.4401 0.5160 0.5958 0.6785 0.7624 0.8456 0.9261 0.9932"/><feFuncG type="table" tableValues="0.0049 0.0503 0.0950 0.1359 0.1755 0.2141 0.2515 0.2877 0.3224 0.3556 0.3876 0.4186 0.4488 0.4785 0.5081 0.5375 0.5669 0.5964 0.6258 0.6550 0.6838 0.7118 0.7389 0.7647 0.7889 0.8111 0.8312 0.8487 0.8637 0.8764 0.8873 0.8973 0.9062"/><feFuncB type="table" tableValues="0.3294 0.3757 0.4173 0.4534 0.4834 0.5071 0.5247 0.5373 0.5457 0.5512 0.5546 0.5568 0.5579 0.5581 0.5573 0.5549 0.5506 0.5436 0.5335 0.5197 0.5017 0.4792 0.4520 0.4199 0.3829 0.3410 0.2943 0.2433 0.1895 0.1371 0.0997 0.1041 0.1439"/></feComponentTransfer></filter><filter id="f6" color-interpolation-filters="sRGB" x="-5%" y="-5%" width="110%" height="110%"><feGaussianBlur stdDeviation="1.00 1.40"/><feComponentTransfer><feFuncR type="linear" slope="0.91267" intercept="0.07962"/><feFuncG type="linear" slope="0.91267" intercept="0.07962"/><feFuncB type="linear" slope="0.91267" intercept="0.07962"/></feComponentTransfer><feComponentTransfer><feFuncR type="table" tableValues="0.2670 0.2770 0.2823 0.2829 0.2788 0.2706 0.2590 0.2450 0.2297 0.2143 0.1994 0.1856 0.1727 0.1607 0.1490 0.1378 0.1276 0.1206 0.1206 0.1323 0.1579 0.1966 0.2461 0.3041 0.3692 0.4401 0.5160 0.5958 0.6785 0.7624 0.8456 0.9261 0.9932"/><feFuncG type="table" tableValues="0.0049 0.0503 0.0950 0.1359 0.1755 0.2141 0.2515 0.2877 0.3224 0.3556 0.3876 0.4186 0.4488 0.4785 0.5081 0.5375 0.5669 0.5964 0.6258 0.6550 0.6838 0.7118 0.7389 0.7647 0.7889 0.8111 0.8312 0.8487 0.8637 0.8764 0.8873 0.8973 0.9062"/><feFuncB type="table" tableValues="0.3294 0.3757 0.4173 0.4534 0.4834 0.5071 0.5247 0.5373 0.5457 0.5512 0.5546 0.5568 0.5579 0.5581 0.5573 0.5549 0.5506 0.5436 0.5335 0.5197 0.5017 0.4792 0.4520 0.4199 0.3829 0.3410 0.2943 0.2433 0.1895 0.1371 0.0997 0.1041 0.1439"/></feComponentTransfer></filter><filter id="f7" color-interpolation-filters="sRGB" x="-5%" y="-5%" width="110%" height="110%"><feGaussianBlur stdDeviation="1.00 1.40"/><feComponentTransfer><feFuncR type="linear" slope="0.92918" intercept="0.06570"/><feFuncG type="linear" slope="0.92918" intercept="0.06570"/><feFuncB type="linear" slope="0.92918" intercept="0.06570"/></feComponentTransfer><feComponentTransfer><feFuncR type="table" tableValues="0.2670 0.2770 0.2823 0.2829 0.2788 0.2706 0.2590 0.2450 0.2297 0.2143 0.1994 0.1856 0.1727 0.1607 0.1490 0.1378 0.1276 0.1206 0.1206 0.1323 0.1579 0.1966 0.2461 0.3041 0.3692 0.4401 0.5160 0.5958 0.6785 0.7624 0.8456 0.9261 0.9932"/><feFuncG type="table" tableValues="0.0049 0.0503 0.0950 0.1359 0.1755 0.2141 0.2515 0.2877 0.3224 0.3556 0.3876 0.4186 0.4488 0.4785 0.5081 0.5375 0.5669 0.5964 0.6258 0.6550 0.6838 0.7118 0.7389 0.7647 0.7889 0.8111 0.8312 0.8487 0.8637 0.8764 0.8873 0.8973 0.9062"/><feFuncB type="table" tableValues="0.3294 0.3757 0.4173 0.4534 0.4834 0.5071 0.5247 0.5373 0.5457 0.5512 0.5546 0.5568 0.5579 0.5581 0.5573 0.5549 0.5506 0.5436 0.5335 0.5197 0.5017 0.4792 0.4520 0.4199 0.3829 0.3410 0.2943 0.2433 0.1895 0.1371 0.0997 0.1041 0.1439"/></feComponentTransfer></filter><filter id="f8" color-interpolation-filters="sRGB" x="-5%" y="-5%" width="110%" height="110%"><feGaussianBlur stdDeviation="1.00 1.40"/><feComponentTransfer><feFuncR type="linear" slope="0.97476" intercept="0.01271"/><feFuncG type="linear" slope="0.97476" intercept="0.01271"/><feFuncB type="linear" slope="0.97476" intercept="0.01271"/></feComponentTransfer><feComponentTransfer><feFuncR type="table" tableValues="0.2670 0.2770 0.2823 0.2829 0.2788 0.2706 0.2590 0.2450 0.2297 0.2143 0.1994 0.1856 0.1727 0.1607 0.1490 0.1378 0.1276 0.1206 0.1206 0.1323 0.1579 0.1966 0.2461 0.3041 0.3692 0.4401 0.5160 0.5958 0.6785 0.7624 0.8456 0.9261 0.9932"/><feFuncG type="table" tableValues="0.0049 0.0503 0.0950 0.1359 0.1755 0.2141 0.2515 0.2877 0.3224 0.3556 0.3876 0.4186 0.4488 0.4785 0.5081 0.5375 0.5669 0.5964 0.6258 0.6550 0.6838 0.7118 0.7389 0.7647 0.7889 0.8111 0.8312 0.8487 0.8637 0.8764 0.8873 0.8973 0.9062"/><feFuncB type="table" tableValues="0.3294 0.3757 0.4173 0.4534 0.4834 0.5071 0.5247 0.5373 0.5457 0.5512 0.5546 0.5568 0.5579 0.5581 0.5573 0.5549 0.5506 0.5436 0.5335 0.5197 0.5017 0.4792 0.4520 0.4199 0.3829 0.3410 0.2943 0.2433 0.1895 0.1371 0.0997 0.1041 0.1439"/></feComponentTransfer></filter><filter id="f9" color-interpolation-filters="sRGB" x="-5%" y="-5%" width="110%" height="110%"><feGaussianBlur stdDeviation="1.00 1.40"/><feComponentTransfer><feFuncR type="linear" slope="0.94861" intercept="0.03746"/><feFuncG type="linear" slope="0.94861" intercept="0.03746"/><feFuncB type="linear" slope="0.94861" intercept="0.03746"/></feComponentTransfer><feComponentTransfer><feFuncR type="table" tableValues="0.2670 0.2770 0.2823 0.2829 0.2788 0.2706 0.2590 0.2450 0.2297 0.2143 0.1994 0.1856 0.1727 0.1607 0.1490 0.1378 0.1276 0.1206 0.1206 0.1323 0.1579 0.1966 0.2461 0.3041 0.3692 0.4401 0.5160 0.5958 0.6785 0.7624 0.8456 0.9261 0.9932"/><feFuncG type="table" tableValues="0.0049 0.0503 0.0950 0.1359 0.1755 0.2141 0.2515 0.2877 0.3224 0.3556 0.3876 0.4186 0.4488 0.4785 0.5081 0.5375 0.5669 0.5964 0.6258 0.6550 0.6838 0.7118 0.7389 0.7647 0.7889 0.8111 0.8312 0.8487 0.8637 0.8764 0.8873 0.8973 0.9062"/><feFuncB type="table" tableValues="0.3294 0.3757 0.4173 0.4534 0.4834 0.5071 0.5247 0.5373 0.5457 0.5512 0.5546 0.5568 0.5579 0.5581 0.5573 0.5549 0.5506 0.5436 0.5335 0.5197 0.5017 0.4792 0.4520 0.4199 0.3829 0.3410 0.2943 0.2433 0.1895 0.1371 0.0997 0.1041 0.1439"/></feComponentTransfer></filter><filter id="f10" color-interpolation-filters="sRGB" x="-5%" y="-5%" width="110%" height="110%"><feGaussianBlur stdDeviation="1.00 1.40"/><feComponentTransfer><feFuncR type="linear" slope="0.94696" intercept="0.04435"/><feFuncG type="linear" slope="0.94696" intercept="0.04435"/><feFuncB type="linear" slope="0.94696" intercept="0.04435"/></feComponentTransfer><feComponentTransfer><feFuncR type="table" tableValues="0.2670 0.2770 0.2823 0.2829 0.2788 0.2706 0.2590 0.2450 0.2297 0.2143 0.1994 0.1856 0.1727 0.1607 0.1490 0.1378 0.1276 0.1206 0.1206 0.1323 0.1579 0.1966 0.2461 0.3041 0.3692 0.4401 0.5160 0.5958 0.6785 0.7624 0.8456 0.9261 0.9932"/><feFuncG type="table" tableValues="0.0049 0.0503 0.0950 0.1359 0.1755 0.2141 0.2515 0.2877 0.3224 0.3556 0.3876 0.4186 0.4488 0.4785 0.5081 0.5375 0.5669 0.5964 0.6258 0.6550 0.6838 0.7118 0.7389 0.7647 0.7889 0.8111 0.8312 0.8487 0.8637 0.8764 0.8873 0.8973 0.9062"/><feFuncB type="table" tableValues="0.3294 0.3757 0.4173 0.4534 0.4834 0.5071 0.5247 0.5373 0.5457 0.5512 0.5546 0.5568 0.5579 0.5581 0.5573 0.5549 0.5506 0.5436 0.5335 0.5197 0.5017 0.4792 0.4520 0.4199 0.3829 0.3410 0.2943 0.2433 0.1895 0.1371 0.0997 0.1041 0.1439"/></feComponentTransfer></filter><filter id="f11" color-interpolation-filters="sRGB" x="-5%" y="-5%" width="110%" height="110%"><feGaussianBlur stdDeviation="1.00 1.40"/><feComponentTransfer><feFuncR type="linear" slope="0.95026" intercept="0.02531"/><feFuncG type="linear" slope="0.95026" intercept="0.02531"/><feFuncB type="linear" slope="0.95026" intercept="0.02531"/></feComponentTransfer><feComponentTransfer><feFuncR type="table" tableValues="0.2670 0.2770 0.2823 0.2829 0.2788 0.2706 0.2590 0.2450 0.2297 0.2143 0.1994 0.1856 0.1727 0.1607 0.1490 0.1378 0.1276 0.1206 0.1206 0.1323 0.1579 0.1966 0.2461 0.3041 0.3692 0.4401 0.5160 0.5958 0.6785 0.7624 0.8456 0.9261 0.9932"/><feFuncG type="table" tableValues="0.0049 0.0503 0.0950 0.1359 0.1755 0.2141 0.2515 0.2877 0.3224 0.3556 0.3876 0.4186 0.4488 0.4785 0.5081 0.5375 0.5669 0.5964 0.6258 0.6550 0.6838 0.7118 0.7389 0.7647 0.7889 0.8111 0.8312 0.8487 0.8637 0.8764 0.8873 0.8973 0.9062"/><feFuncB type="table" tableValues="0.3294 0.3757 0.4173 0.4534 0.4834 0.5071 0.5247 0.5373 0.5457 0.5512 0.5546 0.5568 0.5579 0.5581 0.5573 0.5549 0.5506 0.5436 0.5335 0.5197 0.5017 0.4792 0.4520 0.4199 0.3829 0.3410 0.2943 0.2433 0.1895 0.1371 0.0997 0.1041 0.1439"/></feComponentTransfer></filter><filter id="f12" color-interpolation-filters="sRGB" x="-5%" y="-5%" width="110%" height="110%"><feGaussianBlur stdDeviation="1.00 1.40"/><feComponentTransfer><feFuncR type="linear" slope="0.80547" intercept="0.18417"/><feFuncG type="linear" slope="0.80547" intercept="0.18417"/><feFuncB type="linear" slope="0.80547" intercept="0.18417"/></feComponentTransfer><feComponentTransfer><feFuncR type="table" tableValues="0.2670 0.2770 0.2823 0.2829 0.2788 0.2706 0.2590 0.2450 0.2297 0.2143 0.1994 0.1856 0.1727 0.1607 0.1490 0.1378 0.1276 0.1206 0.1206 0.1323 0.1579 0.1966 0.2461 0.3041 0.3692 0.4401 0.5160 0.5958 0.6785 0.7624 0.8456 0.9261 0.9932"/><feFuncG type="table" tableValues="0.0049 0.0503 0.0950 0.1359 0.1755 0.2141 0.2515 0.2877 0.3224 0.3556 0.3876 0.4186 0.4488 0.4785 0.5081 0.5375 0.5669 0.5964 0.6258 0.6550 0.6838 0.7118 0.7389 0.7647 0.7889 0.8111 0.8312 0.8487 0.8637 0.8764 0.8873 0.8973 0.9062"/><feFuncB type="table" tableValues="0.3294 0.3757 0.4173 0.4534 0.4834 0.5071 0.5247 0.5373 0.5457 0.5512 0.5546 0.5568 0.5579 0.5581 0.5573 0.5549 0.5506 0.5436 0.5335 0.5197 0.5017 0.4792 0.4520 0.4199 0.3829 0.3410 0.2943 0.2433 0.1895 0.1371 0.0997 0.1041 0.1439"/></feComponentTransfer></filter><filter id="f13" color-interpolation-filters="sRGB" x="-5%" y="-5%" width="110%" height="110%"><feGaussianBlur stdDeviation="1.00 1.40"/><feComponentTransfer><feFuncR type="linear" slope="0.79605" intercept="0.18787"/><feFuncG type="linear" slope="0.79605" intercept="0.18787"/><feFuncB type="linear" slope="0.79605" intercept="0.18787"/></feComponentTransfer><feComponentTransfer><feFuncR type="table" tableValues="0.2670 0.2770 0.2823 0.2829 0.2788 0.2706 0.2590 0.2450 0.2297 0.2143 0.1994 0.1856 0.1727 0.1607 0.1490 0.1378 0.1276 0.1206 0.1206 0.1323 0.1579 0.1966 0.2461 0.3041 0.3692 0.4401 0.5160 0.5958 0.6785 0.7624 0.8456 0.9261 0.9932"/><feFuncG type="table" tableValues="0.0049 0.0503 0.0950 0.1359 0.1755 0.2141 0.2515 0.2877 0.3224 0.3556 0.3876 0.4186 0.4488 0.4785 0.5081 0.5375 0.5669 0.5964 0.6258 0.6550 0.6838 0.7118 0.7389 0.7647 0.7889 0.8111 0.8312 0.8487 0.8637 0.8764 0.8873 0.8973 0.9062"/><feFuncB type="table" tableValues="0.3294 0.3757 0.4173 0.4534 0.4834 0.5071 0.5247 0.5373 0.5457 0.5512 0.5546 0.5568 0.5579 0.5581 0.5573 0.5549 0.5506 0.5436 0.5335 0.5197 0.5017 0.4792 0.4520 0.4199 0.3829 0.3410 0.2943 0.2433 0.1895 0.1371 0.0997 0.1041 0.1439"/></feComponentTransfer></filter><filter id="f14" color-interpolation-filters="sRGB" x="-5%" y="-5%" width="110%" height="110%"><feGaussianBlur stdDeviation="1.00 1.40"/><feComponentTransfer><feFuncR type="linear" slope="0.79605" intercept="0.19079"/><feFuncG type="linear" slope="0.79605" intercept="0.19079"/><feFuncB type="linear" slope="0.79605" intercept="0.19079"/></feComponentTransfer><feComponentTransfer><feFuncR type="table" tableValues="0.2670 0.2770 0.2823 0.2829 0.2788 0.2706 0.2590 0.2450 0.2297 0.2143 0.1994 0.1856 0.1727 0.1607 0.1490 0.1378 0.1276 0.1206 0.1206 0.1323 0.1579 0.1966 0.2461 0.3041 0.3692 0.4401 0.5160 0.5958 0.6785 0.7624 0.8456 0.9261 0.9932"/><feFuncG type="table" tableValues="0.0049 0.0503 0.0950 0.1359 0.1755 0.2141 0.2515 0.2877 0.3224 0.3556 0.3876 0.4186 0.4488 0.4785 0.5081 0.5375 0.5669 0.5964 0.6258 0.6550 0.6838 0.7118 0.7389 0.7647 0.7889 0.8111 0.8312 0.8487 0.8637 0.8764 0.8873 0.8973 0.9062"/><feFuncB type="table" tableValues="0.3294 0.3757 0.4173 0.4534 0.4834 0.5071 0.5247 0.5373 0.5457 0.5512 0.5546 0.5568 0.5579 0.5581 0.5573 0.5549 0.5506 0.5436 0.5335 0.5197 0.5017 0.4792 0.4520 0.4199 0.3829 0.3410 0.2943 0.2433 0.1895 0.1371 0.0997 0.1041 0.1439"/></feComponentTransfer></filter><filter id="f15" color-interpolation-filters="sRGB" x="-5%" y="-5%" width="110%" height="110%"><feGaussianBlur stdDeviation="1.00 1.40"/><feComponentTransfer><feFuncR type="linear" slope="0.86210" intercept="0.12365"/><feFuncG type="linear" slope="0.86210" intercept="0.12365"/><feFuncB type="linear" slope="0.86210" intercept="0.12365"/></feComponentTransfer><feComponentTransfer><feFuncR type="table" tableValues="0.2670 0.2770 0.2823 0.2829 0.2788 0.2706 0.2590 0.2450 0.2297 0.2143 0.1994 0.1856 0.1727 0.1607 0.1490 0.1378 0.1276 0.1206 0.1206 0.1323 0.1579 0.1966 0.2461 0.3041 0.3692 0.4401 0.5160 0.5958 0.6785 0.7624 0.8456 0.9261 0.9932"/><feFuncG type="table" tableValues="0.0049 0.0503 0.0950 0.1359 0.1755 0.2141 0.2515 0.2877 0.3224 0.3556 0.3876 0.4186 0.4488 0.4785 0.5081 0.5375 0.5669 0.5964 0.6258 0.6550 0.6838 0.7118 0.7389 0.7647 0.7889 0.8111 0.8312 0.8487 0.8637 0.8764 0.8873 0.8973 0.9062"/><feFuncB type="table" tableValues="0.3294 0.3757 0.4173 0.4534 0.4834 0.5071 0.5247 0.5373 0.5457 0.5512 0.5546 0.5568 0.5579 0.5581 0.5573 0.5549 0.5506 0.5436 0.5335 0.5197 0.5017 0.4792 0.4520 0.4199 0.3829 0.3410 0.2943 0.2433 0.1895 0.1371 0.0997 0.1041 0.1439"/></feComponentTransfer></filter></defs></svg>
<div class="p" style="left:185.96px;top:384.35px;width:734.51px;height:563.27px"><div class="q" style="filter:url(#f0)"><i class="r0"></i><i class="r0"></i><i class="r0"></i><i class="r0"></i><i class="r1"></i><i class="r2"></i><i class="r3"></i><i class="r4"></i><i class="r5"></i><i class="r6"></i><i class="r7"></i><i class="r8"></i><i class="r9"></i><i class="r10"></i><i class="r11"></i><i class="r12"></i><i class="r13"></i><i class="r14"></i><i class="r15"></i><i class="r16"></i><i class="r17"></i><i class="r18"></i><i class="r19"></i><i class="r20"></i><i class="r21"></i><i class="r22"></i><i class="r23"></i><i class="r24"></i><i class="r25"></i><i class="r26"></i><i class="r27"></i><i class="r28"></i><i class="r29"></i><i class="r30"></i><i class="r31"></i><i class="r32"></i><i class="r33"></i><i class="r34"></i><i class="r35"></i><i class="r36"></i><i class="r37"></i><i class="r38"></i><i class="r39"></i><i class="r40"></i><i class="r41"></i><i class="r42"></i><i class="r43"></i><i class="r44"></i><i class="r45"></i><i class="r46"></i><i class="r47"></i><i class="r48"></i><i class="r49"></i><i class="r50"></i><i class="r51"></i><i class="r52"></i><i class="r53"></i><i class="r54"></i><i class="r55"></i><i class="r56"></i><i class="r57"></i><i class="r58"></i><i class="r59"></i><i class="r60"></i><i class="r61"></i><i class="r62"></i><i class="r63"></i><i class="r64"></i><i class="r65"></i><i class="r66"></i><i class="r67"></i><i class="r68"></i><i class="r69"></i><i class="r70"></i><i class="r71"></i><i class="r72"></i><i class="r73"></i><i class="r74"></i><i class="r75"></i><i class="r76"></i><i class="r77"></i><i class="r78"></i><i class="r79"></i><i class="r80"></i><i class="r81"></i><i class="r82"></i><i class="r83"></i><i class="r84"></i><i class="r85"></i><i class="r86"></i><i class="r87"></i><i class="r88"></i><i class="r89"></i><i class="r90"></i><i class="r91"></i><i class="r92"></i><i class="r93"></i><i class="r94"></i><i class="r95"></i><i class="r96"></i><i class="r97"></i><i class="r98"></i><i class="r99"></i><i class="r100"></i><i class="r101"></i><i class="r102"></i><i class="r103"></i><i class="r104"></i><i class="r105"></i><i class="r106"></i><i class="r107"></i><i class="r108"></i><i class="r109"></i><i class="r110"></i><i class="r111"></i><i class="r112"></i><i class="r113"></i><i class="r114"></i><i class="r115"></i><i class="r116"></i><i class="r117"></i><i class="r118"></i><i class="r119"></i><i class="r120"></i><i class="r121"></i><i class="r122"></i><i class="r123"></i><i class="r124"></i><i class="r125"></i><i class="r126"></i><i class="r127"></i><i class="r128"></i><i class="r129"></i><i class="r130"></i><i class="r131"></i><i class="r132"></i><i class="r133"></i><i class="r134"></i><i class="r135"></i><i class="r136"></i><i class="r137"></i><i class="r138"></i><i class="r139"></i><i class="r140"></i><i class="r141"></i><i class="r142"></i><i class="r143"></i><i class="r144"></i><i class="r145"></i><i class="r146"></i><i class="r147"></i><i class="r148"></i><i class="r149"></i><i class="r150"></i><i class="r151"></i><i class="r152"></i><i class="r153"></i><i class="r154"></i><i class="r155"></i><i class="r156"></i><i class="r157"></i><i class="r158"></i><i class="r159"></i><i class="r160"></i><i class="r160"></i><i class="r160"></i><i class="r160"></i></div></div>
<div class="p" style="left:1374.71px;top:384.35px;width:734.51px;height:563.27px"><div class="q" style="filter:url(#f1)"><i class="r0"></i><i class="r0"></i><i class="r0"></i><i class="r0"></i><i class="r1"></i><i class="r2"></i><i class="r3"></i><i class="r4"></i><i class="r5"></i><i class="r6"></i><i class="r7"></i><i class="r8"></i><i class="r9"></i><i class="r10"></i><i class="r11"></i><i class="r12"></i><i class="r13"></i><i class="r14"></i><i class="r15"></i><i class="r16"></i><i class="r17"></i><i class="r18"></i><i class="r19"></i><i class="r20"></i><i class="r21"></i><i class="r22"></i><i class="r23"></i><i class="r24"></i><i class="r25"></i><i class="r26"></i><i class="r27"></i><i class="r28"></i><i class="r29"></i><i class="r30"></i><i class="r31"></i><i class="r32"></i><i class="r33"></i><i class="r34"></i><i class="r35"></i><i class="r36"></i><i class="r37"></i><i class="r38"></i><i class="r39"></i><i class="r40"></i><i class="r41"></i><i class="r42"></i><i class="r43"></i><i class="r44"></i><i class="r45"></i><i class="r46"></i><i class="r47"></i><i class="r48"></i><i class="r49"></i><i class="r50"></i><i class="r51"></i><i class="r52"></i><i class="r53"></i><i class="r54"></i><i class="r55"></i><i class="r56"></i><i class="r57"></i><i class="r58"></i><i class="r59"></i><i class="r60"></i><i class="r61"></i><i class="r62"></i><i class="r63"></i><i class="r64"></i><i class="r65"></i><i class="r66"></i><i class="r67"></i><i class="r68"></i><i class="r69"></i><i class="r70"></i><i class="r71"></i><i class="r72"></i><i class="r73"></i><i class="r74"></i><i class="r75"></i><i class="r76"></i><i class="r77"></i><i class="r78"></i><i class="r79"></i><i class="r80"></i><i class="r81"></i><i class="r82"></i><i class="r83"></i><i class="r84"></i><i class="r85"></i><i class="r86"></i><i class="r87"></i><i class="r88"></i><i class="r89"></i><i class="r90"></i><i class="r91"></i><i class="r92"></i><i class="r93"></i><i class="r94"></i><i class="r95"></i><i class="r96"></i><i class="r97"></i><i class="r98"></i><i class="r99"></i><i class="r100"></i><i class="r101"></i><i class="r102"></i><i class="r103"></i><i class="r104"></i><i class="r105"></i><i class="r106"></i><i class="r107"></i><i class="r108"></i><i class="r109"></i><i class="r110"></i><i class="r161"></i><i class="r112"></i><i class="r162"></i><i class="r163"></i><i class="r164"></i><i class="r165"></i><i class="r166"></i><i class="r167"></i><i class="r168"></i><i class="r169"></i><i class="r170"></i><i class="r122"></i><i class="r171"></i><i class="r124"></i><i class="r172"></i><i class="r126"></i><i class="r127"></i><i class="r128"></i><i class="r129"></i><i class="r130"></i><i class="r131"></i><i class="r132"></i><i class="r133"></i><i class="r134"></i><i class="r135"></i><i class="r136"></i><i class="r137"></i><i class="r138"></i><i class="r139"></i><i class="r140"></i><i class="r141"></i><i class="r142"></i><i class="r143"></i><i class="r144"></i><i class="r173"></i><i class="r146"></i><i class="r174"></i><i class="r175"></i><i class="r176"></i><i class="r177"></i><i class="r178"></i><i class="r179"></i><i class="r180"></i><i class="r181"></i><i class="r182"></i><i class="r183"></i><i class="r184"></i><i class="r185"></i><i class="r186"></i><i class="r187"></i><i class="r187"></i><i class="r187"></i><i class="r187"></i></div></div>
<div class="p" style="left:2563.46px;top:384.35px;width:734.51px;height:563.27px"><div class="q" style="filter:url(#f2)"><i class="r0"></i><i class="r0"></i><i class="r0"></i><i class="r0"></i><i class="r1"></i><i class="r2"></i><i class="r3"></i><i class="r4"></i><i class="r5"></i><i class="r6"></i><i class="r7"></i><i class="r8"></i><i class="r9"></i><i class="r10"></i><i class="r11"></i><i class="r12"></i><i class="r13"></i><i class="r14"></i><i class="r15"></i><i class="r16"></i><i class="r17"></i><i class="r18"></i><i class="r19"></i><i class="r20"></i><i class="r21"></i><i class="r22"></i><i class="r23"></i><i class="r24"></i><i class="r25"></i><i class="r26"></i><i class="r27"></i><i class="r28"></i><i class="r29"></i><i class="r30"></i><i class="r31"></i><i class="r32"></i><i class="r33"></i><i class="r34"></i><i class="r35"></i><i class="r36"></i><i class="r37"></i><i class="r38"></i><i class="r39"></i><i class="r40"></i><i class="r41"></i><i class="r42"></i><i class="r43"></i><i class="r44"></i><i class="r45"></i><i class="r46"></i><i class="r47"></i><i class="r48"></i><i class="r49"></i><i class="r50"></i><i class="r51"></i><i class="r52"></i><i class="r53"></i><i class="r54"></i><i class="r55"></i><i class="r56"></i><i class="r57"></i><i class="r58"></i><i class="r59"></i><i class="r60"></i><i class="r61"></i><i class="r62"></i><i class="r63"></i><i class="r64"></i><i class="r65"></i><i class="r66"></i><i class="r67"></i><i class="r68"></i><i class="r69"></i><i class="r70"></i><i class="r71"></i><i class="r72"></i><i class="r73"></i><i class="r74"></i><i class="r75"></i><i class="r76"></i><i class="r77"></i><i class="r78"></i><i class="r79"></i><i class="r80"></i><i class="r81"></i><i class="r82"></i><i class="r83"></i><i class="r84"></i><i class="r85"></i><i class="r86"></i><i class="r87"></i><i class="r88"></i><i class="r89"></i><i class="r90"></i><i class="r91"></i><i class="r92"></i><i class="r93"></i><i class="r94"></i><i class="r95"></i><i class="r96"></i><i class="r97"></i><i class="r98"></i><i class="r99"></i><i class="r100"></i><i class="r101"></i><i class="r102"></i><i class="r103"></i><i class="r104"></i><i class="r105"></i><i class="r106"></i><i class="r107"></i><i class="r108"></i><i class="r109"></i><i class="r110"></i><i class="r161"></i><i class="r112"></i><i class="r162"></i><i class="r163"></i><i class="r164"></i><i class="r165"></i><i class="r166"></i><i class="r167"></i><i class="r168"></i><i class="r169"></i><i class="r170"></i><i class="r122"></i><i class="r171"></i><i class="r124"></i><i class="r172"></i><i class="r126"></i><i class="r127"></i><i class="r128"></i><i class="r129"></i><i class="r188"></i><i class="r131"></i><i class="r132"></i><i class="r133"></i><i class="r134"></i><i class="r189"></i><i class="r190"></i><i class="r191"></i><i class="r192"></i><i class="r193"></i><i class="r194"></i><i class="r195"></i><i class="r196"></i><i class="r197"></i><i class="r198"></i><i class="r199"></i><i class="r200"></i><i class="r201"></i><i class="r175"></i><i class="r202"></i><i class="r177"></i><i class="r203"></i><i class="r204"></i><i class="r205"></i><i class="r206"></i><i class="r207"></i><i class="r208"></i><i class="r209"></i><i class="r210"></i><i class="r211"></i><i class="r160"></i><i class="r160"></i><i class="r160"></i><i class="r160"></i></div></div>
<div class="p" style="left:3752.21px;top:384.35px;width:734.51px;height:563.27px"><div class="q" style="filter:url(#f3)"><i class="r0"></i><i class="r0"></i><i class="r0"></i><i class="r0"></i><i class="r1"></i><i class="r2"></i><i class="r3"></i><i class="r4"></i><i class="r5"></i><i class="r6"></i><i class="r7"></i><i class="r8"></i><i class="r9"></i><i class="r10"></i><i class="r11"></i><i class="r12"></i><i class="r13"></i><i class="r14"></i><i class="r15"></i><i class="r16"></i><i class="r17"></i><i class="r18"></i><i class="r19"></i><i class="r20"></i><i class="r21"></i><i class="r22"></i><i class="r23"></i><i class="r24"></i><i class="r25"></i><i class="r26"></i><i class="r27"></i><i class="r28"></i><i class="r29"></i><i class="r30"></i><i class="r31"></i><i class="r32"></i><i class="r33"></i><i class="r34"></i><i class="r35"></i><i class="r36"></i><i class="r37"></i><i class="r38"></i><i class="r39"></i><i class="r40"></i><i class="r41"></i><i class="r42"></i><i class="r43"></i><i class="r44"></i><i class="r45"></i><i class="r46"></i><i class="r47"></i><i class="r48"></i><i class="r49"></i><i class="r50"></i><i class="r51"></i><i class="r52"></i><i class="r53"></i><i class="r54"></i><i class="r55"></i><i class="r56"></i><i class="r57"></i><i class="r58"></i><i class="r59"></i><i class="r60"></i><i class="r61"></i><i class="r62"></i><i class="r63"></i><i class="r64"></i><i class="r65"></i><i class="r66"></i><i class="r67"></i><i class="r68"></i><i class="r69"></i><i class="r70"></i><i class="r71"></i><i class="r72"></i><i class="r73"></i><i class="r74"></i><i class="r75"></i><i class="r76"></i><i class="r77"></i><i class="r78"></i><i class="r79"></i><i class="r80"></i><i class="r81"></i><i class="r82"></i><i class="r83"></i><i class="r84"></i><i class="r85"></i><i class="r86"></i><i class="r87"></i><i class="r88"></i><i class="r89"></i><i class="r90"></i><i class="r91"></i><i class="r92"></i><i class="r93"></i><i class="r94"></i><i class="r95"></i><i class="r96"></i><i class="r97"></i><i class="r98"></i><i class="r99"></i><i class="r100"></i><i class="r101"></i><i class="r102"></i><i class="r103"></i><i class="r104"></i><i class="r105"></i><i class="r106"></i><i class="r107"></i><i class="r108"></i><i class="r109"></i><i class="r110"></i><i class="r161"></i><i class="r112"></i><i class="r162"></i><i class="r163"></i><i class="r164"></i><i class="r165"></i><i class="r166"></i><i class="r167"></i><i class="r168"></i><i class="r169"></i><i class="r170"></i><i class="r122"></i><i class="r171"></i><i class="r124"></i><i class="r172"></i><i class="r126"></i><i class="r127"></i><i class="r128"></i><i class="r129"></i><i class="r188"></i><i class="r131"></i><i class="r132"></i><i class="r133"></i><i class="r134"></i><i class="r212"></i><i class="r213"></i><i class="r214"></i><i class="r215"></i><i class="r216"></i><i class="r217"></i><i class="r218"></i><i class="r219"></i><i class="r220"></i><i class="r221"></i><i class="r222"></i><i class="r223"></i><i class="r224"></i><i class="r225"></i><i class="r226"></i><i class="r177"></i><i class="r203"></i><i class="r204"></i><i class="r205"></i><i class="r206"></i><i class="r207"></i><i class="r208"></i><i class="r209"></i><i class="r210"></i><i class="r211"></i><i class="r160"></i><i class="r160"></i><i class="r160"></i><i class="r160"></i></div></div>
<div class="p" style="left:185.96px;top:1174.20px;width:734.51px;height:563.27px"><div class="q" style="filter:url(#f4)"><i class="r0"></i><i class="r0"></i><i class="r0"></i><i class="r0"></i><i class="r1"></i><i class="r2"></i><i class="r3"></i><i class="r4"></i><i class="r5"></i><i class="r6"></i><i class="r7"></i><i class="r8"></i><i class="r9"></i><i class="r10"></i><i class="r11"></i><i class="r12"></i><i class="r13"></i><i class="r14"></i><i class="r15"></i><i class="r16"></i><i class="r17"></i><i class="r18"></i><i class="r19"></i><i class="r20"></i><i class="r21"></i><i class="r22"></i><i class="r23"></i><i class="r24"></i><i class="r25"></i><i class="r26"></i><i class="r27"></i><i class="r28"></i><i class="r29"></i><i class="r30"></i><i class="r31"></i><i class="r32"></i><i class="r33"></i><i class="r34"></i><i class="r35"></i><i class="r36"></i><i class="r37"></i><i class="r38"></i><i class="r39"></i><i class="r40"></i><i class="r41"></i><i class="r42"></i><i class="r43"></i><i class="r44"></i><i class="r45"></i><i class="r46"></i><i class="r47"></i><i class="r48"></i><i class="r49"></i><i class="r50"></i><i class="r51"></i><i class="r52"></i><i class="r53"></i><i class="r54"></i><i class="r55"></i><i class="r56"></i><i class="r57"></i><i class="r58"></i><i class="r59"></i><i class="r60"></i><i class="r61"></i><i class="r62"></i><i class="r63"></i><i class="r64"></i><i class="r65"></i><i class="r66"></i><i class="r67"></i><i class="r68"></i><i class="r69"></i><i class="r70"></i><i class="r71"></i><i class="r72"></i><i class="r73"></i><i class="r74"></i><i class="r75"></i><i class="r76"></i><i class="r77"></i><i class="r78"></i><i class="r79"></i><i class="r80"></i><i class="r81"></i><i class="r82"></i><i class="r83"></i><i class="r84"></i><i class="r85"></i><i class="r86"></i><i class="r87"></i><i class="r88"></i><i class="r89"></i><i class="r90"></i><i class="r91"></i><i class="r92"></i><i class="r93"></i><i class="r94"></i><i class="r95"></i><i class="r96"></i><i class="r97"></i><i class="r98"></i><i class="r99"></i><i class="r100"></i><i class="r101"></i><i class="r102"></i><i class="r103"></i><i class="r104"></i><i class="r105"></i><i class="r106"></i><i class="r107"></i><i class="r108"></i><i class="r109"></i><i class="r110"></i><i class="r161"></i><i class="r112"></i><i class="r162"></i><i class="r163"></i><i class="r164"></i><i class="r165"></i><i class="r166"></i><i class="r167"></i><i class="r168"></i><i class="r169"></i><i class="r170"></i><i class="r122"></i><i class="r171"></i><i class="r124"></i><i class="r172"></i><i class="r126"></i><i class="r127"></i><i class="r128"></i><i class="r129"></i><i class="r188"></i><i class="r227"></i><i class="r132"></i><i class="r228"></i><i class="r229"></i><i class="r230"></i><i class="r231"></i><i class="r232"></i><i class="r233"></i><i class="r234"></i><i class="r235"></i><i class="r236"></i><i class="r237"></i><i class="r238"></i><i class="r239"></i><i class="r240"></i><i class="r241"></i><i class="r242"></i><i class="r243"></i><i class="r244"></i><i class="r245"></i><i class="r246"></i><i class="r247"></i><i class="r248"></i><i class="r249"></i><i class="r250"></i><i class="r251"></i><i class="r252"></i><i class="r253"></i><i class="r254"></i><i class="r255"></i><i class="r255"></i><i class="r255"></i><i class="r255"></i></div></div>
<div class="p" style="left:1374.71px;top:1174.20px;width:734.51px;height:563.27px"><div class="q" style="filter:url(#f5)"><i class="r0"></i><i class="r0"></i><i class="r0"></i><i class="r0"></i><i class="r1"></i><i class="r2"></i><i class="r3"></i><i class="r4"></i><i class="r5"></i><i class="r6"></i><i class="r7"></i><i class="r8"></i><i class="r9"></i><i class="r10"></i><i class="r11"></i><i class="r12"></i><i class="r13"></i><i class="r14"></i><i class="r15"></i><i class="r16"></i><i class="r17"></i><i class="r18"></i><i class="r19"></i><i class="r20"></i><i class="r21"></i><i class="r22"></i><i class="r23"></i><i class="r24"></i><i class="r25"></i><i class="r26"></i><i class="r27"></i><i class="r28"></i><i class="r29"></i><i class="r30"></i><i class="r31"></i><i class="r32"></i><i class="r33"></i><i class="r34"></i><i class="r35"></i><i class="r36"></i><i class="r37"></i><i class="r38"></i><i class="r39"></i><i class="r40"></i><i class="r41"></i><i class="r42"></i><i class="r43"></i><i class="r44"></i><i class="r45"></i><i class="r46"></i><i class="r47"></i><i class="r48"></i><i class="r49"></i><i class="r50"></i><i class="r51"></i><i class="r52"></i><i class="r53"></i><i class="r54"></i><i class="r55"></i><i class="r56"></i><i class="r57"></i><i class="r58"></i><i class="r59"></i><i class="r60"></i><i class="r61"></i><i class="r62"></i><i class="r63"></i><i class="r64"></i><i class="r65"></i><i class="r66"></i><i class="r67"></i><i class="r68"></i><i class="r69"></i><i class="r70"></i><i class="r71"></i><i class="r72"></i><i class="r73"></i><i class="r74"></i><i class="r75"></i><i class="r76"></i><i class="r77"></i><i class="r78"></i><i class="r79"></i><i class="r80"></i><i class="r81"></i><i class="r82"></i><i class="r83"></i><i class="r84"></i><i class="r85"></i><i class="r86"></i><i class="r87"></i><i class="r88"></i><i class="r89"></i><i class="r90"></i><i class="r91"></i><i class="r92"></i><i class="r93"></i><i class="r94"></i><i class="r95"></i><i class="r96"></i><i class="r97"></i><i class="r98"></i><i class="r99"></i><i class="r100"></i><i class="r101"></i><i class="r102"></i><i class="r103"></i><i class="r104"></i><i class="r105"></i><i class="r106"></i><i class="r107"></i><i class="r108"></i><i class="r109"></i><i class="r110"></i><i class="r161"></i><i class="r112"></i><i class="r162"></i><i class="r163"></i><i class="r164"></i><i class="r165"></i><i class="r166"></i><i class="r167"></i><i class="r168"></i><i class="r169"></i><i class="r170"></i><i class="r122"></i><i class="r171"></i><i class="r124"></i><i class="r172"></i><i class="r126"></i><i class="r127"></i><i class="r128"></i><i class="r129"></i><i class="r130"></i><i class="r131"></i><i class="r132"></i><i class="r133"></i><i class="r134"></i><i class="r135"></i><i class="r136"></i><i class="r137"></i><i class="r138"></i><i class="r139"></i><i class="r140"></i><i class="r141"></i><i class="r142"></i><i class="r143"></i><i class="r144"></i><i class="r173"></i><i class="r146"></i><i class="r174"></i><i class="r175"></i><i class="r256"></i><i class="r177"></i><i class="r203"></i><i class="r204"></i><i class="r257"></i><i class="r258"></i><i class="r259"></i><i class="r260"></i><i class="r261"></i><i class="r262"></i><i class="r263"></i><i class="r264"></i><i class="r264"></i><i class="r264"></i><i class="r264"></i></div></div>
<div class="p" style="left:2563.46px;top:1174.20px;width:734.51px;height:563.27px"><div class="q" style="filter:url(#f6)"><i class="r0"></i><i class="r0"></i><i class="r0"></i><i class="r0"></i><i class="r1"></i><i class="r2"></i><i class="r3"></i><i class="r4"></i><i class="r5"></i><i class="r6"></i><i class="r7"></i><i class="r8"></i><i class="r9"></i><i class="r10"></i><i class="r11"></i><i class="r12"></i><i class="r13"></i><i class="r14"></i><i class="r15"></i><i class="r16"></i><i class="r17"></i><i class="r18"></i><i class="r19"></i><i class="r20"></i><i class="r21"></i><i class="r22"></i><i class="r23"></i><i class="r24"></i><i class="r25"></i><i class="r26"></i><i class="r27"></i><i class="r28"></i><i class="r29"></i><i class="r30"></i><i class="r31"></i><i class="r32"></i><i class="r33"></i><i class="r34"></i><i class="r35"></i><i class="r36"></i><i class="r37"></i><i class="r38"></i><i class="r39"></i><i class="r40"></i><i class="r41"></i><i class="r42"></i><i class="r43"></i><i class="r44"></i><i class="r45"></i><i class="r46"></i><i class="r47"></i><i class="r48"></i><i class="r49"></i><i class="r50"></i><i class="r51"></i><i class="r52"></i><i class="r53"></i><i class="r54"></i><i class="r55"></i><i class="r56"></i><i class="r57"></i><i class="r58"></i><i class="r59"></i><i class="r60"></i><i class="r61"></i><i class="r62"></i><i class="r63"></i><i class="r64"></i><i class="r65"></i><i class="r66"></i><i class="r67"></i><i class="r68"></i><i class="r69"></i><i class="r70"></i><i class="r71"></i><i class="r72"></i><i class="r73"></i><i class="r74"></i><i class="r75"></i><i class="r76"></i><i class="r77"></i><i class="r78"></i><i class="r79"></i><i class="r80"></i><i class="r81"></i><i class="r82"></i><i class="r83"></i><i class="r84"></i><i class="r85"></i><i class="r86"></i><i class="r87"></i><i class="r88"></i><i class="r89"></i><i class="r90"></i><i class="r91"></i><i class="r92"></i><i class="r93"></i><i class="r94"></i><i class="r95"></i><i class="r96"></i><i class="r97"></i><i class="r98"></i><i class="r99"></i><i class="r100"></i><i class="r101"></i><i class="r102"></i><i class="r103"></i><i class="r104"></i><i class="r105"></i><i class="r106"></i><i class="r107"></i><i class="r108"></i><i class="r109"></i><i class="r110"></i><i class="r161"></i><i class="r112"></i><i class="r162"></i><i class="r163"></i><i class="r164"></i><i class="r165"></i><i class="r166"></i><i class="r167"></i><i class="r168"></i><i class="r169"></i><i class="r170"></i><i class="r122"></i><i class="r171"></i><i class="r124"></i><i class="r172"></i><i class="r126"></i><i class="r127"></i><i class="r128"></i><i class="r129"></i><i class="r265"></i><i class="r266"></i><i class="r132"></i><i class="r133"></i><i class="r134"></i><i class="r267"></i><i class="r268"></i><i class="r269"></i><i class="r270"></i><i class="r271"></i><i class="r272"></i><i class="r273"></i><i class="r274"></i><i class="r275"></i><i class="r276"></i><i class="r277"></i><i class="r146"></i><i class="r278"></i><i class="r175"></i><i class="r176"></i><i class="r177"></i><i class="r279"></i><i class="r179"></i><i class="r280"></i><i class="r281"></i><i class="r282"></i><i class="r283"></i><i class="r284"></i><i class="r285"></i><i class="r286"></i><i class="r160"></i><i class="r160"></i><i class="r160"></i><i class="r160"></i></div></div>
<div class="p" style="left:3752.21px;top:1174.20px;width:734.51px;height:563.27px"><div class="q" style="filter:url(#f7)"><i class="r0"></i><i class="r0"></i><i class="r0"></i><i class="r0"></i><i class="r1"></i><i class="r2"></i><i class="r3"></i><i class="r4"></i><i class="r5"></i><i class="r6"></i><i class="r7"></i><i class="r8"></i><i class="r9"></i><i class="r10"></i><i class="r11"></i><i class="r12"></i><i class="r13"></i><i class="r14"></i><i class="r15"></i><i class="r16"></i><i class="r17"></i><i class="r18"></i><i class="r19"></i><i class="r20"></i><i class="r21"></i><i class="r22"></i><i class="r23"></i><i class="r24"></i><i class="r25"></i><i class="r26"></i><i class="r27"></i><i class="r28"></i><i class="r29"></i><i class="r30"></i><i class="r31"></i><i class="r32"></i><i class="r33"></i><i class="r34"></i><i class="r35"></i><i class="r36"></i><i class="r37"></i><i class="r38"></i><i class="r39"></i><i class="r40"></i><i class="r41"></i><i class="r42"></i><i class="r43"></i><i class="r44"></i><i class="r45"></i><i class="r46"></i><i class="r47"></i><i class="r48"></i><i class="r49"></i><i class="r50"></i><i class="r51"></i><i class="r52"></i><i class="r53"></i><i class="r54"></i><i class="r55"></i><i class="r56"></i><i class="r57"></i><i class="r58"></i><i class="r59"></i><i class="r60"></i><i class="r61"></i><i class="r62"></i><i class="r63"></i><i class="r64"></i><i class="r65"></i><i class="r66"></i><i class="r67"></i><i class="r68"></i><i class="r69"></i><i class="r70"></i><i class="r71"></i><i class="r72"></i><i class="r73"></i><i class="r74"></i><i class="r75"></i><i class="r76"></i><i class="r77"></i><i class="r78"></i><i class="r79"></i><i class="r80"></i><i class="r81"></i><i class="r82"></i><i class="r83"></i><i class="r84"></i><i class="r85"></i><i class="r86"></i><i class="r87"></i><i class="r88"></i><i class="r89"></i><i class="r90"></i><i class="r91"></i><i class="r92"></i><i class="r93"></i><i class="r94"></i><i class="r95"></i><i class="r96"></i><i class="r97"></i><i class="r98"></i><i class="r99"></i><i class="r100"></i><i class="r101"></i><i class="r102"></i><i class="r103"></i><i class="r104"></i><i class="r105"></i><i class="r106"></i><i class="r107"></i><i class="r108"></i><i class="r109"></i><i class="r110"></i><i class="r161"></i><i class="r112"></i><i class="r162"></i><i class="r163"></i><i class="r164"></i><i class="r165"></i><i class="r166"></i><i class="r167"></i><i class="r168"></i><i class="r169"></i><i class="r170"></i><i class="r122"></i><i class="r171"></i><i class="r124"></i><i class="r172"></i><i class="r126"></i><i class="r127"></i><i class="r128"></i><i class="r129"></i><i class="r265"></i><i class="r266"></i><i class="r132"></i><i class="r133"></i><i class="r134"></i><i class="r267"></i><i class="r268"></i><i class="r269"></i><i class="r287"></i><i class="r288"></i><i class="r289"></i><i class="r290"></i><i class="r291"></i><i class="r292"></i><i class="r276"></i><i class="r277"></i><i class="r146"></i><i class="r278"></i><i class="r175"></i><i class="r256"></i><i class="r177"></i><i class="r203"></i><i class="r204"></i><i class="r205"></i><i class="r206"></i><i class="r207"></i><i class="r208"></i><i class="r209"></i><i class="r210"></i><i class="r211"></i><i class="r160"></i><i class="r160"></i><i class="r160"></i><i class="r160"></i></div></div>
<div class="p" style="left:185.96px;top:1964.05px;width:734.51px;height:563.27px"><div class="q" style="filter:url(#f8)"><i class="r293"></i><i class="r293"></i><i class="r293"></i><i class="r293"></i><i class="r294"></i><i class="r295"></i><i class="r296"></i><i class="r297"></i><i class="r298"></i><i class="r299"></i><i class="r300"></i><i class="r301"></i><i class="r302"></i><i class="r303"></i><i class="r304"></i><i class="r305"></i><i class="r306"></i><i class="r307"></i><i class="r308"></i><i class="r309"></i><i class="r310"></i><i class="r311"></i><i class="r312"></i><i class="r313"></i><i class="r314"></i><i class="r315"></i><i class="r316"></i><i class="r317"></i><i class="r318"></i><i class="r319"></i><i class="r320"></i><i class="r321"></i><i class="r322"></i><i class="r323"></i><i class="r324"></i><i class="r325"></i><i class="r326"></i><i class="r327"></i><i class="r328"></i><i class="r329"></i><i class="r330"></i><i class="r331"></i><i class="r332"></i><i class="r333"></i><i class="r334"></i><i class="r335"></i><i class="r336"></i><i class="r337"></i><i class="r338"></i><i class="r339"></i><i class="r340"></i><i class="r341"></i><i class="r342"></i><i class="r343"></i><i class="r344"></i><i class="r345"></i><i class="r346"></i><i class="r347"></i><i class="r348"></i><i class="r349"></i><i class="r350"></i><i class="r351"></i><i class="r352"></i><i class="r353"></i><i class="r354"></i><i class="r355"></i><i class="r356"></i><i class="r357"></i><i class="r358"></i><i class="r359"></i><i class="r360"></i><i class="r361"></i><i class="r362"></i><i class="r363"></i><i class="r364"></i><i class="r365"></i><i class="r366"></i><i class="r367"></i><i class="r368"></i><i class="r369"></i><i class="r370"></i><i class="r371"></i><i class="r372"></i><i class="r373"></i><i class="r374"></i><i class="r375"></i><i class="r376"></i><i class="r377"></i><i class="r378"></i><i class="r379"></i><i class="r380"></i><i class="r381"></i><i class="r382"></i><i class="r383"></i><i class="r384"></i><i class="r385"></i><i class="r386"></i><i class="r387"></i><i class="r388"></i><i class="r389"></i><i class="r390"></i><i class="r391"></i><i class="r392"></i><i class="r393"></i><i class="r394"></i><i class="r395"></i><i class="r396"></i><i class="r397"></i><i class="r398"></i><i class="r399"></i><i class="r400"></i><i class="r401"></i><i class="r402"></i><i class="r403"></i><i class="r404"></i><i class="r405"></i><i class="r406"></i><i class="r407"></i><i class="r408"></i><i class="r409"></i><i class="r410"></i><i class="r411"></i><i class="r412"></i><i class="r413"></i><i class="r414"></i><i class="r415"></i><i class="r416"></i><i class="r417"></i><i class="r418"></i><i class="r419"></i><i class="r420"></i><i class="r421"></i><i class="r422"></i><i class="r423"></i><i class="r424"></i><i class="r425"></i><i class="r426"></i><i class="r427"></i><i class="r428"></i><i class="r429"></i><i class="r430"></i><i class="r431"></i><i class="r432"></i><i class="r433"></i><i class="r434"></i><i class="r435"></i><i class="r436"></i><i class="r437"></i><i class="r438"></i><i class="r439"></i><i class="r440"></i><i class="r441"></i><i class="r442"></i><i class="r443"></i><i class="r444"></i><i class="r445"></i><i class="r446"></i><i class="r447"></i><i class="r448"></i><i class="r449"></i><i class="r450"></i><i class="r451"></i><i class="r452"></i><i class="r453"></i><i class="r453"></i><i class="r453"></i><i class="r453"></i></div></div>
<div class="p" style="left:1374.71px;top:1964.05px;width:734.51px;height:563.27px"><div class="q" style="filter:url(#f9)"><i class="r293"></i><i class="r293"></i><i class="r293"></i><i class="r293"></i><i class="r294"></i><i class="r295"></i><i class="r296"></i><i class="r297"></i><i class="r298"></i><i class="r299"></i><i class="r300"></i><i class="r301"></i><i class="r302"></i><i class="r303"></i><i class="r304"></i><i class="r305"></i><i class="r306"></i><i class="r307"></i><i class="r308"></i><i class="r309"></i><i class="r310"></i><i class="r311"></i><i class="r312"></i><i class="r313"></i><i class="r314"></i><i class="r315"></i><i class="r316"></i><i class="r317"></i><i class="r318"></i><i class="r319"></i><i class="r320"></i><i class="r321"></i><i class="r322"></i><i class="r323"></i><i class="r324"></i><i class="r325"></i><i class="r326"></i><i class="r327"></i><i class="r328"></i><i class="r329"></i><i class="r330"></i><i class="r331"></i><i class="r332"></i><i class="r333"></i><i class="r334"></i><i class="r335"></i><i class="r336"></i><i class="r337"></i><i class="r338"></i><i class="r339"></i><i class="r340"></i><i class="r341"></i><i class="r342"></i><i class="r343"></i><i class="r344"></i><i class="r345"></i><i class="r346"></i><i class="r347"></i><i class="r348"></i><i class="r349"></i><i class="r350"></i><i class="r351"></i><i class="r352"></i><i class="r353"></i><i class="r354"></i><i class="r355"></i><i class="r356"></i><i class="r357"></i><i class="r358"></i><i class="r359"></i><i class="r360"></i><i class="r361"></i><i class="r362"></i><i class="r363"></i><i class="r364"></i><i class="r365"></i><i class="r366"></i><i class="r367"></i><i class="r368"></i><i class="r369"></i><i class="r370"></i><i class="r371"></i><i class="r372"></i><i class="r373"></i><i class="r374"></i><i class="r375"></i><i class="r376"></i><i class="r377"></i><i class="r378"></i><i class="r379"></i><i class="r380"></i><i class="r381"></i><i class="r382"></i><i class="r383"></i><i class="r384"></i><i class="r385"></i><i class="r386"></i><i class="r387"></i><i class="r388"></i><i class="r389"></i><i class="r390"></i><i class="r391"></i><i class="r392"></i><i class="r393"></i><i class="r394"></i><i class="r395"></i><i class="r396"></i><i class="r397"></i><i class="r398"></i><i class="r399"></i><i class="r400"></i><i class="r401"></i><i class="r402"></i><i class="r403"></i><i class="r404"></i><i class="r405"></i><i class="r406"></i><i class="r407"></i><i class="r408"></i><i class="r409"></i><i class="r410"></i><i class="r411"></i><i class="r412"></i><i class="r413"></i><i class="r414"></i><i class="r415"></i><i class="r416"></i><i class="r417"></i><i class="r418"></i><i class="r419"></i><i class="r420"></i><i class="r421"></i><i class="r422"></i><i class="r423"></i><i class="r424"></i><i class="r425"></i><i class="r454"></i><i class="r427"></i><i class="r455"></i><i class="r456"></i><i class="r457"></i><i class="r458"></i><i class="r459"></i><i class="r460"></i><i class="r461"></i><i class="r462"></i><i class="r463"></i><i class="r464"></i><i class="r465"></i><i class="r466"></i><i class="r467"></i><i class="r441"></i><i class="r442"></i><i class="r443"></i><i class="r468"></i><i class="r445"></i><i class="r446"></i><i class="r447"></i><i class="r448"></i><i class="r449"></i><i class="r450"></i><i class="r451"></i><i class="r452"></i><i class="r453"></i><i class="r453"></i><i class="r453"></i><i class="r453"></i></div></div>
<div class="p" style="left:2563.46px;top:1964.05px;width:734.51px;height:563.27px"><div class="q" style="filter:url(#f10)"><i class="r293"></i><i class="r293"></i><i class="r293"></i><i class="r293"></i><i class="r294"></i><i class="r295"></i><i class="r296"></i><i class="r297"></i><i class="r298"></i><i class="r299"></i><i class="r300"></i><i class="r301"></i><i class="r302"></i><i class="r303"></i><i class="r304"></i><i class="r305"></i><i class="r306"></i><i class="r307"></i><i class="r308"></i><i class="r309"></i><i class="r310"></i><i class="r311"></i><i class="r312"></i><i class="r313"></i><i class="r314"></i><i class="r315"></i><i class="r316"></i><i class="r317"></i><i class="r318"></i><i class="r319"></i><i class="r320"></i><i class="r321"></i><i class="r322"></i><i class="r323"></i><i class="r324"></i><i class="r325"></i><i class="r326"></i><i class="r327"></i><i class="r328"></i><i class="r329"></i><i class="r330"></i><i class="r331"></i><i class="r332"></i><i class="r333"></i><i class="r334"></i><i class="r335"></i><i class="r336"></i><i class="r337"></i><i class="r338"></i><i class="r339"></i><i class="r340"></i><i class="r341"></i><i class="r342"></i><i class="r343"></i><i class="r344"></i><i class="r345"></i><i class="r346"></i><i class="r347"></i><i class="r348"></i><i class="r349"></i><i class="r350"></i><i class="r351"></i><i class="r352"></i><i class="r353"></i><i class="r354"></i><i class="r355"></i><i class="r356"></i><i class="r357"></i><i class="r469"></i><i class="r359"></i><i class="r360"></i><i class="r361"></i><i class="r470"></i><i class="r363"></i><i class="r471"></i><i class="r472"></i><i class="r473"></i><i class="r474"></i><i class="r475"></i><i class="r476"></i><i class="r477"></i><i class="r478"></i><i class="r479"></i><i class="r480"></i><i class="r481"></i><i class="r375"></i><i class="r482"></i><i class="r377"></i><i class="r378"></i><i class="r379"></i><i class="r380"></i><i class="r381"></i><i class="r382"></i><i class="r383"></i><i class="r384"></i><i class="r385"></i><i class="r386"></i><i class="r387"></i><i class="r388"></i><i class="r389"></i><i class="r390"></i><i class="r391"></i><i class="r392"></i><i class="r393"></i><i class="r394"></i><i class="r395"></i><i class="r396"></i><i class="r397"></i><i class="r398"></i><i class="r399"></i><i class="r400"></i><i class="r401"></i><i class="r402"></i><i class="r403"></i><i class="r404"></i><i class="r405"></i><i class="r406"></i><i class="r407"></i><i class="r408"></i><i class="r409"></i><i class="r410"></i><i class="r411"></i><i class="r412"></i><i class="r413"></i><i class="r414"></i><i class="r415"></i><i class="r416"></i><i class="r417"></i><i class="r418"></i><i class="r419"></i><i class="r420"></i><i class="r421"></i><i class="r422"></i><i class="r423"></i><i class="r424"></i><i class="r425"></i><i class="r454"></i><i class="r483"></i><i class="r484"></i><i class="r485"></i><i class="r486"></i><i class="r487"></i><i class="r488"></i><i class="r489"></i><i class="r490"></i><i class="r491"></i><i class="r492"></i><i class="r437"></i><i class="r493"></i><i class="r439"></i><i class="r440"></i><i class="r441"></i><i class="r442"></i><i class="r443"></i><i class="r444"></i><i class="r445"></i><i class="r446"></i><i class="r447"></i><i class="r448"></i><i class="r449"></i><i class="r450"></i><i class="r451"></i><i class="r452"></i><i class="r453"></i><i class="r453"></i><i class="r453"></i><i class="r453"></i></div></div>
<div class="p" style="left:3752.21px;top:1964.05px;width:734.51px;height:563.27px"><div class="q" style="filter:url(#f11)"><i class="r293"></i><i class="r293"></i><i class="r293"></i><i class="r293"></i><i class="r294"></i><i class="r295"></i><i class="r296"></i><i class="r297"></i><i class="r298"></i><i class="r299"></i><i class="r300"></i><i class="r301"></i><i class="r302"></i><i class="r303"></i><i class="r304"></i><i class="r305"></i><i class="r306"></i><i class="r307"></i><i class="r308"></i><i class="r309"></i><i class="r310"></i><i class="r311"></i><i class="r312"></i><i class="r313"></i><i class="r314"></i><i class="r315"></i><i class="r316"></i><i class="r317"></i><i class="r318"></i><i class="r319"></i><i class="r320"></i><i class="r321"></i><i class="r322"></i><i class="r323"></i><i class="r324"></i><i class="r325"></i><i class="r326"></i><i class="r327"></i><i class="r328"></i><i class="r329"></i><i class="r330"></i><i class="r331"></i><i class="r332"></i><i class="r333"></i><i class="r334"></i><i class="r335"></i><i class="r336"></i><i class="r337"></i><i class="r338"></i><i class="r339"></i><i class="r340"></i><i class="r341"></i><i class="r342"></i><i class="r343"></i><i class="r344"></i><i class="r345"></i><i class="r346"></i><i class="r347"></i><i class="r348"></i><i class="r349"></i><i class="r350"></i><i class="r351"></i><i class="r352"></i><i class="r353"></i><i class="r354"></i><i class="r355"></i><i class="r356"></i><i class="r357"></i><i class="r469"></i><i class="r359"></i><i class="r360"></i><i class="r361"></i><i class="r470"></i><i class="r363"></i><i class="r471"></i><i class="r472"></i><i class="r473"></i><i class="r494"></i><i class="r495"></i><i class="r496"></i><i class="r497"></i><i class="r498"></i><i class="r499"></i><i class="r480"></i><i class="r481"></i><i class="r375"></i><i class="r482"></i><i class="r377"></i><i class="r378"></i><i class="r379"></i><i class="r380"></i><i class="r381"></i><i class="r382"></i><i class="r383"></i><i class="r384"></i><i class="r385"></i><i class="r386"></i><i class="r387"></i><i class="r388"></i><i class="r389"></i><i class="r390"></i><i class="r391"></i><i class="r392"></i><i class="r393"></i><i class="r394"></i><i class="r395"></i><i class="r396"></i><i class="r397"></i><i class="r398"></i><i class="r399"></i><i class="r400"></i><i class="r401"></i><i class="r402"></i><i class="r403"></i><i class="r404"></i><i class="r405"></i><i class="r406"></i><i class="r407"></i><i class="r408"></i><i class="r409"></i><i class="r410"></i><i class="r411"></i><i class="r412"></i><i class="r413"></i><i class="r414"></i><i class="r415"></i><i class="r416"></i><i class="r417"></i><i class="r418"></i><i class="r419"></i><i class="r420"></i><i class="r421"></i><i class="r422"></i><i class="r423"></i><i class="r424"></i><i class="r425"></i><i class="r426"></i><i class="r427"></i><i class="r500"></i><i class="r429"></i><i class="r501"></i><i class="r431"></i><i class="r502"></i><i class="r503"></i><i class="r504"></i><i class="r505"></i><i class="r506"></i><i class="r507"></i><i class="r508"></i><i class="r509"></i><i class="r510"></i><i class="r511"></i><i class="r512"></i><i class="r443"></i><i class="r468"></i><i class="r445"></i><i class="r446"></i><i class="r447"></i><i class="r448"></i><i class="r449"></i><i class="r450"></i><i class="r451"></i><i class="r452"></i><i class="r453"></i><i class="r453"></i><i class="r453"></i><i class="r453"></i></div></div>
<div class="p" style="left:185.96px;top:2753.90px;width:734.51px;height:563.27px"><div class="q" style="filter:url(#f12)"><i class="r293"></i><i class="r293"></i><i class="r293"></i><i class="r293"></i><i class="r294"></i><i class="r295"></i><i class="r296"></i><i class="r297"></i><i class="r298"></i><i class="r299"></i><i class="r300"></i><i class="r301"></i><i class="r302"></i><i class="r303"></i><i class="r304"></i><i class="r305"></i><i class="r306"></i><i class="r307"></i><i class="r308"></i><i class="r309"></i><i class="r310"></i><i class="r311"></i><i class="r312"></i><i class="r313"></i><i class="r314"></i><i class="r315"></i><i class="r316"></i><i class="r317"></i><i class="r318"></i><i class="r319"></i><i class="r320"></i><i class="r321"></i><i class="r322"></i><i class="r323"></i><i class="r324"></i><i class="r325"></i><i class="r326"></i><i class="r327"></i><i class="r328"></i><i class="r329"></i><i class="r330"></i><i class="r331"></i><i class="r332"></i><i class="r333"></i><i class="r334"></i><i class="r335"></i><i class="r336"></i><i class="r337"></i><i class="r338"></i><i class="r339"></i><i class="r340"></i><i class="r341"></i><i class="r342"></i><i class="r343"></i><i class="r344"></i><i class="r345"></i><i class="r346"></i><i class="r347"></i><i class="r348"></i><i class="r349"></i><i class="r350"></i><i class="r351"></i><i class="r352"></i><i class="r353"></i><i class="r354"></i><i class="r355"></i><i class="r356"></i><i class="r357"></i><i class="r358"></i><i class="r359"></i><i class="r360"></i><i class="r361"></i><i class="r362"></i><i class="r363"></i><i class="r364"></i><i class="r365"></i><i class="r366"></i><i class="r367"></i><i class="r368"></i><i class="r369"></i><i class="r370"></i><i class="r371"></i><i class="r372"></i><i class="r373"></i><i class="r374"></i><i class="r375"></i><i class="r376"></i><i class="r377"></i><i class="r378"></i><i class="r379"></i><i class="r380"></i><i class="r381"></i><i class="r382"></i><i class="r383"></i><i class="r384"></i><i class="r385"></i><i class="r386"></i><i class="r387"></i><i class="r388"></i><i class="r389"></i><i class="r390"></i><i class="r391"></i><i class="r392"></i><i class="r393"></i><i class="r394"></i><i class="r395"></i><i class="r396"></i><i class="r397"></i><i class="r398"></i><i class="r399"></i><i class="r400"></i><i class="r401"></i><i class="r402"></i><i class="r403"></i><i class="r404"></i><i class="r405"></i><i class="r406"></i><i class="r407"></i><i class="r408"></i><i class="r409"></i><i class="r410"></i><i class="r411"></i><i class="r412"></i><i class="r413"></i><i class="r414"></i><i class="r415"></i><i class="r416"></i><i class="r417"></i><i class="r418"></i><i class="r419"></i><i class="r420"></i><i class="r421"></i><i class="r422"></i><i class="r423"></i><i class="r424"></i><i class="r425"></i><i class="r426"></i><i class="r513"></i><i class="r514"></i><i class="r515"></i><i class="r516"></i><i class="r517"></i><i class="r518"></i><i class="r519"></i><i class="r520"></i><i class="r521"></i><i class="r522"></i><i class="r523"></i><i class="r524"></i><i class="r525"></i><i class="r526"></i><i class="r527"></i><i class="r528"></i><i class="r443"></i><i class="r444"></i><i class="r445"></i><i class="r446"></i><i class="r447"></i><i class="r448"></i><i class="r449"></i><i class="r450"></i><i class="r451"></i><i class="r452"></i><i class="r453"></i><i class="r453"></i><i class="r453"></i><i class="r453"></i></div></div>
<div class="p" style="left:1374.71px;top:2753.90px;width:734.51px;height:563.27px"><div class="q" style="filter:url(#f13)"><i class="r293"></i><i class="r293"></i><i class="r293"></i><i class="r293"></i><i class="r294"></i><i class="r295"></i><i class="r296"></i><i class="r297"></i><i class="r298"></i><i class="r299"></i><i class="r300"></i><i class="r301"></i><i class="r302"></i><i class="r303"></i><i class="r304"></i><i class="r305"></i><i class="r306"></i><i class="r307"></i><i class="r308"></i><i class="r309"></i><i class="r310"></i><i class="r311"></i><i class="r312"></i><i class="r313"></i><i class="r314"></i><i class="r315"></i><i class="r316"></i><i class="r317"></i><i class="r318"></i><i class="r319"></i><i class="r320"></i><i class="r321"></i><i class="r322"></i><i class="r323"></i><i class="r324"></i><i class="r325"></i><i class="r326"></i><i class="r327"></i><i class="r328"></i><i class="r329"></i><i class="r330"></i><i class="r331"></i><i class="r332"></i><i class="r333"></i><i class="r334"></i><i class="r335"></i><i class="r336"></i><i class="r337"></i><i class="r338"></i><i class="r339"></i><i class="r340"></i><i class="r341"></i><i class="r342"></i><i class="r343"></i><i class="r344"></i><i class="r345"></i><i class="r346"></i><i class="r347"></i><i class="r348"></i><i class="r349"></i><i class="r350"></i><i class="r351"></i><i class="r352"></i><i class="r353"></i><i class="r354"></i><i class="r355"></i><i class="r356"></i><i class="r357"></i><i class="r358"></i><i class="r359"></i><i class="r360"></i><i class="r361"></i><i class="r362"></i><i class="r363"></i><i class="r364"></i><i class="r365"></i><i class="r366"></i><i class="r367"></i><i class="r368"></i><i class="r369"></i><i class="r370"></i><i class="r371"></i><i class="r372"></i><i class="r373"></i><i class="r374"></i><i class="r375"></i><i class="r376"></i><i class="r377"></i><i class="r378"></i><i class="r379"></i><i class="r380"></i><i class="r381"></i><i class="r382"></i><i class="r383"></i><i class="r384"></i><i class="r385"></i><i class="r386"></i><i class="r387"></i><i class="r388"></i><i class="r389"></i><i class="r390"></i><i class="r391"></i><i class="r392"></i><i class="r393"></i><i class="r394"></i><i class="r395"></i><i class="r396"></i><i class="r397"></i><i class="r398"></i><i class="r399"></i><i class="r400"></i><i class="r401"></i><i class="r402"></i><i class="r403"></i><i class="r404"></i><i class="r405"></i><i class="r406"></i><i class="r407"></i><i class="r408"></i><i class="r409"></i><i class="r410"></i><i class="r411"></i><i class="r412"></i><i class="r413"></i><i class="r414"></i><i class="r415"></i><i class="r416"></i><i class="r417"></i><i class="r418"></i><i class="r419"></i><i class="r420"></i><i class="r421"></i><i class="r422"></i><i class="r423"></i><i class="r424"></i><i class="r425"></i><i class="r426"></i><i class="r513"></i><i class="r514"></i><i class="r515"></i><i class="r516"></i><i class="r529"></i><i class="r518"></i><i class="r530"></i><i class="r531"></i><i class="r532"></i><i class="r533"></i><i class="r523"></i><i class="r534"></i><i class="r525"></i><i class="r526"></i><i class="r527"></i><i class="r528"></i><i class="r443"></i><i class="r444"></i><i class="r445"></i><i class="r446"></i><i class="r447"></i><i class="r448"></i><i class="r449"></i><i class="r450"></i><i class="r451"></i><i class="r452"></i><i class="r453"></i><i class="r453"></i><i class="r453"></i><i class="r453"></i></div></div>
<div class="p" style="left:2563.46px;top:2753.90px;width:734.51px;height:563.27px"><div class="q" style="filter:url(#f14)"><i class="r293"></i><i class="r293"></i><i class="r293"></i><i class="r293"></i><i class="r294"></i><i class="r295"></i><i class="r296"></i><i class="r297"></i><i class="r298"></i><i class="r299"></i><i class="r300"></i><i class="r301"></i><i class="r302"></i><i class="r303"></i><i class="r304"></i><i class="r305"></i><i class="r306"></i><i class="r307"></i><i class="r308"></i><i class="r309"></i><i class="r310"></i><i class="r311"></i><i class="r312"></i><i class="r313"></i><i class="r314"></i><i class="r315"></i><i class="r316"></i><i class="r317"></i><i class="r318"></i><i class="r319"></i><i class="r320"></i><i class="r321"></i><i class="r322"></i><i class="r323"></i><i class="r324"></i><i class="r325"></i><i class="r326"></i><i class="r327"></i><i class="r328"></i><i class="r329"></i><i class="r330"></i><i class="r331"></i><i class="r332"></i><i class="r333"></i><i class="r334"></i><i class="r335"></i><i class="r336"></i><i class="r337"></i><i class="r338"></i><i class="r339"></i><i class="r340"></i><i class="r341"></i><i class="r342"></i><i class="r343"></i><i class="r344"></i><i class="r345"></i><i class="r346"></i><i class="r347"></i><i class="r348"></i><i class="r349"></i><i class="r350"></i><i class="r351"></i><i class="r352"></i><i class="r353"></i><i class="r354"></i><i class="r355"></i><i class="r356"></i><i class="r357"></i><i class="r358"></i><i class="r359"></i><i class="r360"></i><i class="r361"></i><i class="r362"></i><i class="r363"></i><i class="r364"></i><i class="r365"></i><i class="r366"></i><i class="r367"></i><i class="r368"></i><i class="r369"></i><i class="r370"></i><i class="r371"></i><i class="r372"></i><i class="r373"></i><i class="r374"></i><i class="r375"></i><i class="r376"></i><i class="r377"></i><i class="r378"></i><i class="r379"></i><i class="r380"></i><i class="r381"></i><i class="r382"></i><i class="r383"></i><i class="r384"></i><i class="r385"></i><i class="r386"></i><i class="r387"></i><i class="r388"></i><i class="r389"></i><i class="r390"></i><i class="r391"></i><i class="r392"></i><i class="r393"></i><i class="r394"></i><i class="r395"></i><i class="r396"></i><i class="r397"></i><i class="r398"></i><i class="r399"></i><i class="r400"></i><i class="r401"></i><i class="r402"></i><i class="r403"></i><i class="r404"></i><i class="r405"></i><i class="r406"></i><i class="r407"></i><i class="r408"></i><i class="r409"></i><i class="r410"></i><i class="r411"></i><i class="r412"></i><i class="r413"></i><i class="r414"></i><i class="r415"></i><i class="r416"></i><i class="r417"></i><i class="r418"></i><i class="r419"></i><i class="r420"></i><i class="r421"></i><i class="r422"></i><i class="r423"></i><i class="r424"></i><i class="r425"></i><i class="r426"></i><i class="r513"></i><i class="r514"></i><i class="r515"></i><i class="r535"></i><i class="r529"></i><i class="r536"></i><i class="r537"></i><i class="r531"></i><i class="r538"></i><i class="r533"></i><i class="r539"></i><i class="r540"></i><i class="r525"></i><i class="r526"></i><i class="r527"></i><i class="r528"></i><i class="r443"></i><i class="r444"></i><i class="r445"></i><i class="r446"></i><i class="r447"></i><i class="r448"></i><i class="r449"></i><i class="r450"></i><i class="r451"></i><i class="r452"></i><i class="r453"></i><i class="r453"></i><i class="r453"></i><i class="r453"></i></div></div>
<div class="p" style="left:3752.21px;top:2753.90px;width:734.51px;height:563.27px"><div class="q" style="filter:url(#f15)"><i class="r293"></i><i class="r293"></i><i class="r293"></i><i class="r293"></i><i class="r294"></i><i class="r295"></i><i class="r296"></i><i class="r297"></i><i class="r298"></i><i class="r299"></i><i class="r300"></i><i class="r301"></i><i class="r302"></i><i class="r303"></i><i class="r304"></i><i class="r305"></i><i class="r306"></i><i class="r307"></i><i class="r308"></i><i class="r309"></i><i class="r310"></i><i class="r311"></i><i class="r312"></i><i class="r313"></i><i class="r314"></i><i class="r315"></i><i class="r316"></i><i class="r317"></i><i class="r318"></i><i class="r319"></i><i class="r320"></i><i class="r321"></i><i class="r322"></i><i class="r323"></i><i class="r324"></i><i class="r325"></i><i class="r326"></i><i class="r327"></i><i class="r328"></i><i class="r329"></i><i class="r330"></i><i class="r331"></i><i class="r332"></i><i class="r333"></i><i class="r334"></i><i class="r335"></i><i class="r336"></i><i class="r337"></i><i class="r338"></i><i class="r339"></i><i class="r340"></i><i class="r341"></i><i class="r342"></i><i class="r343"></i><i class="r344"></i><i class="r345"></i><i class="r346"></i><i class="r347"></i><i class="r348"></i><i class="r349"></i><i class="r350"></i><i class="r351"></i><i class="r352"></i><i class="r353"></i><i class="r354"></i><i class="r355"></i><i class="r356"></i><i class="r357"></i><i class="r358"></i><i class="r359"></i><i class="r360"></i><i class="r361"></i><i class="r362"></i><i class="r363"></i><i class="r364"></i><i class="r365"></i><i class="r366"></i><i class="r367"></i><i class="r368"></i><i class="r369"></i><i class="r370"></i><i class="r371"></i><i class="r372"></i><i class="r373"></i><i class="r374"></i><i class="r375"></i><i class="r376"></i><i class="r377"></i><i class="r378"></i><i class="r379"></i><i class="r380"></i><i class="r381"></i><i class="r382"></i><i class="r383"></i><i class="r384"></i><i class="r385"></i><i class="r386"></i><i class="r387"></i><i class="r388"></i><i class="r389"></i><i class="r390"></i><i class="r391"></i><i class="r392"></i><i class="r393"></i><i class="r394"></i><i class="r395"></i><i class="r396"></i><i class="r397"></i><i class="r398"></i><i class="r399"></i><i class="r400"></i><i class="r401"></i><i class="r402"></i><i class="r403"></i><i class="r404"></i><i class="r405"></i><i class="r406"></i><i class="r407"></i><i class="r408"></i><i class="r409"></i><i class="r410"></i><i class="r411"></i><i class="r412"></i><i class="r413"></i><i class="r414"></i><i class="r415"></i><i class="r416"></i><i class="r417"></i><i class="r418"></i><i class="r419"></i><i class="r420"></i><i class="r421"></i><i class="r422"></i><i class="r423"></i><i class="r424"></i><i class="r425"></i><i class="r426"></i><i class="r427"></i><i class="r541"></i><i class="r542"></i><i class="r543"></i><i class="r544"></i><i class="r545"></i><i class="r546"></i><i class="r547"></i><i class="r548"></i><i class="r549"></i><i class="r550"></i><i class="r551"></i><i class="r552"></i><i class="r526"></i><i class="r441"></i><i class="r528"></i><i class="r443"></i><i class="r468"></i><i class="r445"></i><i class="r446"></i><i class="r447"></i><i class="r448"></i><i class="r449"></i><i class="r450"></i><i class="r451"></i><i class="r452"></i><i class="r453"></i><i class="r453"></i><i class="r453"></i><i class="r453"></i></div></div>
<svg width="4800" height="3600" viewBox="0 0 4800 3600"><defs><linearGradient id="vir" x1="0" y1="1" x2="0" y2="0"><stop offset="0.0000" stop-color="#440154"/><stop offset="0.0312" stop-color="#470d60"/><stop offset="0.0625" stop-color="#48186a"/><stop offset="0.0938" stop-color="#482374"/><stop offset="0.1250" stop-color="#472d7b"/><stop offset="0.1562" stop-color="#453781"/><stop offset="0.1875" stop-color="#424086"/><stop offset="0.2188" stop-color="#3e4989"/><stop offset="0.2500" stop-color="#3b528b"/><stop offset="0.2812" stop-color="#375b8d"/><stop offset="0.3125" stop-color="#33638d"/><stop offset="0.3438" stop-color="#2f6b8e"/><stop offset="0.3750" stop-color="#2c728e"/><stop offset="0.4062" stop-color="#297a8e"/><stop offset="0.4375" stop-color="#26828e"/><stop offset="0.4688" stop-color="#23898e"/><stop offset="0.5000" stop-color="#21918c"/><stop offset="0.5312" stop-color="#1f988b"/><stop offset="0.5625" stop-color="#1fa088"/><stop offset="0.5938" stop-color="#22a785"/><stop offset="0.6250" stop-color="#28ae80"/><stop offset="0.6562" stop-color="#32b67a"/><stop offset="0.6875" stop-color="#3fbc73"/><stop offset="0.7188" stop-color="#4ec36b"/><stop offset="0.7500" stop-color="#5ec962"/><stop offset="0.7812" stop-color="#70cf57"/><stop offset="0.8125" stop-color="#84d44b"/><stop offset="0.8438" stop-color="#98d83e"/><stop offset="0.8750" stop-color="#addc30"/><stop offset="0.9062" stop-color="#c2df23"/><stop offset="0.9375" stop-color="#d8e219"/><stop offset="0.9688" stop-color="#ece51b"/><stop offset="1.0000" stop-color="#fde725"/></linearGradient></defs><rect x="966.37" y="384.35" width="28.16" height="563.27" fill="url(#vir)"/><rect x="185.96" y="384.35" width="734.51" height="563.27" fill="none" stroke="#000" stroke-width="3.333"/><rect x="966.37" y="384.35" width="28.16" height="563.27" fill="none" stroke="#000" stroke-width="3.333"/><rect x="2155.12" y="384.35" width="28.16" height="563.27" fill="url(#vir)"/><rect x="1374.71" y="384.35" width="734.51" height="563.27" fill="none" stroke="#000" stroke-width="3.333"/><rect x="2155.12" y="384.35" width="28.16" height="563.27" fill="none" stroke="#000" stroke-width="3.333"/><rect x="3343.87" y="384.35" width="28.16" height="563.27" fill="url(#vir)"/><rect x="2563.46" y="384.35" width="734.51" height="563.27" fill="none" stroke="#000" stroke-width="3.333"/><rect x="3343.87" y="384.35" width="28.16" height="563.27" fill="none" stroke="#000" stroke-width="3.333"/><rect x="4532.62" y="384.35" width="28.16" height="563.27" fill="url(#vir)"/><rect x="3752.21" y="384.35" width="734.51" height="563.27" fill="none" stroke="#000" stroke-width="3.333"/><rect x="4532.62" y="384.35" width="28.16" height="563.27" fill="none" stroke="#000" stroke-width="3.333"/><rect x="966.37" y="1174.20" width="28.16" height="563.27" fill="url(#vir)"/><rect x="185.96" y="1174.20" width="734.51" height="563.27" fill="none" stroke="#000" stroke-width="3.333"/><rect x="966.37" y="1174.20" width="28.16" height="563.27" fill="none" stroke="#000" stroke-width="3.333"/><rect x="2155.12" y="1174.20" width="28.16" height="563.27" fill="url(#vir)"/><rect x="1374.71" y="1174.20" width="734.51" height="563.27" fill="none" stroke="#000" stroke-width="3.333"/><rect x="2155.12" y="1174.20" width="28.16" height="563.27" fill="none" stroke="#000" stroke-width="3.333"/><rect x="3343.87" y="1174.20" width="28.16" height="563.27" fill="url(#vir)"/><rect x="2563.46" y="1174.20" width="734.51" height="563.27" fill="none" stroke="#000" stroke-width="3.333"/><rect x="3343.87" y="1174.20" width="28.16" height="563.27" fill="none" stroke="#000" stroke-width="3.333"/><rect x="4532.62" y="1174.20" width="28.16" height="563.27" fill="url(#vir)"/><rect x="3752.21" y="1174.20" width="734.51" height="563.27" fill="none" stroke="#000" stroke-width="3.333"/><rect x="4532.62" y="1174.20" width="28.16" height="563.27" fill="none" stroke="#000" stroke-width="3.333"/><rect x="966.37" y="1964.05" width="28.16" height="563.27" fill="url(#vir)"/><rect x="185.96" y="1964.05" width="734.51" height="563.27" fill="none" stroke="#000" stroke-width="3.333"/><rect x="966.37" y="1964.05" width="28.16" height="563.27" fill="none" stroke="#000" stroke-width="3.333"/><rect x="2155.12" y="1964.05" width="28.16" height="563.27" fill="url(#vir)"/><rect x="1374.71" y="1964.05" width="734.51" height="563.27" fill="none" stroke="#000" stroke-width="3.333"/><rect x="2155.12" y="1964.05" width="28.16" height="563.27" fill="none" stroke="#000" stroke-width="3.333"/><rect x="3343.87" y="1964.05" width="28.16" height="563.27" fill="url(#vir)"/><rect x="2563.46" y="1964.05" width="734.51" height="563.27" fill="none" stroke="#000" stroke-width="3.333"/><rect x="3343.87" y="1964.05" width="28.16" height="563.27" fill="none" stroke="#000" stroke-width="3.333"/><rect x="4532.62" y="1964.05" width="28.16" height="563.27" fill="url(#vir)"/><rect x="3752.21" y="1964.05" width="734.51" height="563.27" fill="none" stroke="#000" stroke-width="3.333"/><rect x="4532.62" y="1964.05" width="28.16" height="563.27" fill="none" stroke="#000" stroke-width="3.333"/><rect x="966.37" y="2753.90" width="28.16" height="563.27" fill="url(#vir)"/><rect x="185.96" y="2753.90" width="734.51" height="563.27" fill="none" stroke="#000" stroke-width="3.333"/><rect x="966.37" y="2753.90" width="28.16" height="563.27" fill="none" stroke="#000" stroke-width="3.333"/><rect x="2155.12" y="2753.90" width="28.16" height="563.27" fill="url(#vir)"/><rect x="1374.71" y="2753.90" width="734.51" height="563.27" fill="none" stroke="#000" stroke-width="3.333"/><rect x="2155.12" y="2753.90" width="28.16" height="563.27" fill="none" stroke="#000" stroke-width="3.333"/><rect x="3343.87" y="2753.90" width="28.16" height="563.27" fill="url(#vir)"/><rect x="2563.46" y="2753.90" width="734.51" height="563.27" fill="none" stroke="#000" stroke-width="3.333"/><rect x="3343.87" y="2753.90" width="28.16" height="563.27" fill="none" stroke="#000" stroke-width="3.333"/><rect x="4532.62" y="2753.90" width="28.16" height="563.27" fill="url(#vir)"/><rect x="3752.21" y="2753.90" width="734.51" height="563.27" fill="none" stroke="#000" stroke-width="3.333"/><rect x="4532.62" y="2753.90" width="28.16" height="563.27" fill="none" stroke="#000" stroke-width="3.333"/><path d="M308.38 947.62v14.58M553.21 947.62v14.58M798.05 947.62v14.58M185.96 947.62h-14.58M185.96 806.80h-14.58M185.96 665.98h-14.58M185.96 525.17h-14.58M185.96 384.35h-14.58M994.53 873.65h14.58M994.53 770.21h14.58M994.53 666.76h14.58M994.53 563.31h14.58M994.53 459.87h14.58M1497.13 947.62v14.58M1741.96 947.62v14.58M1986.80 947.62v14.58M1374.71 947.62h-14.58M1374.71 806.80h-14.58M1374.71 665.98h-14.58M1374.71 525.17h-14.58M1374.71 384.35h-14.58M2183.28 867.64h14.58M2183.28 765.77h14.58M2183.28 663.89h14.58M2183.28 562.02h14.58M2183.28 460.14h14.58M2685.88 947.62v14.58M2930.71 947.62v14.58M3175.55 947.62v14.58M2563.46 947.62h-14.58M2563.46 806.80h-14.58M2563.46 665.98h-14.58M2563.46 525.17h-14.58M2563.46 384.35h-14.58M3372.03 923.17h14.58M3372.03 829.13h14.58M3372.03 735.10h14.58M3372.03 641.06h14.58M3372.03 547.03h14.58M3372.03 453.00h14.58M3874.63 947.62v14.58M4119.46 947.62v14.58M4364.30 947.62v14.58M3752.21 947.62h-14.58M3752.21 806.80h-14.58M3752.21 665.98h-14.58M3752.21 525.17h-14.58M3752.21 384.35h-14.58M4560.78 860.13h14.58M4560.78 693.48h14.58M4560.78 526.83h14.58M308.38 1737.47v14.58M553.21 1737.47v14.58M798.05 1737.47v14.58M185.96 1737.47h-14.58M185.96 1596.65h-14.58M185.96 1455.83h-14.58M185.96 1315.02h-14.58M185.96 1174.20h-14.58M994.53 1659.04h14.58M994.53 1557.18h14.58M994.53 1455.32h14.58M994.53 1353.47h14.58M994.53 1251.61h14.58M1497.13 1737.47v14.58M1741.96 1737.47v14.58M1986.80 1737.47v14.58M1374.71 1737.47h-14.58M1374.71 1596.65h-14.58M1374.71 1455.83h-14.58M1374.71 1315.02h-14.58M1374.71 1174.20h-14.58M2183.28 1645.66h14.58M2183.28 1524.87h14.58M2183.28 1404.07h14.58M2183.28 1283.28h14.58M2685.88 1737.47v14.58M2930.71 1737.47v14.58M3175.55 1737.47v14.58M2563.46 1737.47h-14.58M2563.46 1596.65h-14.58M2563.46 1455.83h-14.58M2563.46 1315.02h-14.58M2563.46 1174.20h-14.58M3372.03 1719.53h14.58M3372.03 1625.12h14.58M3372.03 1530.70h14.58M3372.03 1436.29h14.58M3372.03 1341.88h14.58M3372.03 1247.46h14.58M3874.63 1737.47v14.58M4119.46 1737.47v14.58M4364.30 1737.47v14.58M3752.21 1737.47h-14.58M3752.21 1596.65h-14.58M3752.21 1455.83h-14.58M3752.21 1315.02h-14.58M3752.21 1174.20h-14.58M4560.78 1727.85h14.58M4560.78 1631.73h14.58M4560.78 1535.61h14.58M4560.78 1439.49h14.58M4560.78 1343.37h14.58M4560.78 1247.25h14.58M308.38 2527.32v14.58M553.21 2527.32v14.58M798.05 2527.32v14.58M185.96 2527.32h-14.58M185.96 2386.50h-14.58M185.96 2245.68h-14.58M185.96 2104.87h-14.58M185.96 1964.05h-14.58M994.53 2448.06h14.58M994.53 2347.22h14.58M994.53 2246.39h14.58M994.53 2145.55h14.58M994.53 2044.72h14.58M1497.13 2527.32v14.58M1741.96 2527.32v14.58M1986.80 2527.32v14.58M1374.71 2527.32h-14.58M1374.71 2386.50h-14.58M1374.71 2245.68h-14.58M1374.71 2104.87h-14.58M1374.71 1964.05h-14.58M2183.28 2436.06h14.58M2183.28 2337.93h14.58M2183.28 2239.80h14.58M2183.28 2141.67h14.58M2183.28 2043.54h14.58M2685.88 2527.32v14.58M2930.71 2527.32v14.58M3175.55 2527.32v14.58M2563.46 2527.32h-14.58M2563.46 2386.50h-14.58M2563.46 2245.68h-14.58M2563.46 2104.87h-14.58M2563.46 1964.05h-14.58M3372.03 2432.30h14.58M3372.03 2334.34h14.58M3372.03 2236.38h14.58M3372.03 2138.42h14.58M3372.03 2040.46h14.58M3874.63 2527.32v14.58M4119.46 2527.32v14.58M4364.30 2527.32v14.58M3752.21 2527.32h-14.58M3752.21 2386.50h-14.58M3752.21 2245.68h-14.58M3752.21 2104.87h-14.58M3752.21 1964.05h-14.58M4560.78 2442.78h14.58M4560.78 2344.48h14.58M4560.78 2246.17h14.58M4560.78 2147.87h14.58M4560.78 2049.57h14.58M308.38 3317.17v14.58M553.21 3317.17v14.58M798.05 3317.17v14.58M185.96 3317.17h-14.58M185.96 3176.35h-14.58M185.96 3035.53h-14.58M185.96 2894.72h-14.58M185.96 2753.90h-14.58M994.53 3237.18h14.58M994.53 3070.53h14.58M994.53 2903.88h14.58M1497.13 3317.17v14.58M1741.96 3317.17v14.58M1986.80 3317.17v14.58M1374.71 3317.17h-14.58M1374.71 3176.35h-14.58M1374.71 3035.53h-14.58M1374.71 2894.72h-14.58M1374.71 2753.90h-14.58M2183.28 3234.82h14.58M2183.28 3070.12h14.58M2183.28 2905.42h14.58M2685.88 3317.17v14.58M2930.71 3317.17v14.58M3175.55 3317.17v14.58M2563.46 3317.17h-14.58M2563.46 3176.35h-14.58M2563.46 3035.53h-14.58M2563.46 2894.72h-14.58M2563.46 2753.90h-14.58M3372.03 3233.17h14.58M3372.03 3068.47h14.58M3372.03 2903.78h14.58M3874.63 3317.17v14.58M4119.46 3317.17v14.58M4364.30 3317.17v14.58M3752.21 3317.17h-14.58M3752.21 3176.35h-14.58M3752.21 3035.53h-14.58M3752.21 2894.72h-14.58M3752.21 2753.90h-14.58M4560.78 3272.93h14.58M4560.78 3094.57h14.58M4560.78 2916.21h14.58" stroke="#000" stroke-width="3.333" fill="none"/><text x="295.19" y="1009.78" font-size="44.15" textLength="26.51" lengthAdjust="spacingAndGlyphs">2</text><text x="539.96" y="1009.78" font-size="44.15" textLength="26.51" lengthAdjust="spacingAndGlyphs">4</text><text x="784.80" y="1009.78" font-size="44.15" textLength="26.51" lengthAdjust="spacingAndGlyphs">6</text><text x="468.59" y="1068.45" font-size="44.15" textLength="169.43" lengthAdjust="spacingAndGlyphs">Time (s)</text><text x="130.29" y="964.12" font-size="44.15" textLength="26.51" lengthAdjust="spacingAndGlyphs">0</text><text x="103.79" y="823.30" font-size="44.15" textLength="53.02" lengthAdjust="spacingAndGlyphs">10</text><text x="103.92" y="682.48" font-size="44.15" textLength="53.02" lengthAdjust="spacingAndGlyphs">20</text><text x="103.67" y="541.67" font-size="44.15" textLength="53.02" lengthAdjust="spacingAndGlyphs">30</text><text x="103.79" y="400.85" font-size="44.15" textLength="53.02" lengthAdjust="spacingAndGlyphs">40</text><text transform="translate(78.00 822.98) rotate(-90)" font-size="44.15" textLength="314.21" lengthAdjust="spacingAndGlyphs">Frequency (Hz)</text><text x="515.40" y="367.90" font-size="44.15" textLength="75.60" lengthAdjust="spacingAndGlyphs">FP1</text><text x="1483.94" y="1009.78" font-size="44.15" textLength="26.51" lengthAdjust="spacingAndGlyphs">2</text><text x="1728.71" y="1009.78" font-size="44.15" textLength="26.51" lengthAdjust="spacingAndGlyphs">4</text><text x="1973.55" y="1009.78" font-size="44.15" textLength="26.51" lengthAdjust="spacingAndGlyphs">6</text><text x="1657.34" y="1068.45" font-size="44.15" textLength="169.43" lengthAdjust="spacingAndGlyphs">Time (s)</text><text x="1319.04" y="964.12" font-size="44.15" textLength="26.51" lengthAdjust="spacingAndGlyphs">0</text><text x="1292.54" y="823.30" font-size="44.15" textLength="53.02" lengthAdjust="spacingAndGlyphs">10</text><text x="1292.67" y="682.48" font-size="44.15" textLength="53.02" lengthAdjust="spacingAndGlyphs">20</text><text x="1292.42" y="541.67" font-size="44.15" textLength="53.02" lengthAdjust="spacingAndGlyphs">30</text><text x="1292.54" y="400.85" font-size="44.15" textLength="53.02" lengthAdjust="spacingAndGlyphs">40</text><text transform="translate(1266.75 822.98) rotate(-90)" font-size="44.15" textLength="314.21" lengthAdjust="spacingAndGlyphs">Frequency (Hz)</text><text x="1704.21" y="367.90" font-size="44.15" textLength="75.60" lengthAdjust="spacingAndGlyphs">FP2</text><text x="2672.69" y="1009.78" font-size="44.15" textLength="26.51" lengthAdjust="spacingAndGlyphs">2</text><text x="2917.46" y="1009.78" font-size="44.15" textLength="26.51" lengthAdjust="spacingAndGlyphs">4</text><text x="3162.30" y="1009.78" font-size="44.15" textLength="26.51" lengthAdjust="spacingAndGlyphs">6</text><text x="2846.09" y="1068.45" font-size="44.15" textLength="169.43" lengthAdjust="spacingAndGlyphs">Time (s)</text><text x="2507.79" y="964.12" font-size="44.15" textLength="26.51" lengthAdjust="spacingAndGlyphs">0</text><text x="2481.29" y="823.30" font-size="44.15" textLength="53.02" lengthAdjust="spacingAndGlyphs">10</text><text x="2481.42" y="682.48" font-size="44.15" textLength="53.02" lengthAdjust="spacingAndGlyphs">20</text><text x="2481.17" y="541.67" font-size="44.15" textLength="53.02" lengthAdjust="spacingAndGlyphs">30</text><text x="2481.29" y="400.85" font-size="44.15" textLength="53.02" lengthAdjust="spacingAndGlyphs">40</text><text transform="translate(2455.50 822.98) rotate(-90)" font-size="44.15" textLength="314.21" lengthAdjust="spacingAndGlyphs">Frequency (Hz)</text><text x="2902.84" y="367.90" font-size="44.15" textLength="55.60" lengthAdjust="spacingAndGlyphs">C3</text><text x="3861.44" y="1009.78" font-size="44.15" textLength="26.51" lengthAdjust="spacingAndGlyphs">2</text><text x="4106.21" y="1009.78" font-size="44.15" textLength="26.51" lengthAdjust="spacingAndGlyphs">4</text><text x="4351.05" y="1009.78" font-size="44.15" textLength="26.51" lengthAdjust="spacingAndGlyphs">6</text><text x="4034.84" y="1068.45" font-size="44.15" textLength="169.43" lengthAdjust="spacingAndGlyphs">Time (s)</text><text x="3696.54" y="964.12" font-size="44.15" textLength="26.51" lengthAdjust="spacingAndGlyphs">0</text><text x="3670.04" y="823.30" font-size="44.15" textLength="53.02" lengthAdjust="spacingAndGlyphs">10</text><text x="3670.17" y="682.48" font-size="44.15" textLength="53.02" lengthAdjust="spacingAndGlyphs">20</text><text x="3669.92" y="541.67" font-size="44.15" textLength="53.02" lengthAdjust="spacingAndGlyphs">30</text><text x="3670.04" y="400.85" font-size="44.15" textLength="53.02" lengthAdjust="spacingAndGlyphs">40</text><text transform="translate(3644.25 822.98) rotate(-90)" font-size="44.15" textLength="314.21" lengthAdjust="spacingAndGlyphs">Frequency (Hz)</text><text x="4091.65" y="367.90" font-size="44.15" textLength="55.60" lengthAdjust="spacingAndGlyphs">C4</text><text x="295.19" y="1799.63" font-size="44.15" textLength="26.51" lengthAdjust="spacingAndGlyphs">2</text><text x="539.96" y="1799.63" font-size="44.15" textLength="26.51" lengthAdjust="spacingAndGlyphs">4</text><text x="784.80" y="1799.63" font-size="44.15" textLength="26.51" lengthAdjust="spacingAndGlyphs">6</text><text x="468.59" y="1858.30" font-size="44.15" textLength="169.43" lengthAdjust="spacingAndGlyphs">Time (s)</text><text x="130.29" y="1753.97" font-size="44.15" textLength="26.51" lengthAdjust="spacingAndGlyphs">0</text><text x="103.79" y="1613.15" font-size="44.15" textLength="53.02" lengthAdjust="spacingAndGlyphs">10</text><text x="103.92" y="1472.33" font-size="44.15" textLength="53.02" lengthAdjust="spacingAndGlyphs">20</text><text x="103.67" y="1331.52" font-size="44.15" textLength="53.02" lengthAdjust="spacingAndGlyphs">30</text><text x="103.79" y="1190.70" font-size="44.15" textLength="53.02" lengthAdjust="spacingAndGlyphs">40</text><text transform="translate(78.00 1612.83) rotate(-90)" font-size="44.15" textLength="314.21" lengthAdjust="spacingAndGlyphs">Frequency (Hz)</text><text x="527.21" y="1157.75" font-size="44.15" textLength="51.96" lengthAdjust="spacingAndGlyphs">T3</text><text x="1483.94" y="1799.63" font-size="44.15" textLength="26.51" lengthAdjust="spacingAndGlyphs">2</text><text x="1728.71" y="1799.63" font-size="44.15" textLength="26.51" lengthAdjust="spacingAndGlyphs">4</text><text x="1973.55" y="1799.63" font-size="44.15" textLength="26.51" lengthAdjust="spacingAndGlyphs">6</text><text x="1657.34" y="1858.30" font-size="44.15" textLength="169.43" lengthAdjust="spacingAndGlyphs">Time (s)</text><text x="1319.04" y="1753.97" font-size="44.15" textLength="26.51" lengthAdjust="spacingAndGlyphs">0</text><text x="1292.54" y="1613.15" font-size="44.15" textLength="53.02" lengthAdjust="spacingAndGlyphs">10</text><text x="1292.67" y="1472.33" font-size="44.15" textLength="53.02" lengthAdjust="spacingAndGlyphs">20</text><text x="1292.42" y="1331.52" font-size="44.15" textLength="53.02" lengthAdjust="spacingAndGlyphs">30</text><text x="1292.54" y="1190.70" font-size="44.15" textLength="53.02" lengthAdjust="spacingAndGlyphs">40</text><text transform="translate(1266.75 1612.83) rotate(-90)" font-size="44.15" textLength="314.21" lengthAdjust="spacingAndGlyphs">Frequency (Hz)</text><text x="1716.02" y="1157.75" font-size="44.15" textLength="51.96" lengthAdjust="spacingAndGlyphs">T4</text><text x="2672.69" y="1799.63" font-size="44.15" textLength="26.51" lengthAdjust="spacingAndGlyphs">2</text><text x="2917.46" y="1799.63" font-size="44.15" textLength="26.51" lengthAdjust="spacingAndGlyphs">4</text><text x="3162.30" y="1799.63" font-size="44.15" textLength="26.51" lengthAdjust="spacingAndGlyphs">6</text><text x="2846.09" y="1858.30" font-size="44.15" textLength="169.43" lengthAdjust="spacingAndGlyphs">Time (s)</text><text x="2507.79" y="1753.97" font-size="44.15" textLength="26.51" lengthAdjust="spacingAndGlyphs">0</text><text x="2481.29" y="1613.15" font-size="44.15" textLength="53.02" lengthAdjust="spacingAndGlyphs">10</text><text x="2481.42" y="1472.33" font-size="44.15" textLength="53.02" lengthAdjust="spacingAndGlyphs">20</text><text x="2481.17" y="1331.52" font-size="44.15" textLength="53.02" lengthAdjust="spacingAndGlyphs">30</text><text x="2481.29" y="1190.70" font-size="44.15" textLength="53.02" lengthAdjust="spacingAndGlyphs">40</text><text transform="translate(2455.50 1612.83) rotate(-90)" font-size="44.15" textLength="314.21" lengthAdjust="spacingAndGlyphs">Frequency (Hz)</text><text x="2901.02" y="1157.75" font-size="44.15" textLength="59.31" lengthAdjust="spacingAndGlyphs">O1</text><text x="3861.44" y="1799.63" font-size="44.15" textLength="26.51" lengthAdjust="spacingAndGlyphs">2</text><text x="4106.21" y="1799.63" font-size="44.15" textLength="26.51" lengthAdjust="spacingAndGlyphs">4</text><text x="4351.05" y="1799.63" font-size="44.15" textLength="26.51" lengthAdjust="spacingAndGlyphs">6</text><text x="4034.84" y="1858.30" font-size="44.15" textLength="169.43" lengthAdjust="spacingAndGlyphs">Time (s)</text><text x="3696.54" y="1753.97" font-size="44.15" textLength="26.51" lengthAdjust="spacingAndGlyphs">0</text><text x="3670.04" y="1613.15" font-size="44.15" textLength="53.02" lengthAdjust="spacingAndGlyphs">10</text><text x="3670.17" y="1472.33" font-size="44.15" textLength="53.02" lengthAdjust="spacingAndGlyphs">20</text><text x="3669.92" y="1331.52" font-size="44.15" textLength="53.02" lengthAdjust="spacingAndGlyphs">30</text><text x="3670.04" y="1190.70" font-size="44.15" textLength="53.02" lengthAdjust="spacingAndGlyphs">40</text><text transform="translate(3644.25 1612.83) rotate(-90)" font-size="44.15" textLength="314.21" lengthAdjust="spacingAndGlyphs">Frequency (Hz)</text><text x="4089.84" y="1157.75" font-size="44.15" textLength="59.31" lengthAdjust="spacingAndGlyphs">O2</text><text x="295.19" y="2589.48" font-size="44.15" textLength="26.51" lengthAdjust="spacingAndGlyphs">2</text><text x="539.96" y="2589.48" font-size="44.15" textLength="26.51" lengthAdjust="spacingAndGlyphs">4</text><text x="784.80" y="2589.48" font-size="44.15" textLength="26.51" lengthAdjust="spacingAndGlyphs">6</text><text x="468.59" y="2648.15" font-size="44.15" textLength="169.43" lengthAdjust="spacingAndGlyphs">Time (s)</text><text x="130.29" y="2543.82" font-size="44.15" textLength="26.51" lengthAdjust="spacingAndGlyphs">0</text><text x="103.79" y="2403.00" font-size="44.15" textLength="53.02" lengthAdjust="spacingAndGlyphs">10</text><text x="103.92" y="2262.18" font-size="44.15" textLength="53.02" lengthAdjust="spacingAndGlyphs">20</text><text x="103.67" y="2121.37" font-size="44.15" textLength="53.02" lengthAdjust="spacingAndGlyphs">30</text><text x="103.79" y="1980.55" font-size="44.15" textLength="53.02" lengthAdjust="spacingAndGlyphs">40</text><text transform="translate(78.00 2402.68) rotate(-90)" font-size="44.15" textLength="314.21" lengthAdjust="spacingAndGlyphs">Frequency (Hz)</text><text x="528.02" y="1947.60" font-size="44.15" textLength="50.48" lengthAdjust="spacingAndGlyphs">F7</text><text x="1483.94" y="2589.48" font-size="44.15" textLength="26.51" lengthAdjust="spacingAndGlyphs">2</text><text x="1728.71" y="2589.48" font-size="44.15" textLength="26.51" lengthAdjust="spacingAndGlyphs">4</text><text x="1973.55" y="2589.48" font-size="44.15" textLength="26.51" lengthAdjust="spacingAndGlyphs">6</text><text x="1657.34" y="2648.15" font-size="44.15" textLength="169.43" lengthAdjust="spacingAndGlyphs">Time (s)</text><text x="1319.04" y="2543.82" font-size="44.15" textLength="26.51" lengthAdjust="spacingAndGlyphs">0</text><text x="1292.54" y="2403.00" font-size="44.15" textLength="53.02" lengthAdjust="spacingAndGlyphs">10</text><text x="1292.67" y="2262.18" font-size="44.15" textLength="53.02" lengthAdjust="spacingAndGlyphs">20</text><text x="1292.42" y="2121.37" font-size="44.15" textLength="53.02" lengthAdjust="spacingAndGlyphs">30</text><text x="1292.54" y="1980.55" font-size="44.15" textLength="53.02" lengthAdjust="spacingAndGlyphs">40</text><text transform="translate(1266.75 2402.68) rotate(-90)" font-size="44.15" textLength="314.21" lengthAdjust="spacingAndGlyphs">Frequency (Hz)</text><text x="1716.65" y="1947.60" font-size="44.15" textLength="50.48" lengthAdjust="spacingAndGlyphs">F8</text><text x="2672.69" y="2589.48" font-size="44.15" textLength="26.51" lengthAdjust="spacingAndGlyphs">2</text><text x="2917.46" y="2589.48" font-size="44.15" textLength="26.51" lengthAdjust="spacingAndGlyphs">4</text><text x="3162.30" y="2589.48" font-size="44.15" textLength="26.51" lengthAdjust="spacingAndGlyphs">6</text><text x="2846.09" y="2648.15" font-size="44.15" textLength="169.43" lengthAdjust="spacingAndGlyphs">Time (s)</text><text x="2507.79" y="2543.82" font-size="44.15" textLength="26.51" lengthAdjust="spacingAndGlyphs">0</text><text x="2481.29" y="2403.00" font-size="44.15" textLength="53.02" lengthAdjust="spacingAndGlyphs">10</text><text x="2481.42" y="2262.18" font-size="44.15" textLength="53.02" lengthAdjust="spacingAndGlyphs">20</text><text x="2481.17" y="2121.37" font-size="44.15" textLength="53.02" lengthAdjust="spacingAndGlyphs">30</text><text x="2481.29" y="1980.55" font-size="44.15" textLength="53.02" lengthAdjust="spacingAndGlyphs">40</text><text transform="translate(2455.50 2402.68) rotate(-90)" font-size="44.15" textLength="314.21" lengthAdjust="spacingAndGlyphs">Frequency (Hz)</text><text x="2905.40" y="1947.60" font-size="44.15" textLength="50.48" lengthAdjust="spacingAndGlyphs">F3</text><text x="3861.44" y="2589.48" font-size="44.15" textLength="26.51" lengthAdjust="spacingAndGlyphs">2</text><text x="4106.21" y="2589.48" font-size="44.15" textLength="26.51" lengthAdjust="spacingAndGlyphs">4</text><text x="4351.05" y="2589.48" font-size="44.15" textLength="26.51" lengthAdjust="spacingAndGlyphs">6</text><text x="4034.84" y="2648.15" font-size="44.15" textLength="169.43" lengthAdjust="spacingAndGlyphs">Time (s)</text><text x="3696.54" y="2543.82" font-size="44.15" textLength="26.51" lengthAdjust="spacingAndGlyphs">0</text><text x="3670.04" y="2403.00" font-size="44.15" textLength="53.02" lengthAdjust="spacingAndGlyphs">10</text><text x="3670.17" y="2262.18" font-size="44.15" textLength="53.02" lengthAdjust="spacingAndGlyphs">20</text><text x="3669.92" y="2121.37" font-size="44.15" textLength="53.02" lengthAdjust="spacingAndGlyphs">30</text><text x="3670.04" y="1980.55" font-size="44.15" textLength="53.02" lengthAdjust="spacingAndGlyphs">40</text><text transform="translate(3644.25 2402.68) rotate(-90)" font-size="44.15" textLength="314.21" lengthAdjust="spacingAndGlyphs">Frequency (Hz)</text><text x="4094.21" y="1947.60" font-size="44.15" textLength="50.48" lengthAdjust="spacingAndGlyphs">F4</text><text x="295.19" y="3379.33" font-size="44.15" textLength="26.51" lengthAdjust="spacingAndGlyphs">2</text><text x="539.96" y="3379.33" font-size="44.15" textLength="26.51" lengthAdjust="spacingAndGlyphs">4</text><text x="784.80" y="3379.33" font-size="44.15" textLength="26.51" lengthAdjust="spacingAndGlyphs">6</text><text x="468.59" y="3438.00" font-size="44.15" textLength="169.43" lengthAdjust="spacingAndGlyphs">Time (s)</text><text x="130.29" y="3333.67" font-size="44.15" textLength="26.51" lengthAdjust="spacingAndGlyphs">0</text><text x="103.79" y="3192.85" font-size="44.15" textLength="53.02" lengthAdjust="spacingAndGlyphs">10</text><text x="103.92" y="3052.03" font-size="44.15" textLength="53.02" lengthAdjust="spacingAndGlyphs">20</text><text x="103.67" y="2911.22" font-size="44.15" textLength="53.02" lengthAdjust="spacingAndGlyphs">30</text><text x="103.79" y="2770.40" font-size="44.15" textLength="53.02" lengthAdjust="spacingAndGlyphs">40</text><text transform="translate(78.00 3192.53) rotate(-90)" font-size="44.15" textLength="314.21" lengthAdjust="spacingAndGlyphs">Frequency (Hz)</text><text x="527.27" y="2737.45" font-size="44.15" textLength="51.96" lengthAdjust="spacingAndGlyphs">T5</text><text x="1483.94" y="3379.33" font-size="44.15" textLength="26.51" lengthAdjust="spacingAndGlyphs">2</text><text x="1728.71" y="3379.33" font-size="44.15" textLength="26.51" lengthAdjust="spacingAndGlyphs">4</text><text x="1973.55" y="3379.33" font-size="44.15" textLength="26.51" lengthAdjust="spacingAndGlyphs">6</text><text x="1657.34" y="3438.00" font-size="44.15" textLength="169.43" lengthAdjust="spacingAndGlyphs">Time (s)</text><text x="1319.04" y="3333.67" font-size="44.15" textLength="26.51" lengthAdjust="spacingAndGlyphs">0</text><text x="1292.54" y="3192.85" font-size="44.15" textLength="53.02" lengthAdjust="spacingAndGlyphs">10</text><text x="1292.67" y="3052.03" font-size="44.15" textLength="53.02" lengthAdjust="spacingAndGlyphs">20</text><text x="1292.42" y="2911.22" font-size="44.15" textLength="53.02" lengthAdjust="spacingAndGlyphs">30</text><text x="1292.54" y="2770.40" font-size="44.15" textLength="53.02" lengthAdjust="spacingAndGlyphs">40</text><text transform="translate(1266.75 3192.53) rotate(-90)" font-size="44.15" textLength="314.21" lengthAdjust="spacingAndGlyphs">Frequency (Hz)</text><text x="1716.02" y="2737.45" font-size="44.15" textLength="51.96" lengthAdjust="spacingAndGlyphs">T6</text><text x="2672.69" y="3379.33" font-size="44.15" textLength="26.51" lengthAdjust="spacingAndGlyphs">2</text><text x="2917.46" y="3379.33" font-size="44.15" textLength="26.51" lengthAdjust="spacingAndGlyphs">4</text><text x="3162.30" y="3379.33" font-size="44.15" textLength="26.51" lengthAdjust="spacingAndGlyphs">6</text><text x="2846.09" y="3438.00" font-size="44.15" textLength="169.43" lengthAdjust="spacingAndGlyphs">Time (s)</text><text x="2507.79" y="3333.67" font-size="44.15" textLength="26.51" lengthAdjust="spacingAndGlyphs">0</text><text x="2481.29" y="3192.85" font-size="44.15" textLength="53.02" lengthAdjust="spacingAndGlyphs">10</text><text x="2481.42" y="3052.03" font-size="44.15" textLength="53.02" lengthAdjust="spacingAndGlyphs">20</text><text x="2481.17" y="2911.22" font-size="44.15" textLength="53.02" lengthAdjust="spacingAndGlyphs">30</text><text x="2481.29" y="2770.40" font-size="44.15" textLength="53.02" lengthAdjust="spacingAndGlyphs">40</text><text transform="translate(2455.50 3192.53) rotate(-90)" font-size="44.15" textLength="314.21" lengthAdjust="spacingAndGlyphs">Frequency (Hz)</text><text x="2904.84" y="2737.45" font-size="44.15" textLength="51.64" lengthAdjust="spacingAndGlyphs">P3</text><text x="3861.44" y="3379.33" font-size="44.15" textLength="26.51" lengthAdjust="spacingAndGlyphs">2</text><text x="4106.21" y="3379.33" font-size="44.15" textLength="26.51" lengthAdjust="spacingAndGlyphs">4</text><text x="4351.05" y="3379.33" font-size="44.15" textLength="26.51" lengthAdjust="spacingAndGlyphs">6</text><text x="4034.84" y="3438.00" font-size="44.15" textLength="169.43" lengthAdjust="spacingAndGlyphs">Time (s)</text><text x="3696.54" y="3333.67" font-size="44.15" textLength="26.51" lengthAdjust="spacingAndGlyphs">0</text><text x="3670.04" y="3192.85" font-size="44.15" textLength="53.02" lengthAdjust="spacingAndGlyphs">10</text><text x="3670.17" y="3052.03" font-size="44.15" textLength="53.02" lengthAdjust="spacingAndGlyphs">20</text><text x="3669.92" y="2911.22" font-size="44.15" textLength="53.02" lengthAdjust="spacingAndGlyphs">30</text><text x="3670.04" y="2770.40" font-size="44.15" textLength="53.02" lengthAdjust="spacingAndGlyphs">40</text><text transform="translate(3644.25 3192.53) rotate(-90)" font-size="44.15" textLength="314.21" lengthAdjust="spacingAndGlyphs">Frequency (Hz)</text><text x="4093.65" y="2737.45" font-size="44.15" textLength="51.64" lengthAdjust="spacingAndGlyphs">P4</text><text x="1023.70" y="890.15" font-size="44.15" textLength="87.93" lengthAdjust="spacingAndGlyphs">−10</text><text x="1023.70" y="786.71" font-size="44.15" textLength="26.51" lengthAdjust="spacingAndGlyphs">0</text><text x="1023.70" y="683.26" font-size="44.15" textLength="53.02" lengthAdjust="spacingAndGlyphs">10</text><text x="1023.70" y="579.81" font-size="44.15" textLength="53.02" lengthAdjust="spacingAndGlyphs">20</text><text x="1023.70" y="476.37" font-size="44.15" textLength="53.02" lengthAdjust="spacingAndGlyphs">30</text><text transform="translate(1161.24 779.23) rotate(-90)" font-size="44.15" textLength="226.77" lengthAdjust="spacingAndGlyphs">Power (dB)</text><text x="2212.45" y="884.14" font-size="44.15" textLength="87.93" lengthAdjust="spacingAndGlyphs">−10</text><text x="2212.45" y="782.27" font-size="44.15" textLength="26.51" lengthAdjust="spacingAndGlyphs">0</text><text x="2212.45" y="680.39" font-size="44.15" textLength="53.02" lengthAdjust="spacingAndGlyphs">10</text><text x="2212.45" y="578.52" font-size="44.15" textLength="53.02" lengthAdjust="spacingAndGlyphs">20</text><text x="2212.45" y="476.64" font-size="44.15" textLength="53.02" lengthAdjust="spacingAndGlyphs">30</text><text transform="translate(2349.99 779.23) rotate(-90)" font-size="44.15" textLength="226.77" lengthAdjust="spacingAndGlyphs">Power (dB)</text><text x="3401.20" y="939.67" font-size="44.15" textLength="87.93" lengthAdjust="spacingAndGlyphs">−20</text><text x="3401.20" y="845.63" font-size="44.15" textLength="87.93" lengthAdjust="spacingAndGlyphs">−10</text><text x="3401.20" y="751.60" font-size="44.15" textLength="26.51" lengthAdjust="spacingAndGlyphs">0</text><text x="3401.20" y="657.56" font-size="44.15" textLength="53.02" lengthAdjust="spacingAndGlyphs">10</text><text x="3401.20" y="563.53" font-size="44.15" textLength="53.02" lengthAdjust="spacingAndGlyphs">20</text><text x="3401.20" y="469.50" font-size="44.15" textLength="53.02" lengthAdjust="spacingAndGlyphs">30</text><text transform="translate(3538.74 779.23) rotate(-90)" font-size="44.15" textLength="226.77" lengthAdjust="spacingAndGlyphs">Power (dB)</text><text x="4589.95" y="876.63" font-size="44.15" textLength="87.93" lengthAdjust="spacingAndGlyphs">−20</text><text x="4589.95" y="709.98" font-size="44.15" textLength="26.51" lengthAdjust="spacingAndGlyphs">0</text><text x="4589.95" y="543.33" font-size="44.15" textLength="53.02" lengthAdjust="spacingAndGlyphs">20</text><text transform="translate(4727.37 779.23) rotate(-90)" font-size="44.15" textLength="226.77" lengthAdjust="spacingAndGlyphs">Power (dB)</text><text x="1023.70" y="1675.54" font-size="44.15" textLength="87.93" lengthAdjust="spacingAndGlyphs">−10</text><text x="1023.70" y="1573.68" font-size="44.15" textLength="26.51" lengthAdjust="spacingAndGlyphs">0</text><text x="1023.70" y="1471.82" font-size="44.15" textLength="53.02" lengthAdjust="spacingAndGlyphs">10</text><text x="1023.70" y="1369.97" font-size="44.15" textLength="53.02" lengthAdjust="spacingAndGlyphs">20</text><text x="1023.70" y="1268.11" font-size="44.15" textLength="53.02" lengthAdjust="spacingAndGlyphs">30</text><text transform="translate(1161.24 1569.08) rotate(-90)" font-size="44.15" textLength="226.77" lengthAdjust="spacingAndGlyphs">Power (dB)</text><text x="2212.45" y="1662.16" font-size="44.15" textLength="87.93" lengthAdjust="spacingAndGlyphs">−40</text><text x="2212.45" y="1541.37" font-size="44.15" textLength="87.93" lengthAdjust="spacingAndGlyphs">−20</text><text x="2212.45" y="1420.57" font-size="44.15" textLength="26.51" lengthAdjust="spacingAndGlyphs">0</text><text x="2212.45" y="1299.78" font-size="44.15" textLength="53.02" lengthAdjust="spacingAndGlyphs">20</text><text transform="translate(2349.99 1569.08) rotate(-90)" font-size="44.15" textLength="226.77" lengthAdjust="spacingAndGlyphs">Power (dB)</text><text x="3401.20" y="1736.03" font-size="44.15" textLength="87.93" lengthAdjust="spacingAndGlyphs">−20</text><text x="3401.20" y="1641.62" font-size="44.15" textLength="87.93" lengthAdjust="spacingAndGlyphs">−10</text><text x="3401.20" y="1547.20" font-size="44.15" textLength="26.51" lengthAdjust="spacingAndGlyphs">0</text><text x="3401.20" y="1452.79" font-size="44.15" textLength="53.02" lengthAdjust="spacingAndGlyphs">10</text><text x="3401.20" y="1358.38" font-size="44.15" textLength="53.02" lengthAdjust="spacingAndGlyphs">20</text><text x="3401.20" y="1263.96" font-size="44.15" textLength="53.02" lengthAdjust="spacingAndGlyphs">30</text><text transform="translate(3538.74 1569.08) rotate(-90)" font-size="44.15" textLength="226.77" lengthAdjust="spacingAndGlyphs">Power (dB)</text><text x="4589.95" y="1744.35" font-size="44.15" textLength="87.93" lengthAdjust="spacingAndGlyphs">−20</text><text x="4589.95" y="1648.23" font-size="44.15" textLength="87.93" lengthAdjust="spacingAndGlyphs">−10</text><text x="4589.95" y="1552.11" font-size="44.15" textLength="26.51" lengthAdjust="spacingAndGlyphs">0</text><text x="4589.95" y="1455.99" font-size="44.15" textLength="53.02" lengthAdjust="spacingAndGlyphs">10</text><text x="4589.95" y="1359.87" font-size="44.15" textLength="53.02" lengthAdjust="spacingAndGlyphs">20</text><text x="4589.95" y="1263.75" font-size="44.15" textLength="53.02" lengthAdjust="spacingAndGlyphs">30</text><text transform="translate(4727.49 1569.08) rotate(-90)" font-size="44.15" textLength="226.77" lengthAdjust="spacingAndGlyphs">Power (dB)</text><text x="1023.70" y="2464.56" font-size="44.15" textLength="87.93" lengthAdjust="spacingAndGlyphs">−10</text><text x="1023.70" y="2363.72" font-size="44.15" textLength="26.51" lengthAdjust="spacingAndGlyphs">0</text><text x="1023.70" y="2262.89" font-size="44.15" textLength="53.02" lengthAdjust="spacingAndGlyphs">10</text><text x="1023.70" y="2162.05" font-size="44.15" textLength="53.02" lengthAdjust="spacingAndGlyphs">20</text><text x="1023.70" y="2061.22" font-size="44.15" textLength="53.02" lengthAdjust="spacingAndGlyphs">30</text><text transform="translate(1161.24 2358.93) rotate(-90)" font-size="44.15" textLength="226.77" lengthAdjust="spacingAndGlyphs">Power (dB)</text><text x="2212.45" y="2452.56" font-size="44.15" textLength="87.93" lengthAdjust="spacingAndGlyphs">−10</text><text x="2212.45" y="2354.43" font-size="44.15" textLength="26.51" lengthAdjust="spacingAndGlyphs">0</text><text x="2212.45" y="2256.30" font-size="44.15" textLength="53.02" lengthAdjust="spacingAndGlyphs">10</text><text x="2212.45" y="2158.17" font-size="44.15" textLength="53.02" lengthAdjust="spacingAndGlyphs">20</text><text x="2212.45" y="2060.04" font-size="44.15" textLength="53.02" lengthAdjust="spacingAndGlyphs">30</text><text transform="translate(2349.99 2358.93) rotate(-90)" font-size="44.15" textLength="226.77" lengthAdjust="spacingAndGlyphs">Power (dB)</text><text x="3401.20" y="2448.80" font-size="44.15" textLength="87.93" lengthAdjust="spacingAndGlyphs">−10</text><text x="3401.20" y="2350.84" font-size="44.15" textLength="26.51" lengthAdjust="spacingAndGlyphs">0</text><text x="3401.20" y="2252.88" font-size="44.15" textLength="53.02" lengthAdjust="spacingAndGlyphs">10</text><text x="3401.20" y="2154.92" font-size="44.15" textLength="53.02" lengthAdjust="spacingAndGlyphs">20</text><text x="3401.20" y="2056.96" font-size="44.15" textLength="53.02" lengthAdjust="spacingAndGlyphs">30</text><text transform="translate(3538.74 2358.93) rotate(-90)" font-size="44.15" textLength="226.77" lengthAdjust="spacingAndGlyphs">Power (dB)</text><text x="4589.95" y="2459.28" font-size="44.15" textLength="87.93" lengthAdjust="spacingAndGlyphs">−10</text><text x="4589.95" y="2360.98" font-size="44.15" textLength="26.51" lengthAdjust="spacingAndGlyphs">0</text><text x="4589.95" y="2262.67" font-size="44.15" textLength="53.02" lengthAdjust="spacingAndGlyphs">10</text><text x="4589.95" y="2164.37" font-size="44.15" textLength="53.02" lengthAdjust="spacingAndGlyphs">20</text><text x="4589.95" y="2066.07" font-size="44.15" textLength="53.02" lengthAdjust="spacingAndGlyphs">30</text><text transform="translate(4727.49 2358.93) rotate(-90)" font-size="44.15" textLength="226.77" lengthAdjust="spacingAndGlyphs">Power (dB)</text><text x="1023.70" y="3253.68" font-size="44.15" textLength="87.93" lengthAdjust="spacingAndGlyphs">−20</text><text x="1023.70" y="3087.03" font-size="44.15" textLength="26.51" lengthAdjust="spacingAndGlyphs">0</text><text x="1023.70" y="2920.38" font-size="44.15" textLength="53.02" lengthAdjust="spacingAndGlyphs">20</text><text transform="translate(1161.12 3148.78) rotate(-90)" font-size="44.15" textLength="226.77" lengthAdjust="spacingAndGlyphs">Power (dB)</text><text x="2212.45" y="3251.32" font-size="44.15" textLength="87.93" lengthAdjust="spacingAndGlyphs">−20</text><text x="2212.45" y="3086.62" font-size="44.15" textLength="26.51" lengthAdjust="spacingAndGlyphs">0</text><text x="2212.45" y="2921.92" font-size="44.15" textLength="53.02" lengthAdjust="spacingAndGlyphs">20</text><text transform="translate(2349.87 3148.78) rotate(-90)" font-size="44.15" textLength="226.77" lengthAdjust="spacingAndGlyphs">Power (dB)</text><text x="3401.20" y="3249.67" font-size="44.15" textLength="87.93" lengthAdjust="spacingAndGlyphs">−20</text><text x="3401.20" y="3084.97" font-size="44.15" textLength="26.51" lengthAdjust="spacingAndGlyphs">0</text><text x="3401.20" y="2920.28" font-size="44.15" textLength="53.02" lengthAdjust="spacingAndGlyphs">20</text><text transform="translate(3538.62 3148.78) rotate(-90)" font-size="44.15" textLength="226.77" lengthAdjust="spacingAndGlyphs">Power (dB)</text><text x="4589.95" y="3289.43" font-size="44.15" textLength="87.93" lengthAdjust="spacingAndGlyphs">−20</text><text x="4589.95" y="3111.07" font-size="44.15" textLength="26.51" lengthAdjust="spacingAndGlyphs">0</text><text x="4589.95" y="2932.71" font-size="44.15" textLength="53.02" lengthAdjust="spacingAndGlyphs">20</text><text transform="translate(4727.37 3148.78) rotate(-90)" font-size="44.15" textLength="226.77" lengthAdjust="spacingAndGlyphs">Power (dB)</text><text x="1850.31" y="124.00" font-size="70.64" textLength="1101.18" lengthAdjust="spacingAndGlyphs">Spectrograms for Label: turn_left</text></svg>
</body></html>
